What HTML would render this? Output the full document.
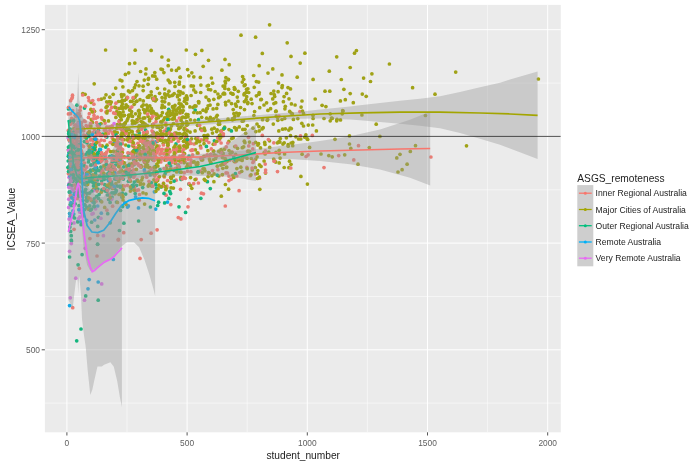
<!DOCTYPE html><html><head><meta charset="utf-8"><title>ICSEA_Value vs student_number</title>
<style>html,body{margin:0;padding:0;background:#fff}svg{display:block}text{font-family:"Liberation Sans",Arial,sans-serif}svg{will-change:transform}</style></head><body>
<svg width="700" height="466" viewBox="0 0 700 466">
<rect width="700" height="466" fill="#fff"/>
<rect x="44.9" y="4.9" width="515.9" height="427.4" fill="#EBEBEB"/>
<clipPath id="pc"><rect x="44.9" y="4.9" width="515.9" height="427.4"/></clipPath>
<g stroke="#fff" fill="none">
<line x1="127.0" x2="127.0" y1="4.9" y2="432.3" stroke-width="0.5"/>
<line x1="247.2" x2="247.2" y1="4.9" y2="432.3" stroke-width="0.5"/>
<line x1="367.4" x2="367.4" y1="4.9" y2="432.3" stroke-width="0.5"/>
<line x1="487.6" x2="487.6" y1="4.9" y2="432.3" stroke-width="0.5"/>
<line x1="44.9" x2="560.8" y1="403.1" y2="403.1" stroke-width="0.5"/>
<line x1="44.9" x2="560.8" y1="296.5" y2="296.5" stroke-width="0.5"/>
<line x1="44.9" x2="560.8" y1="189.8" y2="189.8" stroke-width="0.5"/>
<line x1="44.9" x2="560.8" y1="83.1" y2="83.1" stroke-width="0.5"/>
<line x1="66.9" x2="66.9" y1="4.9" y2="432.3" stroke-width="1"/>
<line x1="187.1" x2="187.1" y1="4.9" y2="432.3" stroke-width="1"/>
<line x1="307.3" x2="307.3" y1="4.9" y2="432.3" stroke-width="1"/>
<line x1="427.5" x2="427.5" y1="4.9" y2="432.3" stroke-width="1"/>
<line x1="547.7" x2="547.7" y1="4.9" y2="432.3" stroke-width="1"/>
<line x1="44.9" x2="560.8" y1="349.8" y2="349.8" stroke-width="1"/>
<line x1="44.9" x2="560.8" y1="243.1" y2="243.1" stroke-width="1"/>
<line x1="44.9" x2="560.8" y1="136.4" y2="136.4" stroke-width="1"/>
<line x1="44.9" x2="560.8" y1="29.7" y2="29.7" stroke-width="1"/>
</g>
<g clip-path="url(#pc)">
<g>
<circle cx="269.5" cy="140.8" r="1.85" fill="#A0A216"/>
<circle cx="249.5" cy="142.1" r="1.85" fill="#A0A216"/>
<circle cx="79.1" cy="155.2" r="1.85" fill="#EA7C74"/>
<circle cx="265.1" cy="153.9" r="1.85" fill="#A0A216"/>
<circle cx="95.4" cy="146.9" r="1.85" fill="#A0A216"/>
<circle cx="120.5" cy="116.8" r="1.85" fill="#A0A216"/>
<circle cx="278.8" cy="130.9" r="1.85" fill="#A0A216"/>
<circle cx="265.5" cy="173.1" r="1.85" fill="#A0A216"/>
<circle cx="196.9" cy="165.3" r="1.85" fill="#EA7C74"/>
<circle cx="155.4" cy="156.6" r="1.85" fill="#EA7C74"/>
<circle cx="277.7" cy="117.5" r="1.85" fill="#A0A216"/>
<circle cx="89.3" cy="181.8" r="1.85" fill="#13B57D"/>
<circle cx="90.7" cy="165.5" r="1.85" fill="#EA7C74"/>
<circle cx="138.8" cy="127.2" r="1.85" fill="#A0A216"/>
<circle cx="100.6" cy="200.8" r="1.85" fill="#13B57D"/>
<circle cx="79.8" cy="130.5" r="1.85" fill="#EA7C74"/>
<circle cx="74.3" cy="146.6" r="1.85" fill="#13B57D"/>
<circle cx="201.4" cy="193.2" r="1.85" fill="#EA7C74"/>
<circle cx="72.7" cy="307.7" r="1.85" fill="#EA7C74"/>
<circle cx="213.9" cy="181.7" r="1.85" fill="#A0A216"/>
<circle cx="197.5" cy="125.3" r="1.85" fill="#A0A216"/>
<circle cx="79.7" cy="128.1" r="1.85" fill="#13B57D"/>
<circle cx="216.7" cy="108.4" r="1.85" fill="#A0A216"/>
<circle cx="134.9" cy="123.2" r="1.85" fill="#A0A216"/>
<circle cx="116.7" cy="145.7" r="1.85" fill="#EA7C74"/>
<circle cx="249.7" cy="151.3" r="1.85" fill="#A0A216"/>
<circle cx="299.9" cy="111.6" r="1.85" fill="#EA7C74"/>
<circle cx="73.0" cy="181.3" r="1.85" fill="#13B57D"/>
<circle cx="156.7" cy="79.2" r="1.85" fill="#A0A216"/>
<circle cx="81.1" cy="164.0" r="1.85" fill="#13B57D"/>
<circle cx="88.4" cy="145.2" r="1.85" fill="#EA7C74"/>
<circle cx="291.2" cy="113.1" r="1.85" fill="#A0A216"/>
<circle cx="145.8" cy="174.1" r="1.85" fill="#EA7C74"/>
<circle cx="90.6" cy="170.2" r="1.85" fill="#13B57D"/>
<circle cx="218.8" cy="122.1" r="1.85" fill="#A0A216"/>
<circle cx="223.1" cy="153.8" r="1.85" fill="#A0A216"/>
<circle cx="88.9" cy="134.2" r="1.85" fill="#13B57D"/>
<circle cx="69.0" cy="130.8" r="1.85" fill="#13B57D"/>
<circle cx="72.4" cy="198.0" r="1.85" fill="#13B57D"/>
<circle cx="185.7" cy="145.4" r="1.85" fill="#EA7C74"/>
<circle cx="110.1" cy="142.5" r="1.85" fill="#EA7C74"/>
<circle cx="144.3" cy="155.1" r="1.85" fill="#EA7C74"/>
<circle cx="101.2" cy="140.1" r="1.85" fill="#EA7C74"/>
<circle cx="124.5" cy="115.3" r="1.85" fill="#A0A216"/>
<circle cx="224.5" cy="149.2" r="1.85" fill="#A0A216"/>
<circle cx="91.5" cy="175.1" r="1.85" fill="#EA7C74"/>
<circle cx="282.6" cy="129.2" r="1.85" fill="#A0A216"/>
<circle cx="93.3" cy="189.6" r="1.85" fill="#A0A216"/>
<circle cx="102.1" cy="168.0" r="1.85" fill="#EA7C74"/>
<circle cx="147.0" cy="132.9" r="1.85" fill="#A0A216"/>
<circle cx="238.3" cy="91.3" r="1.85" fill="#A0A216"/>
<circle cx="176.7" cy="120.9" r="1.85" fill="#EA7C74"/>
<circle cx="101.0" cy="161.6" r="1.85" fill="#EA7C74"/>
<circle cx="170.6" cy="193.6" r="1.85" fill="#13B57D"/>
<circle cx="88.2" cy="208.7" r="1.85" fill="#13B57D"/>
<circle cx="163.5" cy="183.1" r="1.85" fill="#EA7C74"/>
<circle cx="101.2" cy="192.2" r="1.85" fill="#A0A216"/>
<circle cx="172.6" cy="106.5" r="1.85" fill="#A0A216"/>
<circle cx="71.6" cy="205.2" r="1.85" fill="#DC73E7"/>
<circle cx="302.1" cy="154.2" r="1.85" fill="#A0A216"/>
<circle cx="91.0" cy="139.0" r="1.85" fill="#EA7C74"/>
<circle cx="153.1" cy="132.4" r="1.85" fill="#EA7C74"/>
<circle cx="201.5" cy="160.0" r="1.85" fill="#A0A216"/>
<circle cx="71.8" cy="98.6" r="1.85" fill="#EA7C74"/>
<circle cx="182.9" cy="134.3" r="1.85" fill="#A0A216"/>
<circle cx="210.7" cy="89.8" r="1.85" fill="#A0A216"/>
<circle cx="68.3" cy="130.4" r="1.85" fill="#EA7C74"/>
<circle cx="140.0" cy="258.4" r="1.85" fill="#EA7C74"/>
<circle cx="161.5" cy="150.4" r="1.85" fill="#EA7C74"/>
<circle cx="79.3" cy="145.0" r="1.85" fill="#13B57D"/>
<circle cx="219.4" cy="135.7" r="1.85" fill="#A0A216"/>
<circle cx="116.9" cy="111.4" r="1.85" fill="#A0A216"/>
<circle cx="86.3" cy="183.8" r="1.85" fill="#13B57D"/>
<circle cx="336.7" cy="56.8" r="1.85" fill="#A0A216"/>
<circle cx="255.6" cy="174.0" r="1.85" fill="#EA7C74"/>
<circle cx="177.7" cy="151.1" r="1.85" fill="#A0A216"/>
<circle cx="168.9" cy="91.2" r="1.85" fill="#A0A216"/>
<circle cx="89.7" cy="125.7" r="1.85" fill="#EA7C74"/>
<circle cx="171.6" cy="162.1" r="1.85" fill="#EA7C74"/>
<circle cx="303.5" cy="113.4" r="1.85" fill="#A0A216"/>
<circle cx="90.0" cy="151.3" r="1.85" fill="#EA7C74"/>
<circle cx="158.5" cy="177.6" r="1.85" fill="#EA7C74"/>
<circle cx="92.1" cy="155.4" r="1.85" fill="#14A9E5"/>
<circle cx="117.2" cy="150.8" r="1.85" fill="#13B57D"/>
<circle cx="69.4" cy="169.2" r="1.85" fill="#EA7C74"/>
<circle cx="94.1" cy="203.1" r="1.85" fill="#13B57D"/>
<circle cx="277.8" cy="120.3" r="1.85" fill="#A0A216"/>
<circle cx="99.8" cy="149.3" r="1.85" fill="#13B57D"/>
<circle cx="140.4" cy="184.5" r="1.85" fill="#A0A216"/>
<circle cx="155.3" cy="167.7" r="1.85" fill="#A0A216"/>
<circle cx="182.1" cy="112.5" r="1.85" fill="#A0A216"/>
<circle cx="78.6" cy="123.3" r="1.85" fill="#EA7C74"/>
<circle cx="72.4" cy="147.9" r="1.85" fill="#13B57D"/>
<circle cx="96.0" cy="189.2" r="1.85" fill="#13B57D"/>
<circle cx="124.8" cy="202.5" r="1.85" fill="#14A9E5"/>
<circle cx="80.2" cy="190.9" r="1.85" fill="#EA7C74"/>
<circle cx="143.2" cy="90.6" r="1.85" fill="#A0A216"/>
<circle cx="105.9" cy="168.8" r="1.85" fill="#13B57D"/>
<circle cx="82.7" cy="174.8" r="1.85" fill="#EA7C74"/>
<circle cx="173.3" cy="175.9" r="1.85" fill="#A0A216"/>
<circle cx="141.3" cy="167.1" r="1.85" fill="#A0A216"/>
<circle cx="107.4" cy="185.9" r="1.85" fill="#13B57D"/>
<circle cx="91.3" cy="119.5" r="1.85" fill="#A0A216"/>
<circle cx="175.3" cy="159.8" r="1.85" fill="#EA7C74"/>
<circle cx="69.7" cy="213.6" r="1.85" fill="#13B57D"/>
<circle cx="114.8" cy="151.7" r="1.85" fill="#A0A216"/>
<circle cx="105.8" cy="134.3" r="1.85" fill="#14A9E5"/>
<circle cx="105.5" cy="189.9" r="1.85" fill="#13B57D"/>
<circle cx="126.4" cy="165.9" r="1.85" fill="#EA7C74"/>
<circle cx="91.6" cy="222.2" r="1.85" fill="#13B57D"/>
<circle cx="217.7" cy="137.8" r="1.85" fill="#EA7C74"/>
<circle cx="118.6" cy="181.4" r="1.85" fill="#A0A216"/>
<circle cx="70.6" cy="100.7" r="1.85" fill="#EA7C74"/>
<circle cx="169.5" cy="130.6" r="1.85" fill="#A0A216"/>
<circle cx="251.2" cy="99.2" r="1.85" fill="#A0A216"/>
<circle cx="123.9" cy="139.7" r="1.85" fill="#A0A216"/>
<circle cx="154.8" cy="113.6" r="1.85" fill="#A0A216"/>
<circle cx="187.1" cy="97.7" r="1.85" fill="#A0A216"/>
<circle cx="143.0" cy="143.1" r="1.85" fill="#A0A216"/>
<circle cx="106.2" cy="131.6" r="1.85" fill="#EA7C74"/>
<circle cx="113.0" cy="187.0" r="1.85" fill="#13B57D"/>
<circle cx="72.1" cy="157.6" r="1.85" fill="#13B57D"/>
<circle cx="78.1" cy="264.8" r="1.85" fill="#13B57D"/>
<circle cx="167.0" cy="142.5" r="1.85" fill="#A0A216"/>
<circle cx="207.4" cy="181.7" r="1.85" fill="#13B57D"/>
<circle cx="76.0" cy="131.0" r="1.85" fill="#EA7C74"/>
<circle cx="118.1" cy="163.6" r="1.85" fill="#A0A216"/>
<circle cx="156.3" cy="171.7" r="1.85" fill="#A0A216"/>
<circle cx="132.1" cy="185.7" r="1.85" fill="#13B57D"/>
<circle cx="101.2" cy="170.6" r="1.85" fill="#13B57D"/>
<circle cx="147.4" cy="108.2" r="1.85" fill="#A0A216"/>
<circle cx="155.4" cy="182.7" r="1.85" fill="#A0A216"/>
<circle cx="258.9" cy="126.6" r="1.85" fill="#A0A216"/>
<circle cx="93.2" cy="140.6" r="1.85" fill="#EA7C74"/>
<circle cx="112.2" cy="137.8" r="1.85" fill="#EA7C74"/>
<circle cx="366.2" cy="96.3" r="1.85" fill="#A0A216"/>
<circle cx="147.3" cy="157.0" r="1.85" fill="#EA7C74"/>
<circle cx="80.7" cy="167.8" r="1.85" fill="#14A9E5"/>
<circle cx="91.2" cy="102.5" r="1.85" fill="#A0A216"/>
<circle cx="354.5" cy="53.2" r="1.85" fill="#A0A216"/>
<circle cx="173.2" cy="156.3" r="1.85" fill="#A0A216"/>
<circle cx="171.6" cy="141.1" r="1.85" fill="#EA7C74"/>
<circle cx="84.3" cy="141.6" r="1.85" fill="#13B57D"/>
<circle cx="169.0" cy="119.2" r="1.85" fill="#A0A216"/>
<circle cx="68.7" cy="207.4" r="1.85" fill="#DC73E7"/>
<circle cx="259.2" cy="65.7" r="1.85" fill="#A0A216"/>
<circle cx="204.0" cy="143.7" r="1.85" fill="#A0A216"/>
<circle cx="110.1" cy="170.2" r="1.85" fill="#EA7C74"/>
<circle cx="108.4" cy="179.4" r="1.85" fill="#13B57D"/>
<circle cx="257.3" cy="173.5" r="1.85" fill="#A0A216"/>
<circle cx="82.6" cy="154.6" r="1.85" fill="#EA7C74"/>
<circle cx="229.2" cy="64.7" r="1.85" fill="#A0A216"/>
<circle cx="81.5" cy="168.9" r="1.85" fill="#EA7C74"/>
<circle cx="119.4" cy="164.0" r="1.85" fill="#EA7C74"/>
<circle cx="115.1" cy="143.1" r="1.85" fill="#EA7C74"/>
<circle cx="124.5" cy="171.5" r="1.85" fill="#13B57D"/>
<circle cx="94.9" cy="138.8" r="1.85" fill="#EA7C74"/>
<circle cx="233.2" cy="137.8" r="1.85" fill="#A0A216"/>
<circle cx="165.6" cy="95.3" r="1.85" fill="#A0A216"/>
<circle cx="76.1" cy="136.0" r="1.85" fill="#EA7C74"/>
<circle cx="111.5" cy="181.9" r="1.85" fill="#13B57D"/>
<circle cx="68.5" cy="149.6" r="1.85" fill="#13B57D"/>
<circle cx="69.0" cy="166.7" r="1.85" fill="#13B57D"/>
<circle cx="74.8" cy="146.7" r="1.85" fill="#13B57D"/>
<circle cx="342.2" cy="113.8" r="1.85" fill="#A0A216"/>
<circle cx="278.1" cy="91.7" r="1.85" fill="#A0A216"/>
<circle cx="153.9" cy="179.8" r="1.85" fill="#A0A216"/>
<circle cx="260.8" cy="99.7" r="1.85" fill="#A0A216"/>
<circle cx="99.9" cy="133.7" r="1.85" fill="#EA7C74"/>
<circle cx="262.0" cy="128.9" r="1.85" fill="#A0A216"/>
<circle cx="111.4" cy="163.5" r="1.85" fill="#13B57D"/>
<circle cx="213.7" cy="151.1" r="1.85" fill="#EA7C74"/>
<circle cx="79.0" cy="205.7" r="1.85" fill="#13B57D"/>
<circle cx="115.6" cy="161.5" r="1.85" fill="#13B57D"/>
<circle cx="109.2" cy="187.8" r="1.85" fill="#13B57D"/>
<circle cx="132.3" cy="137.4" r="1.85" fill="#13B57D"/>
<circle cx="93.5" cy="169.6" r="1.85" fill="#13B57D"/>
<circle cx="324.0" cy="167.6" r="1.85" fill="#EA7C74"/>
<circle cx="238.2" cy="115.4" r="1.85" fill="#A0A216"/>
<circle cx="186.3" cy="50.0" r="1.85" fill="#A0A216"/>
<circle cx="120.2" cy="194.1" r="1.85" fill="#A0A216"/>
<circle cx="179.8" cy="94.8" r="1.85" fill="#A0A216"/>
<circle cx="184.6" cy="128.1" r="1.85" fill="#A0A216"/>
<circle cx="307.1" cy="138.7" r="1.85" fill="#A0A216"/>
<circle cx="133.9" cy="163.5" r="1.85" fill="#A0A216"/>
<circle cx="209.2" cy="173.1" r="1.85" fill="#A0A216"/>
<circle cx="297.8" cy="118.6" r="1.85" fill="#A0A216"/>
<circle cx="159.3" cy="139.3" r="1.85" fill="#A0A216"/>
<circle cx="89.0" cy="136.2" r="1.85" fill="#13B57D"/>
<circle cx="137.9" cy="143.3" r="1.85" fill="#EA7C74"/>
<circle cx="76.7" cy="340.8" r="1.85" fill="#13B57D"/>
<circle cx="157.1" cy="229.8" r="1.85" fill="#EA7C74"/>
<circle cx="142.9" cy="123.8" r="1.85" fill="#A0A216"/>
<circle cx="257.1" cy="156.8" r="1.85" fill="#A0A216"/>
<circle cx="143.8" cy="148.8" r="1.85" fill="#A0A216"/>
<circle cx="225.4" cy="184.5" r="1.85" fill="#A0A216"/>
<circle cx="186.6" cy="121.5" r="1.85" fill="#A0A216"/>
<circle cx="146.5" cy="110.2" r="1.85" fill="#A0A216"/>
<circle cx="94.4" cy="138.6" r="1.85" fill="#13B57D"/>
<circle cx="168.8" cy="170.9" r="1.85" fill="#A0A216"/>
<circle cx="94.2" cy="144.2" r="1.85" fill="#EA7C74"/>
<circle cx="71.2" cy="164.0" r="1.85" fill="#EA7C74"/>
<circle cx="128.9" cy="141.4" r="1.85" fill="#EA7C74"/>
<circle cx="273.8" cy="142.8" r="1.85" fill="#EA7C74"/>
<circle cx="191.5" cy="138.8" r="1.85" fill="#A0A216"/>
<circle cx="342.7" cy="110.7" r="1.85" fill="#A0A216"/>
<circle cx="217.9" cy="169.7" r="1.85" fill="#EA7C74"/>
<circle cx="132.1" cy="101.3" r="1.85" fill="#A0A216"/>
<circle cx="121.3" cy="169.8" r="1.85" fill="#A0A216"/>
<circle cx="79.4" cy="180.4" r="1.85" fill="#13B57D"/>
<circle cx="196.2" cy="179.1" r="1.85" fill="#EA7C74"/>
<circle cx="145.0" cy="150.3" r="1.85" fill="#A0A216"/>
<circle cx="140.0" cy="99.7" r="1.85" fill="#A0A216"/>
<circle cx="203.8" cy="139.9" r="1.85" fill="#A0A216"/>
<circle cx="74.0" cy="160.2" r="1.85" fill="#EA7C74"/>
<circle cx="136.4" cy="190.4" r="1.85" fill="#EA7C74"/>
<circle cx="214.4" cy="140.8" r="1.85" fill="#13B57D"/>
<circle cx="186.0" cy="129.3" r="1.85" fill="#EA7C74"/>
<circle cx="410.3" cy="151.4" r="1.85" fill="#A0A216"/>
<circle cx="168.2" cy="145.0" r="1.85" fill="#EA7C74"/>
<circle cx="166.6" cy="187.7" r="1.85" fill="#A0A216"/>
<circle cx="214.2" cy="128.2" r="1.85" fill="#A0A216"/>
<circle cx="290.5" cy="88.9" r="1.85" fill="#A0A216"/>
<circle cx="260.5" cy="147.9" r="1.85" fill="#A0A216"/>
<circle cx="71.0" cy="192.0" r="1.85" fill="#14A9E5"/>
<circle cx="213.8" cy="99.3" r="1.85" fill="#A0A216"/>
<circle cx="76.8" cy="163.0" r="1.85" fill="#13B57D"/>
<circle cx="95.9" cy="175.1" r="1.85" fill="#A0A216"/>
<circle cx="118.1" cy="114.2" r="1.85" fill="#A0A216"/>
<circle cx="116.1" cy="179.2" r="1.85" fill="#13B57D"/>
<circle cx="69.6" cy="257.0" r="1.85" fill="#13B57D"/>
<circle cx="83.7" cy="180.5" r="1.85" fill="#DC73E7"/>
<circle cx="264.7" cy="142.4" r="1.85" fill="#A0A216"/>
<circle cx="79.3" cy="186.9" r="1.85" fill="#DC73E7"/>
<circle cx="92.7" cy="110.2" r="1.85" fill="#EA7C74"/>
<circle cx="174.9" cy="133.1" r="1.85" fill="#A0A216"/>
<circle cx="110.8" cy="127.1" r="1.85" fill="#EA7C74"/>
<circle cx="200.9" cy="85.1" r="1.85" fill="#A0A216"/>
<circle cx="89.0" cy="193.5" r="1.85" fill="#A0A216"/>
<circle cx="168.2" cy="155.0" r="1.85" fill="#EA7C74"/>
<circle cx="190.5" cy="119.8" r="1.85" fill="#A0A216"/>
<circle cx="213.3" cy="144.2" r="1.85" fill="#A0A216"/>
<circle cx="138.4" cy="111.0" r="1.85" fill="#A0A216"/>
<circle cx="73.8" cy="128.6" r="1.85" fill="#A0A216"/>
<circle cx="70.2" cy="136.2" r="1.85" fill="#EA7C74"/>
<circle cx="152.4" cy="135.7" r="1.85" fill="#A0A216"/>
<circle cx="93.6" cy="163.4" r="1.85" fill="#13B57D"/>
<circle cx="117.6" cy="152.0" r="1.85" fill="#A0A216"/>
<circle cx="128.4" cy="90.9" r="1.85" fill="#A0A216"/>
<circle cx="110.1" cy="110.3" r="1.85" fill="#EA7C74"/>
<circle cx="292.8" cy="142.4" r="1.85" fill="#A0A216"/>
<circle cx="163.3" cy="143.2" r="1.85" fill="#A0A216"/>
<circle cx="119.9" cy="126.1" r="1.85" fill="#EA7C74"/>
<circle cx="91.3" cy="156.7" r="1.85" fill="#13B57D"/>
<circle cx="101.7" cy="181.1" r="1.85" fill="#13B57D"/>
<circle cx="121.7" cy="176.7" r="1.85" fill="#EA7C74"/>
<circle cx="258.6" cy="143.7" r="1.85" fill="#A0A216"/>
<circle cx="103.0" cy="158.7" r="1.85" fill="#13B57D"/>
<circle cx="178.3" cy="217.6" r="1.85" fill="#EA7C74"/>
<circle cx="141.9" cy="106.4" r="1.85" fill="#A0A216"/>
<circle cx="79.6" cy="130.2" r="1.85" fill="#13B57D"/>
<circle cx="185.1" cy="161.7" r="1.85" fill="#EA7C74"/>
<circle cx="72.0" cy="185.5" r="1.85" fill="#13B57D"/>
<circle cx="68.8" cy="137.1" r="1.85" fill="#EA7C74"/>
<circle cx="83.4" cy="194.7" r="1.85" fill="#EA7C74"/>
<circle cx="96.8" cy="160.6" r="1.85" fill="#13B57D"/>
<circle cx="126.2" cy="99.2" r="1.85" fill="#A0A216"/>
<circle cx="246.9" cy="167.4" r="1.85" fill="#EA7C74"/>
<circle cx="166.8" cy="165.9" r="1.85" fill="#A0A216"/>
<circle cx="167.7" cy="158.9" r="1.85" fill="#EA7C74"/>
<circle cx="140.8" cy="158.0" r="1.85" fill="#EA7C74"/>
<circle cx="85.1" cy="94.3" r="1.85" fill="#A0A216"/>
<circle cx="144.7" cy="171.4" r="1.85" fill="#EA7C74"/>
<circle cx="96.7" cy="181.5" r="1.85" fill="#EA7C74"/>
<circle cx="78.7" cy="122.3" r="1.85" fill="#EA7C74"/>
<circle cx="119.9" cy="145.5" r="1.85" fill="#EA7C74"/>
<circle cx="264.2" cy="152.5" r="1.85" fill="#A0A216"/>
<circle cx="148.1" cy="116.5" r="1.85" fill="#A0A216"/>
<circle cx="280.1" cy="158.1" r="1.85" fill="#A0A216"/>
<circle cx="274.9" cy="161.0" r="1.85" fill="#EA7C74"/>
<circle cx="253.3" cy="143.7" r="1.85" fill="#EA7C74"/>
<circle cx="71.3" cy="235.7" r="1.85" fill="#13B57D"/>
<circle cx="159.0" cy="146.0" r="1.85" fill="#EA7C74"/>
<circle cx="69.1" cy="139.5" r="1.85" fill="#13B57D"/>
<circle cx="158.2" cy="116.2" r="1.85" fill="#A0A216"/>
<circle cx="95.4" cy="150.1" r="1.85" fill="#EA7C74"/>
<circle cx="396.8" cy="157.9" r="1.85" fill="#A0A216"/>
<circle cx="86.2" cy="125.6" r="1.85" fill="#EA7C74"/>
<circle cx="70.3" cy="297.8" r="1.85" fill="#DC73E7"/>
<circle cx="110.5" cy="157.3" r="1.85" fill="#EA7C74"/>
<circle cx="83.2" cy="158.0" r="1.85" fill="#EA7C74"/>
<circle cx="175.0" cy="113.9" r="1.85" fill="#A0A216"/>
<circle cx="356.4" cy="50.6" r="1.85" fill="#A0A216"/>
<circle cx="143.0" cy="192.8" r="1.85" fill="#A0A216"/>
<circle cx="234.8" cy="116.4" r="1.85" fill="#A0A216"/>
<circle cx="119.5" cy="120.7" r="1.85" fill="#A0A216"/>
<circle cx="121.2" cy="151.5" r="1.85" fill="#EA7C74"/>
<circle cx="78.8" cy="173.3" r="1.85" fill="#EA7C74"/>
<circle cx="70.0" cy="134.3" r="1.85" fill="#14A9E5"/>
<circle cx="70.2" cy="129.2" r="1.85" fill="#13B57D"/>
<circle cx="170.6" cy="165.9" r="1.85" fill="#13B57D"/>
<circle cx="236.8" cy="175.9" r="1.85" fill="#EA7C74"/>
<circle cx="157.2" cy="135.8" r="1.85" fill="#A0A216"/>
<circle cx="75.9" cy="159.6" r="1.85" fill="#EA7C74"/>
<circle cx="194.8" cy="120.3" r="1.85" fill="#A0A216"/>
<circle cx="225.7" cy="104.8" r="1.85" fill="#A0A216"/>
<circle cx="232.5" cy="119.8" r="1.85" fill="#A0A216"/>
<circle cx="70.6" cy="149.2" r="1.85" fill="#13B57D"/>
<circle cx="196.0" cy="106.1" r="1.85" fill="#A0A216"/>
<circle cx="78.1" cy="189.6" r="1.85" fill="#14A9E5"/>
<circle cx="112.3" cy="128.0" r="1.85" fill="#EA7C74"/>
<circle cx="79.0" cy="123.2" r="1.85" fill="#13B57D"/>
<circle cx="118.6" cy="154.7" r="1.85" fill="#EA7C74"/>
<circle cx="235.1" cy="89.1" r="1.85" fill="#A0A216"/>
<circle cx="106.8" cy="137.1" r="1.85" fill="#13B57D"/>
<circle cx="206.9" cy="138.5" r="1.85" fill="#A0A216"/>
<circle cx="259.8" cy="189.3" r="1.85" fill="#A0A216"/>
<circle cx="173.8" cy="108.1" r="1.85" fill="#A0A216"/>
<circle cx="250.2" cy="175.7" r="1.85" fill="#EA7C74"/>
<circle cx="111.1" cy="173.2" r="1.85" fill="#A0A216"/>
<circle cx="70.9" cy="196.4" r="1.85" fill="#EA7C74"/>
<circle cx="120.2" cy="124.4" r="1.85" fill="#A0A216"/>
<circle cx="284.7" cy="118.5" r="1.85" fill="#A0A216"/>
<circle cx="223.4" cy="129.2" r="1.85" fill="#A0A216"/>
<circle cx="151.7" cy="158.1" r="1.85" fill="#13B57D"/>
<circle cx="169.5" cy="115.5" r="1.85" fill="#A0A216"/>
<circle cx="109.2" cy="167.0" r="1.85" fill="#13B57D"/>
<circle cx="116.5" cy="202.1" r="1.85" fill="#13B57D"/>
<circle cx="236.3" cy="129.9" r="1.85" fill="#A0A216"/>
<circle cx="182.4" cy="159.9" r="1.85" fill="#A0A216"/>
<circle cx="187.6" cy="69.6" r="1.85" fill="#A0A216"/>
<circle cx="70.9" cy="179.2" r="1.85" fill="#14A9E5"/>
<circle cx="79.1" cy="129.8" r="1.85" fill="#13B57D"/>
<circle cx="135.6" cy="196.8" r="1.85" fill="#14A9E5"/>
<circle cx="133.5" cy="144.7" r="1.85" fill="#EA7C74"/>
<circle cx="133.6" cy="159.8" r="1.85" fill="#13B57D"/>
<circle cx="276.0" cy="152.3" r="1.85" fill="#A0A216"/>
<circle cx="219.5" cy="140.0" r="1.85" fill="#EA7C74"/>
<circle cx="144.4" cy="162.2" r="1.85" fill="#EA7C74"/>
<circle cx="96.4" cy="157.5" r="1.85" fill="#13B57D"/>
<circle cx="114.2" cy="151.7" r="1.85" fill="#EA7C74"/>
<circle cx="217.2" cy="129.8" r="1.85" fill="#A0A216"/>
<circle cx="129.0" cy="116.4" r="1.85" fill="#A0A216"/>
<circle cx="164.4" cy="176.9" r="1.85" fill="#EA7C74"/>
<circle cx="104.7" cy="184.7" r="1.85" fill="#13B57D"/>
<circle cx="119.7" cy="158.0" r="1.85" fill="#13B57D"/>
<circle cx="200.3" cy="77.4" r="1.85" fill="#A0A216"/>
<circle cx="133.3" cy="138.7" r="1.85" fill="#EA7C74"/>
<circle cx="157.0" cy="145.9" r="1.85" fill="#A0A216"/>
<circle cx="122.5" cy="143.7" r="1.85" fill="#EA7C74"/>
<circle cx="203.5" cy="193.8" r="1.85" fill="#EA7C74"/>
<circle cx="267.7" cy="119.5" r="1.85" fill="#A0A216"/>
<circle cx="144.7" cy="145.5" r="1.85" fill="#A0A216"/>
<circle cx="79.1" cy="113.3" r="1.85" fill="#EA7C74"/>
<circle cx="174.3" cy="169.8" r="1.85" fill="#A0A216"/>
<circle cx="76.9" cy="105.2" r="1.85" fill="#13B57D"/>
<circle cx="184.9" cy="98.4" r="1.85" fill="#A0A216"/>
<circle cx="295.9" cy="136.8" r="1.85" fill="#A0A216"/>
<circle cx="139.0" cy="110.3" r="1.85" fill="#A0A216"/>
<circle cx="188.0" cy="159.2" r="1.85" fill="#EA7C74"/>
<circle cx="332.2" cy="118.4" r="1.85" fill="#A0A216"/>
<circle cx="168.7" cy="109.3" r="1.85" fill="#13B57D"/>
<circle cx="176.7" cy="138.0" r="1.85" fill="#EA7C74"/>
<circle cx="129.9" cy="172.2" r="1.85" fill="#A0A216"/>
<circle cx="134.4" cy="87.7" r="1.85" fill="#A0A216"/>
<circle cx="88.0" cy="288.8" r="1.85" fill="#14A9E5"/>
<circle cx="78.5" cy="186.4" r="1.85" fill="#13B57D"/>
<circle cx="322.1" cy="105.3" r="1.85" fill="#A0A216"/>
<circle cx="68.6" cy="154.8" r="1.85" fill="#14A9E5"/>
<circle cx="176.3" cy="133.0" r="1.85" fill="#A0A216"/>
<circle cx="187.1" cy="142.0" r="1.85" fill="#A0A216"/>
<circle cx="89.5" cy="154.0" r="1.85" fill="#EA7C74"/>
<circle cx="193.8" cy="89.9" r="1.85" fill="#A0A216"/>
<circle cx="81.9" cy="145.0" r="1.85" fill="#EA7C74"/>
<circle cx="259.2" cy="92.5" r="1.85" fill="#A0A216"/>
<circle cx="83.7" cy="130.7" r="1.85" fill="#EA7C74"/>
<circle cx="538.4" cy="79.0" r="1.85" fill="#A0A216"/>
<circle cx="125.7" cy="194.1" r="1.85" fill="#13B57D"/>
<circle cx="127.1" cy="97.3" r="1.85" fill="#A0A216"/>
<circle cx="98.4" cy="217.3" r="1.85" fill="#13B57D"/>
<circle cx="94.7" cy="220.0" r="1.85" fill="#14A9E5"/>
<circle cx="118.0" cy="155.8" r="1.85" fill="#EA7C74"/>
<circle cx="98.6" cy="162.6" r="1.85" fill="#EA7C74"/>
<circle cx="230.8" cy="93.1" r="1.85" fill="#A0A216"/>
<circle cx="165.8" cy="123.0" r="1.85" fill="#EA7C74"/>
<circle cx="114.6" cy="188.4" r="1.85" fill="#13B57D"/>
<circle cx="88.8" cy="171.9" r="1.85" fill="#13B57D"/>
<circle cx="143.6" cy="140.3" r="1.85" fill="#A0A216"/>
<circle cx="321.0" cy="154.0" r="1.85" fill="#A0A216"/>
<circle cx="71.9" cy="161.9" r="1.85" fill="#13B57D"/>
<circle cx="109.1" cy="169.6" r="1.85" fill="#A0A216"/>
<circle cx="221.1" cy="143.0" r="1.85" fill="#EA7C74"/>
<circle cx="290.2" cy="128.0" r="1.85" fill="#A0A216"/>
<circle cx="124.5" cy="100.5" r="1.85" fill="#A0A216"/>
<circle cx="113.2" cy="139.8" r="1.85" fill="#A0A216"/>
<circle cx="220.8" cy="131.1" r="1.85" fill="#A0A216"/>
<circle cx="72.2" cy="165.2" r="1.85" fill="#13B57D"/>
<circle cx="105.6" cy="50.0" r="1.85" fill="#A0A216"/>
<circle cx="86.9" cy="196.9" r="1.85" fill="#13B57D"/>
<circle cx="118.2" cy="240.0" r="1.85" fill="#EA7C74"/>
<circle cx="142.2" cy="125.2" r="1.85" fill="#A0A216"/>
<circle cx="120.1" cy="167.9" r="1.85" fill="#EA7C74"/>
<circle cx="114.8" cy="107.1" r="1.85" fill="#A0A216"/>
<circle cx="94.5" cy="111.3" r="1.85" fill="#A0A216"/>
<circle cx="76.5" cy="138.5" r="1.85" fill="#EA7C74"/>
<circle cx="109.0" cy="194.2" r="1.85" fill="#EA7C74"/>
<circle cx="108.2" cy="179.5" r="1.85" fill="#13B57D"/>
<circle cx="121.4" cy="94.6" r="1.85" fill="#A0A216"/>
<circle cx="140.0" cy="159.6" r="1.85" fill="#A0A216"/>
<circle cx="76.3" cy="146.8" r="1.85" fill="#13B57D"/>
<circle cx="114.7" cy="143.0" r="1.85" fill="#A0A216"/>
<circle cx="129.4" cy="177.8" r="1.85" fill="#A0A216"/>
<circle cx="115.7" cy="88.1" r="1.85" fill="#A0A216"/>
<circle cx="75.8" cy="157.9" r="1.85" fill="#13B57D"/>
<circle cx="225.2" cy="81.2" r="1.85" fill="#A0A216"/>
<circle cx="164.7" cy="93.9" r="1.85" fill="#A0A216"/>
<circle cx="157.4" cy="88.3" r="1.85" fill="#A0A216"/>
<circle cx="83.5" cy="146.6" r="1.85" fill="#EA7C74"/>
<circle cx="76.9" cy="140.4" r="1.85" fill="#EA7C74"/>
<circle cx="171.6" cy="70.1" r="1.85" fill="#A0A216"/>
<circle cx="139.2" cy="200.3" r="1.85" fill="#EA7C74"/>
<circle cx="218.6" cy="121.0" r="1.85" fill="#A0A216"/>
<circle cx="74.3" cy="157.2" r="1.85" fill="#13B57D"/>
<circle cx="235.4" cy="173.5" r="1.85" fill="#13B57D"/>
<circle cx="176.0" cy="143.9" r="1.85" fill="#13B57D"/>
<circle cx="169.0" cy="141.8" r="1.85" fill="#EA7C74"/>
<circle cx="122.2" cy="162.4" r="1.85" fill="#13B57D"/>
<circle cx="154.8" cy="72.6" r="1.85" fill="#A0A216"/>
<circle cx="466.5" cy="145.8" r="1.85" fill="#A0A216"/>
<circle cx="101.4" cy="117.6" r="1.85" fill="#EA7C74"/>
<circle cx="97.9" cy="189.1" r="1.85" fill="#13B57D"/>
<circle cx="138.2" cy="138.2" r="1.85" fill="#A0A216"/>
<circle cx="123.6" cy="127.6" r="1.85" fill="#A0A216"/>
<circle cx="138.7" cy="199.3" r="1.85" fill="#A0A216"/>
<circle cx="129.5" cy="164.0" r="1.85" fill="#A0A216"/>
<circle cx="113.2" cy="94.3" r="1.85" fill="#A0A216"/>
<circle cx="182.5" cy="158.0" r="1.85" fill="#EA7C74"/>
<circle cx="189.9" cy="106.9" r="1.85" fill="#A0A216"/>
<circle cx="138.6" cy="221.0" r="1.85" fill="#13B57D"/>
<circle cx="69.0" cy="152.6" r="1.85" fill="#13B57D"/>
<circle cx="157.6" cy="180.4" r="1.85" fill="#A0A216"/>
<circle cx="82.1" cy="254.6" r="1.85" fill="#13B57D"/>
<circle cx="169.0" cy="151.8" r="1.85" fill="#A0A216"/>
<circle cx="101.5" cy="173.4" r="1.85" fill="#EA7C74"/>
<circle cx="111.3" cy="102.1" r="1.85" fill="#A0A216"/>
<circle cx="210.5" cy="155.0" r="1.85" fill="#EA7C74"/>
<circle cx="79.6" cy="187.4" r="1.85" fill="#13B57D"/>
<circle cx="213.1" cy="108.9" r="1.85" fill="#A0A216"/>
<circle cx="247.8" cy="102.4" r="1.85" fill="#A0A216"/>
<circle cx="76.2" cy="174.0" r="1.85" fill="#14A9E5"/>
<circle cx="109.0" cy="102.4" r="1.85" fill="#A0A216"/>
<circle cx="83.0" cy="160.1" r="1.85" fill="#EA7C74"/>
<circle cx="105.9" cy="112.0" r="1.85" fill="#EA7C74"/>
<circle cx="74.8" cy="137.5" r="1.85" fill="#EA7C74"/>
<circle cx="200.2" cy="171.2" r="1.85" fill="#EA7C74"/>
<circle cx="225.5" cy="159.0" r="1.85" fill="#A0A216"/>
<circle cx="186.8" cy="136.2" r="1.85" fill="#A0A216"/>
<circle cx="168.4" cy="60.2" r="1.85" fill="#A0A216"/>
<circle cx="210.5" cy="154.5" r="1.85" fill="#A0A216"/>
<circle cx="86.7" cy="220.4" r="1.85" fill="#14A9E5"/>
<circle cx="171.0" cy="177.4" r="1.85" fill="#A0A216"/>
<circle cx="148.4" cy="158.3" r="1.85" fill="#A0A216"/>
<circle cx="312.3" cy="135.4" r="1.85" fill="#EA7C74"/>
<circle cx="98.4" cy="130.3" r="1.85" fill="#13B57D"/>
<circle cx="174.3" cy="116.4" r="1.85" fill="#A0A216"/>
<circle cx="78.2" cy="194.4" r="1.85" fill="#13B57D"/>
<circle cx="235.2" cy="162.0" r="1.85" fill="#EA7C74"/>
<circle cx="147.9" cy="161.5" r="1.85" fill="#EA7C74"/>
<circle cx="180.8" cy="177.4" r="1.85" fill="#A0A216"/>
<circle cx="72.1" cy="156.1" r="1.85" fill="#EA7C74"/>
<circle cx="180.5" cy="161.1" r="1.85" fill="#EA7C74"/>
<circle cx="93.3" cy="190.8" r="1.85" fill="#DC73E7"/>
<circle cx="94.0" cy="148.7" r="1.85" fill="#A0A216"/>
<circle cx="309.6" cy="147.4" r="1.85" fill="#A0A216"/>
<circle cx="75.1" cy="154.6" r="1.85" fill="#EA7C74"/>
<circle cx="131.9" cy="106.8" r="1.85" fill="#EA7C74"/>
<circle cx="93.7" cy="112.1" r="1.85" fill="#EA7C74"/>
<circle cx="73.2" cy="175.4" r="1.85" fill="#14A9E5"/>
<circle cx="185.4" cy="178.3" r="1.85" fill="#EA7C74"/>
<circle cx="193.6" cy="183.6" r="1.85" fill="#EA7C74"/>
<circle cx="255.3" cy="167.5" r="1.85" fill="#A0A216"/>
<circle cx="134.4" cy="147.6" r="1.85" fill="#EA7C74"/>
<circle cx="75.7" cy="169.8" r="1.85" fill="#EA7C74"/>
<circle cx="88.5" cy="117.4" r="1.85" fill="#EA7C74"/>
<circle cx="113.3" cy="259.4" r="1.85" fill="#14A9E5"/>
<circle cx="114.9" cy="160.1" r="1.85" fill="#EA7C74"/>
<circle cx="163.5" cy="183.7" r="1.85" fill="#A0A216"/>
<circle cx="89.2" cy="152.0" r="1.85" fill="#A0A216"/>
<circle cx="185.3" cy="139.0" r="1.85" fill="#A0A216"/>
<circle cx="153.3" cy="160.0" r="1.85" fill="#13B57D"/>
<circle cx="164.3" cy="153.1" r="1.85" fill="#A0A216"/>
<circle cx="77.9" cy="221.0" r="1.85" fill="#14A9E5"/>
<circle cx="76.8" cy="185.5" r="1.85" fill="#13B57D"/>
<circle cx="248.5" cy="137.3" r="1.85" fill="#EA7C74"/>
<circle cx="291.4" cy="103.9" r="1.85" fill="#A0A216"/>
<circle cx="307.4" cy="184.1" r="1.85" fill="#A0A216"/>
<circle cx="101.2" cy="110.3" r="1.85" fill="#EA7C74"/>
<circle cx="221.3" cy="131.5" r="1.85" fill="#EA7C74"/>
<circle cx="92.4" cy="122.4" r="1.85" fill="#A0A216"/>
<circle cx="129.6" cy="173.5" r="1.85" fill="#A0A216"/>
<circle cx="97.7" cy="157.7" r="1.85" fill="#13B57D"/>
<circle cx="76.3" cy="143.0" r="1.85" fill="#EA7C74"/>
<circle cx="145.1" cy="166.3" r="1.85" fill="#EA7C74"/>
<circle cx="371.9" cy="73.8" r="1.85" fill="#A0A216"/>
<circle cx="161.6" cy="133.0" r="1.85" fill="#EA7C74"/>
<circle cx="81.4" cy="122.7" r="1.85" fill="#EA7C74"/>
<circle cx="69.9" cy="155.3" r="1.85" fill="#EA7C74"/>
<circle cx="90.2" cy="176.3" r="1.85" fill="#EA7C74"/>
<circle cx="187.0" cy="99.7" r="1.85" fill="#A0A216"/>
<circle cx="145.9" cy="134.7" r="1.85" fill="#A0A216"/>
<circle cx="71.3" cy="175.9" r="1.85" fill="#13B57D"/>
<circle cx="79.0" cy="160.8" r="1.85" fill="#13B57D"/>
<circle cx="259.6" cy="178.1" r="1.85" fill="#EA7C74"/>
<circle cx="84.4" cy="204.7" r="1.85" fill="#13B57D"/>
<circle cx="173.4" cy="188.1" r="1.85" fill="#A0A216"/>
<circle cx="106.7" cy="191.5" r="1.85" fill="#13B57D"/>
<circle cx="83.1" cy="215.9" r="1.85" fill="#13B57D"/>
<circle cx="112.6" cy="206.2" r="1.85" fill="#EA7C74"/>
<circle cx="136.9" cy="152.1" r="1.85" fill="#EA7C74"/>
<circle cx="68.4" cy="168.4" r="1.85" fill="#EA7C74"/>
<circle cx="156.5" cy="153.1" r="1.85" fill="#EA7C74"/>
<circle cx="291.1" cy="143.0" r="1.85" fill="#A0A216"/>
<circle cx="76.5" cy="115.5" r="1.85" fill="#EA7C74"/>
<circle cx="146.0" cy="163.4" r="1.85" fill="#A0A216"/>
<circle cx="398.0" cy="172.0" r="1.85" fill="#A0A216"/>
<circle cx="88.7" cy="198.7" r="1.85" fill="#13B57D"/>
<circle cx="74.9" cy="157.9" r="1.85" fill="#EA7C74"/>
<circle cx="122.3" cy="161.3" r="1.85" fill="#EA7C74"/>
<circle cx="165.4" cy="140.3" r="1.85" fill="#A0A216"/>
<circle cx="247.5" cy="151.4" r="1.85" fill="#EA7C74"/>
<circle cx="74.0" cy="134.3" r="1.85" fill="#13B57D"/>
<circle cx="88.1" cy="127.4" r="1.85" fill="#EA7C74"/>
<circle cx="233.2" cy="109.6" r="1.85" fill="#A0A216"/>
<circle cx="152.6" cy="98.3" r="1.85" fill="#A0A216"/>
<circle cx="128.8" cy="133.3" r="1.85" fill="#A0A216"/>
<circle cx="73.3" cy="144.1" r="1.85" fill="#13B57D"/>
<circle cx="240.0" cy="159.6" r="1.85" fill="#A0A216"/>
<circle cx="133.5" cy="98.3" r="1.85" fill="#A0A216"/>
<circle cx="165.6" cy="159.4" r="1.85" fill="#EA7C74"/>
<circle cx="75.6" cy="129.8" r="1.85" fill="#EA7C74"/>
<circle cx="109.7" cy="156.4" r="1.85" fill="#13B57D"/>
<circle cx="84.6" cy="163.1" r="1.85" fill="#EA7C74"/>
<circle cx="229.8" cy="160.2" r="1.85" fill="#EA7C74"/>
<circle cx="79.2" cy="191.0" r="1.85" fill="#14A9E5"/>
<circle cx="79.0" cy="195.0" r="1.85" fill="#13B57D"/>
<circle cx="85.4" cy="174.3" r="1.85" fill="#13B57D"/>
<circle cx="188.8" cy="184.1" r="1.85" fill="#13B57D"/>
<circle cx="137.5" cy="131.3" r="1.85" fill="#EA7C74"/>
<circle cx="89.3" cy="179.0" r="1.85" fill="#13B57D"/>
<circle cx="234.8" cy="146.6" r="1.85" fill="#A0A216"/>
<circle cx="139.0" cy="131.1" r="1.85" fill="#EA7C74"/>
<circle cx="244.4" cy="156.7" r="1.85" fill="#EA7C74"/>
<circle cx="89.5" cy="131.5" r="1.85" fill="#EA7C74"/>
<circle cx="208.1" cy="176.6" r="1.85" fill="#A0A216"/>
<circle cx="236.9" cy="168.6" r="1.85" fill="#A0A216"/>
<circle cx="188.8" cy="75.8" r="1.85" fill="#A0A216"/>
<circle cx="82.0" cy="210.8" r="1.85" fill="#14A9E5"/>
<circle cx="154.5" cy="151.4" r="1.85" fill="#A0A216"/>
<circle cx="209.4" cy="159.1" r="1.85" fill="#A0A216"/>
<circle cx="190.8" cy="143.2" r="1.85" fill="#A0A216"/>
<circle cx="123.7" cy="166.8" r="1.85" fill="#13B57D"/>
<circle cx="113.7" cy="143.5" r="1.85" fill="#14A9E5"/>
<circle cx="94.2" cy="198.8" r="1.85" fill="#13B57D"/>
<circle cx="77.8" cy="222.0" r="1.85" fill="#13B57D"/>
<circle cx="148.7" cy="159.5" r="1.85" fill="#A0A216"/>
<circle cx="71.9" cy="188.4" r="1.85" fill="#DC73E7"/>
<circle cx="162.3" cy="105.1" r="1.85" fill="#A0A216"/>
<circle cx="345.3" cy="99.7" r="1.85" fill="#A0A216"/>
<circle cx="168.3" cy="111.9" r="1.85" fill="#A0A216"/>
<circle cx="114.9" cy="193.8" r="1.85" fill="#A0A216"/>
<circle cx="115.4" cy="165.0" r="1.85" fill="#13B57D"/>
<circle cx="86.9" cy="173.1" r="1.85" fill="#13B57D"/>
<circle cx="69.0" cy="177.2" r="1.85" fill="#DC73E7"/>
<circle cx="80.9" cy="155.1" r="1.85" fill="#13B57D"/>
<circle cx="70.3" cy="204.6" r="1.85" fill="#13B57D"/>
<circle cx="141.2" cy="239.6" r="1.85" fill="#EA7C74"/>
<circle cx="158.5" cy="178.0" r="1.85" fill="#EA7C74"/>
<circle cx="161.0" cy="186.9" r="1.85" fill="#13B57D"/>
<circle cx="84.7" cy="209.6" r="1.85" fill="#13B57D"/>
<circle cx="223.0" cy="164.1" r="1.85" fill="#A0A216"/>
<circle cx="369.3" cy="147.6" r="1.85" fill="#A0A216"/>
<circle cx="125.0" cy="171.0" r="1.85" fill="#EA7C74"/>
<circle cx="125.8" cy="145.0" r="1.85" fill="#A0A216"/>
<circle cx="70.6" cy="131.1" r="1.85" fill="#EA7C74"/>
<circle cx="166.3" cy="134.4" r="1.85" fill="#A0A216"/>
<circle cx="179.3" cy="118.0" r="1.85" fill="#EA7C74"/>
<circle cx="170.5" cy="159.0" r="1.85" fill="#A0A216"/>
<circle cx="112.0" cy="155.7" r="1.85" fill="#13B57D"/>
<circle cx="83.8" cy="177.0" r="1.85" fill="#EA7C74"/>
<circle cx="200.6" cy="128.9" r="1.85" fill="#A0A216"/>
<circle cx="122.5" cy="108.4" r="1.85" fill="#A0A216"/>
<circle cx="122.2" cy="106.9" r="1.85" fill="#A0A216"/>
<circle cx="226.0" cy="172.9" r="1.85" fill="#EA7C74"/>
<circle cx="182.8" cy="106.0" r="1.85" fill="#A0A216"/>
<circle cx="108.4" cy="149.6" r="1.85" fill="#EA7C74"/>
<circle cx="201.8" cy="130.5" r="1.85" fill="#EA7C74"/>
<circle cx="192.6" cy="154.9" r="1.85" fill="#EA7C74"/>
<circle cx="228.9" cy="141.4" r="1.85" fill="#A0A216"/>
<circle cx="104.3" cy="140.5" r="1.85" fill="#EA7C74"/>
<circle cx="118.7" cy="144.0" r="1.85" fill="#A0A216"/>
<circle cx="232.6" cy="93.9" r="1.85" fill="#A0A216"/>
<circle cx="190.9" cy="171.7" r="1.85" fill="#EA7C74"/>
<circle cx="117.5" cy="108.4" r="1.85" fill="#EA7C74"/>
<circle cx="157.2" cy="141.5" r="1.85" fill="#A0A216"/>
<circle cx="165.8" cy="189.7" r="1.85" fill="#A0A216"/>
<circle cx="162.4" cy="112.7" r="1.85" fill="#A0A216"/>
<circle cx="218.9" cy="176.0" r="1.85" fill="#A0A216"/>
<circle cx="282.0" cy="119.5" r="1.85" fill="#A0A216"/>
<circle cx="106.0" cy="176.4" r="1.85" fill="#13B57D"/>
<circle cx="178.1" cy="165.0" r="1.85" fill="#13B57D"/>
<circle cx="86.7" cy="207.1" r="1.85" fill="#13B57D"/>
<circle cx="183.8" cy="86.8" r="1.85" fill="#A0A216"/>
<circle cx="217.2" cy="115.3" r="1.85" fill="#A0A216"/>
<circle cx="122.7" cy="185.9" r="1.85" fill="#A0A216"/>
<circle cx="126.1" cy="104.8" r="1.85" fill="#A0A216"/>
<circle cx="71.8" cy="137.2" r="1.85" fill="#EA7C74"/>
<circle cx="96.5" cy="196.4" r="1.85" fill="#13B57D"/>
<circle cx="68.4" cy="113.9" r="1.85" fill="#EA7C74"/>
<circle cx="145.6" cy="130.1" r="1.85" fill="#13B57D"/>
<circle cx="206.8" cy="135.9" r="1.85" fill="#A0A216"/>
<circle cx="130.5" cy="181.1" r="1.85" fill="#A0A216"/>
<circle cx="151.7" cy="153.6" r="1.85" fill="#EA7C74"/>
<circle cx="190.9" cy="159.8" r="1.85" fill="#EA7C74"/>
<circle cx="110.8" cy="142.5" r="1.85" fill="#EA7C74"/>
<circle cx="329.8" cy="91.2" r="1.85" fill="#A0A216"/>
<circle cx="70.1" cy="176.2" r="1.85" fill="#14A9E5"/>
<circle cx="155.0" cy="166.6" r="1.85" fill="#13B57D"/>
<circle cx="400.0" cy="154.3" r="1.85" fill="#A0A216"/>
<circle cx="183.7" cy="177.1" r="1.85" fill="#EA7C74"/>
<circle cx="231.7" cy="138.6" r="1.85" fill="#A0A216"/>
<circle cx="112.1" cy="162.9" r="1.85" fill="#EA7C74"/>
<circle cx="94.0" cy="183.2" r="1.85" fill="#13B57D"/>
<circle cx="69.6" cy="147.2" r="1.85" fill="#14A9E5"/>
<circle cx="74.1" cy="177.3" r="1.85" fill="#13B57D"/>
<circle cx="207.2" cy="154.8" r="1.85" fill="#EA7C74"/>
<circle cx="242.1" cy="160.4" r="1.85" fill="#A0A216"/>
<circle cx="239.7" cy="172.6" r="1.85" fill="#EA7C74"/>
<circle cx="166.2" cy="171.7" r="1.85" fill="#A0A216"/>
<circle cx="185.5" cy="136.6" r="1.85" fill="#EA7C74"/>
<circle cx="80.7" cy="125.5" r="1.85" fill="#EA7C74"/>
<circle cx="174.7" cy="153.4" r="1.85" fill="#A0A216"/>
<circle cx="162.1" cy="97.5" r="1.85" fill="#A0A216"/>
<circle cx="175.9" cy="148.6" r="1.85" fill="#A0A216"/>
<circle cx="123.4" cy="128.1" r="1.85" fill="#A0A216"/>
<circle cx="225.5" cy="102.3" r="1.85" fill="#A0A216"/>
<circle cx="210.9" cy="162.7" r="1.85" fill="#A0A216"/>
<circle cx="77.3" cy="127.4" r="1.85" fill="#13B57D"/>
<circle cx="73.5" cy="119.4" r="1.85" fill="#EA7C74"/>
<circle cx="155.3" cy="174.4" r="1.85" fill="#EA7C74"/>
<circle cx="91.0" cy="171.1" r="1.85" fill="#13B57D"/>
<circle cx="69.7" cy="146.2" r="1.85" fill="#13B57D"/>
<circle cx="120.9" cy="163.4" r="1.85" fill="#EA7C74"/>
<circle cx="76.6" cy="151.7" r="1.85" fill="#13B57D"/>
<circle cx="166.1" cy="195.2" r="1.85" fill="#EA7C74"/>
<circle cx="184.4" cy="140.6" r="1.85" fill="#A0A216"/>
<circle cx="146.1" cy="193.8" r="1.85" fill="#A0A216"/>
<circle cx="268.4" cy="139.5" r="1.85" fill="#EA7C74"/>
<circle cx="165.6" cy="157.2" r="1.85" fill="#EA7C74"/>
<circle cx="187.7" cy="164.1" r="1.85" fill="#A0A216"/>
<circle cx="425.4" cy="115.5" r="1.85" fill="#A0A216"/>
<circle cx="268.8" cy="152.0" r="1.85" fill="#A0A216"/>
<circle cx="284.2" cy="142.8" r="1.85" fill="#A0A216"/>
<circle cx="279.9" cy="142.1" r="1.85" fill="#A0A216"/>
<circle cx="191.4" cy="162.3" r="1.85" fill="#EA7C74"/>
<circle cx="94.5" cy="149.5" r="1.85" fill="#13B57D"/>
<circle cx="113.6" cy="112.9" r="1.85" fill="#EA7C74"/>
<circle cx="300.8" cy="139.0" r="1.85" fill="#A0A216"/>
<circle cx="112.5" cy="188.5" r="1.85" fill="#A0A216"/>
<circle cx="252.0" cy="103.6" r="1.85" fill="#A0A216"/>
<circle cx="193.0" cy="107.4" r="1.85" fill="#A0A216"/>
<circle cx="133.8" cy="156.3" r="1.85" fill="#EA7C74"/>
<circle cx="96.0" cy="132.8" r="1.85" fill="#13B57D"/>
<circle cx="164.2" cy="131.0" r="1.85" fill="#EA7C74"/>
<circle cx="71.0" cy="171.9" r="1.85" fill="#14A9E5"/>
<circle cx="228.5" cy="79.3" r="1.85" fill="#A0A216"/>
<circle cx="79.6" cy="187.9" r="1.85" fill="#EA7C74"/>
<circle cx="148.1" cy="84.3" r="1.85" fill="#A0A216"/>
<circle cx="107.0" cy="176.0" r="1.85" fill="#EA7C74"/>
<circle cx="220.2" cy="96.6" r="1.85" fill="#A0A216"/>
<circle cx="75.8" cy="165.1" r="1.85" fill="#13B57D"/>
<circle cx="115.3" cy="158.4" r="1.85" fill="#EA7C74"/>
<circle cx="168.2" cy="80.1" r="1.85" fill="#A0A216"/>
<circle cx="136.6" cy="185.3" r="1.85" fill="#13B57D"/>
<circle cx="115.7" cy="192.1" r="1.85" fill="#13B57D"/>
<circle cx="139.3" cy="148.5" r="1.85" fill="#13B57D"/>
<circle cx="162.0" cy="135.7" r="1.85" fill="#A0A216"/>
<circle cx="89.0" cy="100.7" r="1.85" fill="#EA7C74"/>
<circle cx="180.1" cy="138.4" r="1.85" fill="#A0A216"/>
<circle cx="159.6" cy="93.3" r="1.85" fill="#A0A216"/>
<circle cx="82.4" cy="154.6" r="1.85" fill="#A0A216"/>
<circle cx="77.2" cy="127.8" r="1.85" fill="#EA7C74"/>
<circle cx="122.7" cy="128.6" r="1.85" fill="#A0A216"/>
<circle cx="82.4" cy="196.8" r="1.85" fill="#EA7C74"/>
<circle cx="117.3" cy="132.5" r="1.85" fill="#A0A216"/>
<circle cx="105.8" cy="130.0" r="1.85" fill="#EA7C74"/>
<circle cx="289.0" cy="98.8" r="1.85" fill="#A0A216"/>
<circle cx="73.3" cy="197.4" r="1.85" fill="#EA7C74"/>
<circle cx="81.3" cy="152.2" r="1.85" fill="#EA7C74"/>
<circle cx="166.8" cy="113.8" r="1.85" fill="#A0A216"/>
<circle cx="120.3" cy="164.0" r="1.85" fill="#A0A216"/>
<circle cx="128.6" cy="115.5" r="1.85" fill="#A0A216"/>
<circle cx="173.4" cy="123.6" r="1.85" fill="#A0A216"/>
<circle cx="113.6" cy="192.9" r="1.85" fill="#13B57D"/>
<circle cx="268.0" cy="73.1" r="1.85" fill="#A0A216"/>
<circle cx="121.9" cy="135.4" r="1.85" fill="#EA7C74"/>
<circle cx="77.5" cy="178.7" r="1.85" fill="#13B57D"/>
<circle cx="75.9" cy="193.3" r="1.85" fill="#A0A216"/>
<circle cx="69.6" cy="192.1" r="1.85" fill="#13B57D"/>
<circle cx="263.2" cy="127.7" r="1.85" fill="#A0A216"/>
<circle cx="222.3" cy="174.8" r="1.85" fill="#EA7C74"/>
<circle cx="279.2" cy="150.3" r="1.85" fill="#A0A216"/>
<circle cx="109.6" cy="181.9" r="1.85" fill="#EA7C74"/>
<circle cx="302.0" cy="101.0" r="1.85" fill="#A0A216"/>
<circle cx="166.0" cy="125.1" r="1.85" fill="#A0A216"/>
<circle cx="198.8" cy="103.0" r="1.85" fill="#A0A216"/>
<circle cx="153.4" cy="100.1" r="1.85" fill="#A0A216"/>
<circle cx="74.9" cy="192.5" r="1.85" fill="#13B57D"/>
<circle cx="72.8" cy="141.9" r="1.85" fill="#EA7C74"/>
<circle cx="121.6" cy="137.5" r="1.85" fill="#A0A216"/>
<circle cx="135.5" cy="84.9" r="1.85" fill="#A0A216"/>
<circle cx="147.3" cy="125.5" r="1.85" fill="#A0A216"/>
<circle cx="180.5" cy="110.7" r="1.85" fill="#A0A216"/>
<circle cx="121.8" cy="197.1" r="1.85" fill="#13B57D"/>
<circle cx="217.3" cy="166.2" r="1.85" fill="#A0A216"/>
<circle cx="77.3" cy="187.0" r="1.85" fill="#EA7C74"/>
<circle cx="139.2" cy="118.2" r="1.85" fill="#A0A216"/>
<circle cx="212.5" cy="133.1" r="1.85" fill="#A0A216"/>
<circle cx="86.6" cy="167.5" r="1.85" fill="#DC73E7"/>
<circle cx="130.5" cy="101.4" r="1.85" fill="#A0A216"/>
<circle cx="276.3" cy="116.1" r="1.85" fill="#A0A216"/>
<circle cx="82.4" cy="208.7" r="1.85" fill="#13B57D"/>
<circle cx="273.3" cy="124.1" r="1.85" fill="#A0A216"/>
<circle cx="80.1" cy="141.4" r="1.85" fill="#EA7C74"/>
<circle cx="174.3" cy="118.7" r="1.85" fill="#A0A216"/>
<circle cx="125.3" cy="122.8" r="1.85" fill="#A0A216"/>
<circle cx="139.9" cy="153.3" r="1.85" fill="#EA7C74"/>
<circle cx="71.6" cy="168.4" r="1.85" fill="#13B57D"/>
<circle cx="70.8" cy="137.6" r="1.85" fill="#13B57D"/>
<circle cx="237.3" cy="97.1" r="1.85" fill="#A0A216"/>
<circle cx="117.2" cy="124.5" r="1.85" fill="#A0A216"/>
<circle cx="87.4" cy="153.9" r="1.85" fill="#14A9E5"/>
<circle cx="204.8" cy="130.4" r="1.85" fill="#A0A216"/>
<circle cx="180.5" cy="189.3" r="1.85" fill="#EA7C74"/>
<circle cx="143.2" cy="138.7" r="1.85" fill="#EA7C74"/>
<circle cx="96.0" cy="201.2" r="1.85" fill="#EA7C74"/>
<circle cx="70.9" cy="173.3" r="1.85" fill="#13B57D"/>
<circle cx="72.5" cy="204.1" r="1.85" fill="#13B57D"/>
<circle cx="102.9" cy="170.8" r="1.85" fill="#EA7C74"/>
<circle cx="123.4" cy="179.1" r="1.85" fill="#13B57D"/>
<circle cx="153.3" cy="152.3" r="1.85" fill="#EA7C74"/>
<circle cx="160.0" cy="160.7" r="1.85" fill="#A0A216"/>
<circle cx="228.6" cy="89.3" r="1.85" fill="#A0A216"/>
<circle cx="113.1" cy="134.2" r="1.85" fill="#EA7C74"/>
<circle cx="72.7" cy="110.7" r="1.85" fill="#EA7C74"/>
<circle cx="71.2" cy="215.3" r="1.85" fill="#DC73E7"/>
<circle cx="164.7" cy="101.8" r="1.85" fill="#A0A216"/>
<circle cx="157.0" cy="172.1" r="1.85" fill="#A0A216"/>
<circle cx="118.9" cy="161.2" r="1.85" fill="#DC73E7"/>
<circle cx="68.5" cy="150.4" r="1.85" fill="#EA7C74"/>
<circle cx="282.0" cy="74.9" r="1.85" fill="#A0A216"/>
<circle cx="244.0" cy="94.8" r="1.85" fill="#A0A216"/>
<circle cx="148.8" cy="167.5" r="1.85" fill="#A0A216"/>
<circle cx="134.0" cy="164.7" r="1.85" fill="#13B57D"/>
<circle cx="145.2" cy="162.4" r="1.85" fill="#A0A216"/>
<circle cx="120.4" cy="187.3" r="1.85" fill="#13B57D"/>
<circle cx="119.2" cy="143.2" r="1.85" fill="#EA7C74"/>
<circle cx="201.8" cy="50.4" r="1.85" fill="#A0A216"/>
<circle cx="71.1" cy="217.4" r="1.85" fill="#14A9E5"/>
<circle cx="149.2" cy="110.9" r="1.85" fill="#A0A216"/>
<circle cx="166.8" cy="117.4" r="1.85" fill="#A0A216"/>
<circle cx="216.3" cy="156.2" r="1.85" fill="#A0A216"/>
<circle cx="185.8" cy="148.0" r="1.85" fill="#A0A216"/>
<circle cx="69.6" cy="171.7" r="1.85" fill="#13B57D"/>
<circle cx="252.8" cy="148.9" r="1.85" fill="#EA7C74"/>
<circle cx="97.0" cy="191.1" r="1.85" fill="#EA7C74"/>
<circle cx="140.6" cy="183.2" r="1.85" fill="#A0A216"/>
<circle cx="88.4" cy="97.6" r="1.85" fill="#EA7C74"/>
<circle cx="166.6" cy="168.5" r="1.85" fill="#A0A216"/>
<circle cx="74.1" cy="156.7" r="1.85" fill="#EA7C74"/>
<circle cx="153.9" cy="167.3" r="1.85" fill="#EA7C74"/>
<circle cx="74.9" cy="138.0" r="1.85" fill="#EA7C74"/>
<circle cx="304.8" cy="137.2" r="1.85" fill="#A0A216"/>
<circle cx="204.4" cy="168.8" r="1.85" fill="#A0A216"/>
<circle cx="89.4" cy="174.6" r="1.85" fill="#13B57D"/>
<circle cx="93.2" cy="118.8" r="1.85" fill="#EA7C74"/>
<circle cx="97.5" cy="244.2" r="1.85" fill="#13B57D"/>
<circle cx="70.6" cy="152.4" r="1.85" fill="#13B57D"/>
<circle cx="258.9" cy="94.3" r="1.85" fill="#A0A216"/>
<circle cx="106.1" cy="107.4" r="1.85" fill="#A0A216"/>
<circle cx="76.6" cy="167.0" r="1.85" fill="#13B57D"/>
<circle cx="176.1" cy="180.2" r="1.85" fill="#EA7C74"/>
<circle cx="131.1" cy="188.5" r="1.85" fill="#13B57D"/>
<circle cx="138.2" cy="151.3" r="1.85" fill="#EA7C74"/>
<circle cx="267.2" cy="120.3" r="1.85" fill="#A0A216"/>
<circle cx="140.5" cy="140.7" r="1.85" fill="#A0A216"/>
<circle cx="69.7" cy="139.8" r="1.85" fill="#13B57D"/>
<circle cx="117.7" cy="141.5" r="1.85" fill="#EA7C74"/>
<circle cx="78.5" cy="172.9" r="1.85" fill="#EA7C74"/>
<circle cx="78.0" cy="164.8" r="1.85" fill="#EA7C74"/>
<circle cx="82.8" cy="93.6" r="1.85" fill="#A0A216"/>
<circle cx="127.7" cy="174.8" r="1.85" fill="#13B57D"/>
<circle cx="92.8" cy="201.9" r="1.85" fill="#14A9E5"/>
<circle cx="94.8" cy="178.0" r="1.85" fill="#13B57D"/>
<circle cx="239.3" cy="126.9" r="1.85" fill="#A0A216"/>
<circle cx="80.5" cy="149.6" r="1.85" fill="#13B57D"/>
<circle cx="180.3" cy="127.6" r="1.85" fill="#A0A216"/>
<circle cx="79.8" cy="212.2" r="1.85" fill="#DC73E7"/>
<circle cx="78.7" cy="127.5" r="1.85" fill="#EA7C74"/>
<circle cx="179.2" cy="84.2" r="1.85" fill="#A0A216"/>
<circle cx="182.6" cy="151.4" r="1.85" fill="#A0A216"/>
<circle cx="185.6" cy="212.4" r="1.85" fill="#13B57D"/>
<circle cx="77.2" cy="198.6" r="1.85" fill="#EA7C74"/>
<circle cx="282.3" cy="85.5" r="1.85" fill="#A0A216"/>
<circle cx="121.9" cy="156.3" r="1.85" fill="#EA7C74"/>
<circle cx="86.6" cy="176.4" r="1.85" fill="#13B57D"/>
<circle cx="227.8" cy="143.0" r="1.85" fill="#EA7C74"/>
<circle cx="91.2" cy="200.5" r="1.85" fill="#A0A216"/>
<circle cx="92.8" cy="160.5" r="1.85" fill="#EA7C74"/>
<circle cx="174.9" cy="157.7" r="1.85" fill="#A0A216"/>
<circle cx="81.2" cy="208.7" r="1.85" fill="#DC73E7"/>
<circle cx="98.0" cy="131.7" r="1.85" fill="#EA7C74"/>
<circle cx="91.8" cy="181.1" r="1.85" fill="#13B57D"/>
<circle cx="91.8" cy="178.9" r="1.85" fill="#13B57D"/>
<circle cx="204.5" cy="156.2" r="1.85" fill="#EA7C74"/>
<circle cx="99.2" cy="162.5" r="1.85" fill="#13B57D"/>
<circle cx="336.7" cy="120.8" r="1.85" fill="#A0A216"/>
<circle cx="117.7" cy="138.6" r="1.85" fill="#EA7C74"/>
<circle cx="264.0" cy="105.0" r="1.85" fill="#A0A216"/>
<circle cx="282.0" cy="87.6" r="1.85" fill="#A0A216"/>
<circle cx="90.5" cy="127.6" r="1.85" fill="#EA7C74"/>
<circle cx="173.2" cy="158.5" r="1.85" fill="#A0A216"/>
<circle cx="84.5" cy="108.1" r="1.85" fill="#13B57D"/>
<circle cx="232.2" cy="152.2" r="1.85" fill="#EA7C74"/>
<circle cx="87.2" cy="199.0" r="1.85" fill="#A0A216"/>
<circle cx="84.5" cy="300.2" r="1.85" fill="#DC73E7"/>
<circle cx="158.7" cy="134.9" r="1.85" fill="#A0A216"/>
<circle cx="150.4" cy="153.3" r="1.85" fill="#A0A216"/>
<circle cx="81.1" cy="224.7" r="1.85" fill="#13B57D"/>
<circle cx="151.2" cy="95.0" r="1.85" fill="#A0A216"/>
<circle cx="255.7" cy="159.2" r="1.85" fill="#A0A216"/>
<circle cx="215.0" cy="144.1" r="1.85" fill="#EA7C74"/>
<circle cx="135.2" cy="50.2" r="1.85" fill="#A0A216"/>
<circle cx="169.3" cy="137.9" r="1.85" fill="#A0A216"/>
<circle cx="121.7" cy="106.1" r="1.85" fill="#A0A216"/>
<circle cx="159.5" cy="176.5" r="1.85" fill="#A0A216"/>
<circle cx="275.7" cy="162.1" r="1.85" fill="#A0A216"/>
<circle cx="70.7" cy="123.6" r="1.85" fill="#DC73E7"/>
<circle cx="155.7" cy="141.8" r="1.85" fill="#14A9E5"/>
<circle cx="213.5" cy="118.8" r="1.85" fill="#A0A216"/>
<circle cx="85.4" cy="184.5" r="1.85" fill="#13B57D"/>
<circle cx="223.0" cy="94.0" r="1.85" fill="#A0A216"/>
<circle cx="125.7" cy="131.7" r="1.85" fill="#A0A216"/>
<circle cx="88.5" cy="162.0" r="1.85" fill="#13B57D"/>
<circle cx="145.5" cy="166.9" r="1.85" fill="#A0A216"/>
<circle cx="130.8" cy="165.2" r="1.85" fill="#A0A216"/>
<circle cx="225.0" cy="158.6" r="1.85" fill="#A0A216"/>
<circle cx="133.6" cy="151.6" r="1.85" fill="#13B57D"/>
<circle cx="97.5" cy="153.7" r="1.85" fill="#13B57D"/>
<circle cx="69.9" cy="216.8" r="1.85" fill="#14A9E5"/>
<circle cx="234.5" cy="89.3" r="1.85" fill="#A0A216"/>
<circle cx="164.2" cy="159.9" r="1.85" fill="#EA7C74"/>
<circle cx="120.1" cy="80.1" r="1.85" fill="#A0A216"/>
<circle cx="206.4" cy="146.4" r="1.85" fill="#13B57D"/>
<circle cx="106.2" cy="162.7" r="1.85" fill="#EA7C74"/>
<circle cx="154.9" cy="76.2" r="1.85" fill="#A0A216"/>
<circle cx="276.1" cy="111.2" r="1.85" fill="#A0A216"/>
<circle cx="113.0" cy="168.4" r="1.85" fill="#A0A216"/>
<circle cx="243.5" cy="120.8" r="1.85" fill="#A0A216"/>
<circle cx="93.6" cy="164.8" r="1.85" fill="#14A9E5"/>
<circle cx="117.9" cy="159.5" r="1.85" fill="#13B57D"/>
<circle cx="136.0" cy="160.8" r="1.85" fill="#A0A216"/>
<circle cx="130.5" cy="171.0" r="1.85" fill="#13B57D"/>
<circle cx="124.7" cy="134.2" r="1.85" fill="#A0A216"/>
<circle cx="241.0" cy="35.2" r="1.85" fill="#A0A216"/>
<circle cx="97.6" cy="157.9" r="1.85" fill="#13B57D"/>
<circle cx="137.9" cy="155.5" r="1.85" fill="#A0A216"/>
<circle cx="76.9" cy="182.3" r="1.85" fill="#13B57D"/>
<circle cx="203.7" cy="156.5" r="1.85" fill="#A0A216"/>
<circle cx="72.9" cy="154.7" r="1.85" fill="#13B57D"/>
<circle cx="118.5" cy="145.4" r="1.85" fill="#EA7C74"/>
<circle cx="110.6" cy="151.6" r="1.85" fill="#A0A216"/>
<circle cx="112.1" cy="197.1" r="1.85" fill="#13B57D"/>
<circle cx="112.9" cy="156.1" r="1.85" fill="#EA7C74"/>
<circle cx="430.9" cy="157.0" r="1.85" fill="#EA7C74"/>
<circle cx="144.3" cy="169.9" r="1.85" fill="#14A9E5"/>
<circle cx="228.0" cy="119.1" r="1.85" fill="#A0A216"/>
<circle cx="193.8" cy="76.8" r="1.85" fill="#A0A216"/>
<circle cx="258.7" cy="82.1" r="1.85" fill="#A0A216"/>
<circle cx="121.1" cy="134.8" r="1.85" fill="#A0A216"/>
<circle cx="195.4" cy="149.8" r="1.85" fill="#A0A216"/>
<circle cx="175.8" cy="169.2" r="1.85" fill="#A0A216"/>
<circle cx="84.2" cy="165.9" r="1.85" fill="#13B57D"/>
<circle cx="105.2" cy="153.9" r="1.85" fill="#A0A216"/>
<circle cx="164.0" cy="193.4" r="1.85" fill="#13B57D"/>
<circle cx="120.6" cy="144.0" r="1.85" fill="#13B57D"/>
<circle cx="134.7" cy="150.1" r="1.85" fill="#A0A216"/>
<circle cx="211.4" cy="78.0" r="1.85" fill="#A0A216"/>
<circle cx="101.2" cy="155.1" r="1.85" fill="#A0A216"/>
<circle cx="71.5" cy="157.2" r="1.85" fill="#13B57D"/>
<circle cx="74.0" cy="222.9" r="1.85" fill="#DC73E7"/>
<circle cx="353.8" cy="159.9" r="1.85" fill="#EA7C74"/>
<circle cx="288.9" cy="167.7" r="1.85" fill="#A0A216"/>
<circle cx="97.0" cy="184.5" r="1.85" fill="#EA7C74"/>
<circle cx="124.7" cy="128.7" r="1.85" fill="#A0A216"/>
<circle cx="379.9" cy="136.4" r="1.85" fill="#A0A216"/>
<circle cx="180.1" cy="77.1" r="1.85" fill="#A0A216"/>
<circle cx="128.7" cy="153.4" r="1.85" fill="#13B57D"/>
<circle cx="273.7" cy="159.1" r="1.85" fill="#A0A216"/>
<circle cx="107.1" cy="169.0" r="1.85" fill="#EA7C74"/>
<circle cx="151.3" cy="108.4" r="1.85" fill="#A0A216"/>
<circle cx="335.0" cy="139.3" r="1.85" fill="#A0A216"/>
<circle cx="77.0" cy="171.4" r="1.85" fill="#A0A216"/>
<circle cx="124.4" cy="124.2" r="1.85" fill="#EA7C74"/>
<circle cx="77.5" cy="189.7" r="1.85" fill="#13B57D"/>
<circle cx="184.1" cy="162.7" r="1.85" fill="#A0A216"/>
<circle cx="85.4" cy="106.2" r="1.85" fill="#EA7C74"/>
<circle cx="99.4" cy="156.1" r="1.85" fill="#EA7C74"/>
<circle cx="73.1" cy="190.6" r="1.85" fill="#DC73E7"/>
<circle cx="261.3" cy="99.3" r="1.85" fill="#A0A216"/>
<circle cx="283.4" cy="101.7" r="1.85" fill="#A0A216"/>
<circle cx="229.0" cy="129.6" r="1.85" fill="#A0A216"/>
<circle cx="70.5" cy="195.4" r="1.85" fill="#EA7C74"/>
<circle cx="134.7" cy="174.1" r="1.85" fill="#EA7C74"/>
<circle cx="136.7" cy="180.4" r="1.85" fill="#EA7C74"/>
<circle cx="143.6" cy="160.5" r="1.85" fill="#EA7C74"/>
<circle cx="123.7" cy="232.7" r="1.85" fill="#EA7C74"/>
<circle cx="89.9" cy="238.6" r="1.85" fill="#EA7C74"/>
<circle cx="111.5" cy="164.1" r="1.85" fill="#EA7C74"/>
<circle cx="156.0" cy="137.4" r="1.85" fill="#A0A216"/>
<circle cx="102.8" cy="134.0" r="1.85" fill="#13B57D"/>
<circle cx="229.0" cy="180.6" r="1.85" fill="#EA7C74"/>
<circle cx="156.9" cy="173.3" r="1.85" fill="#EA7C74"/>
<circle cx="132.4" cy="145.7" r="1.85" fill="#EA7C74"/>
<circle cx="212.5" cy="170.6" r="1.85" fill="#EA7C74"/>
<circle cx="104.8" cy="158.4" r="1.85" fill="#13B57D"/>
<circle cx="82.8" cy="183.3" r="1.85" fill="#13B57D"/>
<circle cx="77.2" cy="165.1" r="1.85" fill="#13B57D"/>
<circle cx="86.9" cy="142.7" r="1.85" fill="#13B57D"/>
<circle cx="151.3" cy="182.7" r="1.85" fill="#13B57D"/>
<circle cx="135.5" cy="113.8" r="1.85" fill="#A0A216"/>
<circle cx="175.3" cy="163.2" r="1.85" fill="#A0A216"/>
<circle cx="156.9" cy="134.0" r="1.85" fill="#A0A216"/>
<circle cx="139.5" cy="145.9" r="1.85" fill="#A0A216"/>
<circle cx="225.0" cy="59.4" r="1.85" fill="#A0A216"/>
<circle cx="285.4" cy="128.8" r="1.85" fill="#A0A216"/>
<circle cx="149.2" cy="95.6" r="1.85" fill="#A0A216"/>
<circle cx="159.3" cy="159.7" r="1.85" fill="#A0A216"/>
<circle cx="184.7" cy="132.8" r="1.85" fill="#A0A216"/>
<circle cx="100.7" cy="158.6" r="1.85" fill="#EA7C74"/>
<circle cx="167.6" cy="180.5" r="1.85" fill="#EA7C74"/>
<circle cx="290.5" cy="135.7" r="1.85" fill="#A0A216"/>
<circle cx="160.8" cy="121.9" r="1.85" fill="#A0A216"/>
<circle cx="127.8" cy="118.7" r="1.85" fill="#A0A216"/>
<circle cx="238.6" cy="159.1" r="1.85" fill="#A0A216"/>
<circle cx="70.8" cy="168.5" r="1.85" fill="#13B57D"/>
<circle cx="330.2" cy="120.8" r="1.85" fill="#A0A216"/>
<circle cx="103.8" cy="165.7" r="1.85" fill="#EA7C74"/>
<circle cx="128.4" cy="205.9" r="1.85" fill="#14A9E5"/>
<circle cx="115.9" cy="176.2" r="1.85" fill="#14A9E5"/>
<circle cx="136.1" cy="135.3" r="1.85" fill="#A0A216"/>
<circle cx="167.0" cy="130.4" r="1.85" fill="#13B57D"/>
<circle cx="208.4" cy="85.4" r="1.85" fill="#A0A216"/>
<circle cx="150.9" cy="136.0" r="1.85" fill="#A0A216"/>
<circle cx="120.3" cy="147.4" r="1.85" fill="#EA7C74"/>
<circle cx="242.3" cy="147.7" r="1.85" fill="#A0A216"/>
<circle cx="85.9" cy="178.1" r="1.85" fill="#A0A216"/>
<circle cx="80.6" cy="107.0" r="1.85" fill="#EA7C74"/>
<circle cx="331.5" cy="118.1" r="1.85" fill="#A0A216"/>
<circle cx="71.1" cy="180.5" r="1.85" fill="#DC73E7"/>
<circle cx="157.7" cy="205.5" r="1.85" fill="#13B57D"/>
<circle cx="154.3" cy="174.4" r="1.85" fill="#A0A216"/>
<circle cx="149.9" cy="167.6" r="1.85" fill="#A0A216"/>
<circle cx="98.4" cy="132.4" r="1.85" fill="#EA7C74"/>
<circle cx="152.4" cy="141.2" r="1.85" fill="#EA7C74"/>
<circle cx="125.4" cy="123.0" r="1.85" fill="#A0A216"/>
<circle cx="121.6" cy="129.6" r="1.85" fill="#EA7C74"/>
<circle cx="202.7" cy="159.8" r="1.85" fill="#A0A216"/>
<circle cx="259.4" cy="164.9" r="1.85" fill="#A0A216"/>
<circle cx="92.5" cy="110.5" r="1.85" fill="#A0A216"/>
<circle cx="116.0" cy="155.9" r="1.85" fill="#A0A216"/>
<circle cx="102.3" cy="160.1" r="1.85" fill="#EA7C74"/>
<circle cx="168.0" cy="165.1" r="1.85" fill="#EA7C74"/>
<circle cx="151.1" cy="233.2" r="1.85" fill="#EA7C74"/>
<circle cx="123.9" cy="223.2" r="1.85" fill="#13B57D"/>
<circle cx="147.4" cy="97.2" r="1.85" fill="#A0A216"/>
<circle cx="160.4" cy="134.1" r="1.85" fill="#A0A216"/>
<circle cx="101.8" cy="135.4" r="1.85" fill="#EA7C74"/>
<circle cx="154.6" cy="143.2" r="1.85" fill="#EA7C74"/>
<circle cx="77.5" cy="164.6" r="1.85" fill="#EA7C74"/>
<circle cx="166.9" cy="152.3" r="1.85" fill="#EA7C74"/>
<circle cx="120.0" cy="186.0" r="1.85" fill="#13B57D"/>
<circle cx="200.7" cy="92.5" r="1.85" fill="#A0A216"/>
<circle cx="235.8" cy="146.0" r="1.85" fill="#EA7C74"/>
<circle cx="153.3" cy="132.3" r="1.85" fill="#A0A216"/>
<circle cx="73.6" cy="172.0" r="1.85" fill="#EA7C74"/>
<circle cx="139.3" cy="150.2" r="1.85" fill="#EA7C74"/>
<circle cx="155.1" cy="157.1" r="1.85" fill="#EA7C74"/>
<circle cx="220.5" cy="134.8" r="1.85" fill="#A0A216"/>
<circle cx="132.2" cy="120.9" r="1.85" fill="#A0A216"/>
<circle cx="74.2" cy="148.6" r="1.85" fill="#13B57D"/>
<circle cx="109.4" cy="127.0" r="1.85" fill="#EA7C74"/>
<circle cx="123.7" cy="163.2" r="1.85" fill="#EA7C74"/>
<circle cx="78.8" cy="155.6" r="1.85" fill="#EA7C74"/>
<circle cx="86.4" cy="138.2" r="1.85" fill="#13B57D"/>
<circle cx="402.1" cy="169.7" r="1.85" fill="#A0A216"/>
<circle cx="291.0" cy="56.4" r="1.85" fill="#A0A216"/>
<circle cx="155.4" cy="100.8" r="1.85" fill="#A0A216"/>
<circle cx="105.7" cy="153.8" r="1.85" fill="#EA7C74"/>
<circle cx="81.5" cy="166.8" r="1.85" fill="#14A9E5"/>
<circle cx="149.0" cy="181.3" r="1.85" fill="#EA7C74"/>
<circle cx="73.9" cy="200.7" r="1.85" fill="#14A9E5"/>
<circle cx="97.7" cy="179.7" r="1.85" fill="#13B57D"/>
<circle cx="361.9" cy="115.0" r="1.85" fill="#A0A216"/>
<circle cx="147.4" cy="173.0" r="1.85" fill="#EA7C74"/>
<circle cx="124.4" cy="162.9" r="1.85" fill="#A0A216"/>
<circle cx="149.0" cy="184.5" r="1.85" fill="#A0A216"/>
<circle cx="68.6" cy="133.7" r="1.85" fill="#13B57D"/>
<circle cx="153.6" cy="153.5" r="1.85" fill="#EA7C74"/>
<circle cx="77.4" cy="152.3" r="1.85" fill="#13B57D"/>
<circle cx="99.9" cy="159.0" r="1.85" fill="#EA7C74"/>
<circle cx="106.5" cy="161.2" r="1.85" fill="#EA7C74"/>
<circle cx="145.7" cy="163.1" r="1.85" fill="#A0A216"/>
<circle cx="132.0" cy="163.5" r="1.85" fill="#A0A216"/>
<circle cx="137.4" cy="157.2" r="1.85" fill="#13B57D"/>
<circle cx="114.1" cy="168.4" r="1.85" fill="#EA7C74"/>
<circle cx="127.5" cy="207.1" r="1.85" fill="#14A9E5"/>
<circle cx="102.0" cy="176.8" r="1.85" fill="#A0A216"/>
<circle cx="298.6" cy="139.0" r="1.85" fill="#A0A216"/>
<circle cx="289.7" cy="111.4" r="1.85" fill="#A0A216"/>
<circle cx="167.3" cy="119.5" r="1.85" fill="#13B57D"/>
<circle cx="82.3" cy="129.1" r="1.85" fill="#13B57D"/>
<circle cx="195.2" cy="110.1" r="1.85" fill="#13B57D"/>
<circle cx="80.4" cy="131.6" r="1.85" fill="#13B57D"/>
<circle cx="176.0" cy="158.7" r="1.85" fill="#EA7C74"/>
<circle cx="143.5" cy="184.1" r="1.85" fill="#A0A216"/>
<circle cx="226.3" cy="167.5" r="1.85" fill="#A0A216"/>
<circle cx="171.7" cy="135.8" r="1.85" fill="#A0A216"/>
<circle cx="141.0" cy="165.7" r="1.85" fill="#A0A216"/>
<circle cx="71.7" cy="134.3" r="1.85" fill="#14A9E5"/>
<circle cx="169.4" cy="149.7" r="1.85" fill="#A0A216"/>
<circle cx="70.7" cy="175.5" r="1.85" fill="#14A9E5"/>
<circle cx="191.8" cy="72.8" r="1.85" fill="#A0A216"/>
<circle cx="188.6" cy="199.3" r="1.85" fill="#EA7C74"/>
<circle cx="187.7" cy="124.2" r="1.85" fill="#A0A216"/>
<circle cx="118.9" cy="152.3" r="1.85" fill="#13B57D"/>
<circle cx="154.5" cy="155.3" r="1.85" fill="#EA7C74"/>
<circle cx="128.4" cy="181.2" r="1.85" fill="#13B57D"/>
<circle cx="190.7" cy="143.5" r="1.85" fill="#EA7C74"/>
<circle cx="71.6" cy="164.4" r="1.85" fill="#14A9E5"/>
<circle cx="174.0" cy="170.3" r="1.85" fill="#13B57D"/>
<circle cx="70.9" cy="223.6" r="1.85" fill="#13B57D"/>
<circle cx="175.7" cy="152.4" r="1.85" fill="#EA7C74"/>
<circle cx="91.4" cy="209.2" r="1.85" fill="#13B57D"/>
<circle cx="69.5" cy="158.9" r="1.85" fill="#13B57D"/>
<circle cx="170.5" cy="128.9" r="1.85" fill="#A0A216"/>
<circle cx="133.4" cy="146.0" r="1.85" fill="#A0A216"/>
<circle cx="94.0" cy="202.0" r="1.85" fill="#13B57D"/>
<circle cx="136.9" cy="101.1" r="1.85" fill="#A0A216"/>
<circle cx="85.7" cy="189.3" r="1.85" fill="#13B57D"/>
<circle cx="83.0" cy="170.3" r="1.85" fill="#EA7C74"/>
<circle cx="175.5" cy="136.7" r="1.85" fill="#EA7C74"/>
<circle cx="73.1" cy="138.8" r="1.85" fill="#14A9E5"/>
<circle cx="78.5" cy="194.4" r="1.85" fill="#13B57D"/>
<circle cx="143.3" cy="104.9" r="1.85" fill="#A0A216"/>
<circle cx="297.2" cy="77.2" r="1.85" fill="#A0A216"/>
<circle cx="277.5" cy="171.6" r="1.85" fill="#EA7C74"/>
<circle cx="154.1" cy="171.0" r="1.85" fill="#A0A216"/>
<circle cx="206.5" cy="140.5" r="1.85" fill="#EA7C74"/>
<circle cx="92.9" cy="175.1" r="1.85" fill="#A0A216"/>
<circle cx="101.0" cy="123.5" r="1.85" fill="#A0A216"/>
<circle cx="234.3" cy="87.6" r="1.85" fill="#A0A216"/>
<circle cx="152.7" cy="159.5" r="1.85" fill="#A0A216"/>
<circle cx="77.2" cy="126.8" r="1.85" fill="#EA7C74"/>
<circle cx="73.2" cy="137.1" r="1.85" fill="#EA7C74"/>
<circle cx="184.5" cy="153.6" r="1.85" fill="#A0A216"/>
<circle cx="75.2" cy="203.8" r="1.85" fill="#13B57D"/>
<circle cx="146.0" cy="68.9" r="1.85" fill="#A0A216"/>
<circle cx="227.0" cy="161.3" r="1.85" fill="#A0A216"/>
<circle cx="193.4" cy="86.1" r="1.85" fill="#A0A216"/>
<circle cx="219.6" cy="124.2" r="1.85" fill="#A0A216"/>
<circle cx="301.8" cy="123.3" r="1.85" fill="#A0A216"/>
<circle cx="224.0" cy="164.2" r="1.85" fill="#A0A216"/>
<circle cx="111.7" cy="107.4" r="1.85" fill="#EA7C74"/>
<circle cx="129.8" cy="179.8" r="1.85" fill="#EA7C74"/>
<circle cx="157.7" cy="140.3" r="1.85" fill="#EA7C74"/>
<circle cx="220.8" cy="165.1" r="1.85" fill="#A0A216"/>
<circle cx="75.9" cy="155.1" r="1.85" fill="#13B57D"/>
<circle cx="75.8" cy="179.5" r="1.85" fill="#13B57D"/>
<circle cx="191.8" cy="150.4" r="1.85" fill="#EA7C74"/>
<circle cx="191.8" cy="188.3" r="1.85" fill="#A0A216"/>
<circle cx="124.4" cy="175.1" r="1.85" fill="#A0A216"/>
<circle cx="72.4" cy="153.0" r="1.85" fill="#DC73E7"/>
<circle cx="87.8" cy="127.3" r="1.85" fill="#EA7C74"/>
<circle cx="150.2" cy="174.9" r="1.85" fill="#13B57D"/>
<circle cx="248.1" cy="151.1" r="1.85" fill="#A0A216"/>
<circle cx="228.8" cy="101.0" r="1.85" fill="#A0A216"/>
<circle cx="147.9" cy="106.9" r="1.85" fill="#A0A216"/>
<circle cx="154.8" cy="176.1" r="1.85" fill="#EA7C74"/>
<circle cx="88.3" cy="173.7" r="1.85" fill="#13B57D"/>
<circle cx="137.0" cy="121.9" r="1.85" fill="#A0A216"/>
<circle cx="257.0" cy="124.0" r="1.85" fill="#A0A216"/>
<circle cx="169.4" cy="111.0" r="1.85" fill="#A0A216"/>
<circle cx="82.0" cy="168.6" r="1.85" fill="#EA7C74"/>
<circle cx="340.5" cy="119.9" r="1.85" fill="#A0A216"/>
<circle cx="93.1" cy="213.4" r="1.85" fill="#DC73E7"/>
<circle cx="78.8" cy="172.1" r="1.85" fill="#EA7C74"/>
<circle cx="198.1" cy="171.7" r="1.85" fill="#13B57D"/>
<circle cx="208.5" cy="89.5" r="1.85" fill="#A0A216"/>
<circle cx="131.1" cy="114.1" r="1.85" fill="#A0A216"/>
<circle cx="152.5" cy="145.2" r="1.85" fill="#A0A216"/>
<circle cx="120.1" cy="152.6" r="1.85" fill="#A0A216"/>
<circle cx="170.1" cy="151.7" r="1.85" fill="#EA7C74"/>
<circle cx="184.4" cy="146.7" r="1.85" fill="#A0A216"/>
<circle cx="82.7" cy="95.0" r="1.85" fill="#EA7C74"/>
<circle cx="123.9" cy="124.8" r="1.85" fill="#A0A216"/>
<circle cx="152.7" cy="124.5" r="1.85" fill="#A0A216"/>
<circle cx="86.0" cy="200.3" r="1.85" fill="#13B57D"/>
<circle cx="245.7" cy="133.3" r="1.85" fill="#A0A216"/>
<circle cx="93.5" cy="170.1" r="1.85" fill="#A0A216"/>
<circle cx="126.0" cy="204.3" r="1.85" fill="#A0A216"/>
<circle cx="175.0" cy="105.4" r="1.85" fill="#A0A216"/>
<circle cx="292.4" cy="113.9" r="1.85" fill="#A0A216"/>
<circle cx="145.3" cy="161.6" r="1.85" fill="#EA7C74"/>
<circle cx="209.9" cy="160.8" r="1.85" fill="#A0A216"/>
<circle cx="187.3" cy="146.9" r="1.85" fill="#A0A216"/>
<circle cx="119.1" cy="194.5" r="1.85" fill="#A0A216"/>
<circle cx="95.6" cy="208.8" r="1.85" fill="#DC73E7"/>
<circle cx="107.6" cy="173.8" r="1.85" fill="#13B57D"/>
<circle cx="204.3" cy="179.3" r="1.85" fill="#A0A216"/>
<circle cx="279.0" cy="116.0" r="1.85" fill="#EA7C74"/>
<circle cx="111.8" cy="156.5" r="1.85" fill="#14A9E5"/>
<circle cx="175.8" cy="161.8" r="1.85" fill="#EA7C74"/>
<circle cx="181.1" cy="179.4" r="1.85" fill="#13B57D"/>
<circle cx="193.8" cy="112.5" r="1.85" fill="#A0A216"/>
<circle cx="338.7" cy="155.6" r="1.85" fill="#EA7C74"/>
<circle cx="201.7" cy="117.3" r="1.85" fill="#A0A216"/>
<circle cx="94.8" cy="144.7" r="1.85" fill="#EA7C74"/>
<circle cx="72.8" cy="122.3" r="1.85" fill="#13B57D"/>
<circle cx="274.1" cy="161.2" r="1.85" fill="#EA7C74"/>
<circle cx="86.8" cy="193.3" r="1.85" fill="#13B57D"/>
<circle cx="77.2" cy="186.8" r="1.85" fill="#14A9E5"/>
<circle cx="138.7" cy="146.3" r="1.85" fill="#A0A216"/>
<circle cx="115.5" cy="107.6" r="1.85" fill="#A0A216"/>
<circle cx="107.3" cy="111.1" r="1.85" fill="#A0A216"/>
<circle cx="172.1" cy="136.6" r="1.85" fill="#A0A216"/>
<circle cx="217.7" cy="120.1" r="1.85" fill="#A0A216"/>
<circle cx="94.3" cy="206.4" r="1.85" fill="#13B57D"/>
<circle cx="134.4" cy="163.9" r="1.85" fill="#EA7C74"/>
<circle cx="121.3" cy="176.4" r="1.85" fill="#EA7C74"/>
<circle cx="284.2" cy="167.5" r="1.85" fill="#A0A216"/>
<circle cx="96.4" cy="168.9" r="1.85" fill="#EA7C74"/>
<circle cx="72.5" cy="95.2" r="1.85" fill="#EA7C74"/>
<circle cx="107.1" cy="106.2" r="1.85" fill="#A0A216"/>
<circle cx="183.7" cy="149.2" r="1.85" fill="#EA7C74"/>
<circle cx="73.4" cy="132.2" r="1.85" fill="#13B57D"/>
<circle cx="223.2" cy="135.7" r="1.85" fill="#EA7C74"/>
<circle cx="262.3" cy="135.4" r="1.85" fill="#EA7C74"/>
<circle cx="68.3" cy="156.3" r="1.85" fill="#13B57D"/>
<circle cx="144.7" cy="117.9" r="1.85" fill="#A0A216"/>
<circle cx="190.1" cy="166.3" r="1.85" fill="#A0A216"/>
<circle cx="89.8" cy="205.9" r="1.85" fill="#13B57D"/>
<circle cx="215.6" cy="158.5" r="1.85" fill="#A0A216"/>
<circle cx="166.8" cy="133.4" r="1.85" fill="#A0A216"/>
<circle cx="183.1" cy="107.0" r="1.85" fill="#A0A216"/>
<circle cx="213.5" cy="151.2" r="1.85" fill="#A0A216"/>
<circle cx="239.3" cy="113.6" r="1.85" fill="#A0A216"/>
<circle cx="139.3" cy="133.1" r="1.85" fill="#13B57D"/>
<circle cx="104.3" cy="179.3" r="1.85" fill="#13B57D"/>
<circle cx="72.4" cy="97.1" r="1.85" fill="#EA7C74"/>
<circle cx="78.4" cy="145.7" r="1.85" fill="#EA7C74"/>
<circle cx="69.6" cy="305.6" r="1.85" fill="#14A9E5"/>
<circle cx="156.3" cy="181.6" r="1.85" fill="#A0A216"/>
<circle cx="71.1" cy="148.6" r="1.85" fill="#EA7C74"/>
<circle cx="103.4" cy="235.7" r="1.85" fill="#DC73E7"/>
<circle cx="328.8" cy="155.6" r="1.85" fill="#A0A216"/>
<circle cx="130.1" cy="172.6" r="1.85" fill="#13B57D"/>
<circle cx="91.9" cy="155.5" r="1.85" fill="#EA7C74"/>
<circle cx="142.5" cy="177.4" r="1.85" fill="#A0A216"/>
<circle cx="125.8" cy="107.8" r="1.85" fill="#A0A216"/>
<circle cx="308.3" cy="125.1" r="1.85" fill="#A0A216"/>
<circle cx="152.6" cy="137.0" r="1.85" fill="#A0A216"/>
<circle cx="179.0" cy="206.8" r="1.85" fill="#13B57D"/>
<circle cx="144.6" cy="159.7" r="1.85" fill="#A0A216"/>
<circle cx="201.1" cy="139.8" r="1.85" fill="#EA7C74"/>
<circle cx="97.5" cy="155.2" r="1.85" fill="#EA7C74"/>
<circle cx="122.9" cy="189.4" r="1.85" fill="#A0A216"/>
<circle cx="204.1" cy="128.2" r="1.85" fill="#A0A216"/>
<circle cx="129.5" cy="175.5" r="1.85" fill="#A0A216"/>
<circle cx="93.5" cy="155.4" r="1.85" fill="#A0A216"/>
<circle cx="152.0" cy="130.8" r="1.85" fill="#EA7C74"/>
<circle cx="112.2" cy="125.9" r="1.85" fill="#EA7C74"/>
<circle cx="100.8" cy="167.1" r="1.85" fill="#13B57D"/>
<circle cx="156.3" cy="147.9" r="1.85" fill="#A0A216"/>
<circle cx="110.3" cy="104.0" r="1.85" fill="#A0A216"/>
<circle cx="300.5" cy="135.8" r="1.85" fill="#EA7C74"/>
<circle cx="148.6" cy="97.2" r="1.85" fill="#A0A216"/>
<circle cx="141.9" cy="152.7" r="1.85" fill="#A0A216"/>
<circle cx="252.9" cy="162.5" r="1.85" fill="#EA7C74"/>
<circle cx="74.4" cy="185.0" r="1.85" fill="#EA7C74"/>
<circle cx="161.1" cy="115.6" r="1.85" fill="#A0A216"/>
<circle cx="220.6" cy="152.7" r="1.85" fill="#A0A216"/>
<circle cx="148.2" cy="186.1" r="1.85" fill="#A0A216"/>
<circle cx="169.7" cy="129.9" r="1.85" fill="#A0A216"/>
<circle cx="156.2" cy="115.6" r="1.85" fill="#EA7C74"/>
<circle cx="343.9" cy="89.3" r="1.85" fill="#A0A216"/>
<circle cx="273.9" cy="103.6" r="1.85" fill="#A0A216"/>
<circle cx="228.9" cy="176.1" r="1.85" fill="#EA7C74"/>
<circle cx="131.1" cy="176.3" r="1.85" fill="#13B57D"/>
<circle cx="74.9" cy="125.2" r="1.85" fill="#EA7C74"/>
<circle cx="68.8" cy="199.2" r="1.85" fill="#DC73E7"/>
<circle cx="166.4" cy="128.8" r="1.85" fill="#EA7C74"/>
<circle cx="134.8" cy="63.1" r="1.85" fill="#A0A216"/>
<circle cx="80.4" cy="181.6" r="1.85" fill="#A0A216"/>
<circle cx="173.7" cy="139.2" r="1.85" fill="#A0A216"/>
<circle cx="131.6" cy="111.6" r="1.85" fill="#A0A216"/>
<circle cx="182.4" cy="155.7" r="1.85" fill="#EA7C74"/>
<circle cx="145.1" cy="143.1" r="1.85" fill="#EA7C74"/>
<circle cx="131.0" cy="153.2" r="1.85" fill="#EA7C74"/>
<circle cx="90.9" cy="109.4" r="1.85" fill="#A0A216"/>
<circle cx="192.6" cy="149.9" r="1.85" fill="#EA7C74"/>
<circle cx="68.2" cy="161.0" r="1.85" fill="#13B57D"/>
<circle cx="162.0" cy="122.1" r="1.85" fill="#A0A216"/>
<circle cx="90.9" cy="126.0" r="1.85" fill="#A0A216"/>
<circle cx="141.1" cy="121.3" r="1.85" fill="#A0A216"/>
<circle cx="100.1" cy="135.4" r="1.85" fill="#EA7C74"/>
<circle cx="120.5" cy="210.4" r="1.85" fill="#13B57D"/>
<circle cx="117.4" cy="153.9" r="1.85" fill="#EA7C74"/>
<circle cx="126.2" cy="128.6" r="1.85" fill="#EA7C74"/>
<circle cx="127.0" cy="120.7" r="1.85" fill="#A0A216"/>
<circle cx="195.8" cy="138.5" r="1.85" fill="#A0A216"/>
<circle cx="186.8" cy="125.2" r="1.85" fill="#A0A216"/>
<circle cx="93.4" cy="109.7" r="1.85" fill="#EA7C74"/>
<circle cx="101.3" cy="213.2" r="1.85" fill="#14A9E5"/>
<circle cx="118.2" cy="148.9" r="1.85" fill="#EA7C74"/>
<circle cx="171.1" cy="136.9" r="1.85" fill="#EA7C74"/>
<circle cx="228.2" cy="79.7" r="1.85" fill="#A0A216"/>
<circle cx="71.5" cy="241.0" r="1.85" fill="#13B57D"/>
<circle cx="198.5" cy="101.8" r="1.85" fill="#A0A216"/>
<circle cx="124.2" cy="124.2" r="1.85" fill="#A0A216"/>
<circle cx="164.1" cy="168.5" r="1.85" fill="#EA7C74"/>
<circle cx="143.0" cy="122.3" r="1.85" fill="#A0A216"/>
<circle cx="208.7" cy="173.5" r="1.85" fill="#EA7C74"/>
<circle cx="127.3" cy="137.5" r="1.85" fill="#EA7C74"/>
<circle cx="209.1" cy="119.6" r="1.85" fill="#A0A216"/>
<circle cx="211.3" cy="148.9" r="1.85" fill="#EA7C74"/>
<circle cx="81.1" cy="156.4" r="1.85" fill="#13B57D"/>
<circle cx="313.1" cy="79.4" r="1.85" fill="#A0A216"/>
<circle cx="108.4" cy="133.5" r="1.85" fill="#EA7C74"/>
<circle cx="259.7" cy="107.7" r="1.85" fill="#A0A216"/>
<circle cx="68.8" cy="185.2" r="1.85" fill="#14A9E5"/>
<circle cx="115.7" cy="144.2" r="1.85" fill="#EA7C74"/>
<circle cx="156.0" cy="121.7" r="1.85" fill="#EA7C74"/>
<circle cx="203.0" cy="168.9" r="1.85" fill="#A0A216"/>
<circle cx="70.1" cy="173.5" r="1.85" fill="#13B57D"/>
<circle cx="172.8" cy="95.1" r="1.85" fill="#A0A216"/>
<circle cx="180.3" cy="77.3" r="1.85" fill="#A0A216"/>
<circle cx="119.6" cy="159.8" r="1.85" fill="#A0A216"/>
<circle cx="224.7" cy="86.0" r="1.85" fill="#A0A216"/>
<circle cx="253.6" cy="160.9" r="1.85" fill="#EA7C74"/>
<circle cx="118.6" cy="166.5" r="1.85" fill="#A0A216"/>
<circle cx="165.6" cy="159.9" r="1.85" fill="#A0A216"/>
<circle cx="79.8" cy="216.8" r="1.85" fill="#DC73E7"/>
<circle cx="180.5" cy="91.9" r="1.85" fill="#A0A216"/>
<circle cx="141.2" cy="151.5" r="1.85" fill="#A0A216"/>
<circle cx="104.2" cy="166.0" r="1.85" fill="#A0A216"/>
<circle cx="70.0" cy="167.6" r="1.85" fill="#EA7C74"/>
<circle cx="138.7" cy="116.4" r="1.85" fill="#A0A216"/>
<circle cx="145.2" cy="124.0" r="1.85" fill="#A0A216"/>
<circle cx="71.8" cy="197.5" r="1.85" fill="#14A9E5"/>
<circle cx="142.6" cy="158.2" r="1.85" fill="#EA7C74"/>
<circle cx="96.7" cy="170.4" r="1.85" fill="#13B57D"/>
<circle cx="305.9" cy="134.8" r="1.85" fill="#A0A216"/>
<circle cx="246.7" cy="96.7" r="1.85" fill="#A0A216"/>
<circle cx="78.0" cy="191.3" r="1.85" fill="#A0A216"/>
<circle cx="110.7" cy="184.8" r="1.85" fill="#EA7C74"/>
<circle cx="271.1" cy="93.5" r="1.85" fill="#A0A216"/>
<circle cx="204.5" cy="135.9" r="1.85" fill="#A0A216"/>
<circle cx="286.4" cy="137.8" r="1.85" fill="#A0A216"/>
<circle cx="151.4" cy="118.1" r="1.85" fill="#EA7C74"/>
<circle cx="170.3" cy="113.4" r="1.85" fill="#A0A216"/>
<circle cx="101.8" cy="183.6" r="1.85" fill="#EA7C74"/>
<circle cx="162.1" cy="140.2" r="1.85" fill="#A0A216"/>
<circle cx="102.0" cy="190.6" r="1.85" fill="#A0A216"/>
<circle cx="148.4" cy="158.4" r="1.85" fill="#A0A216"/>
<circle cx="138.5" cy="189.9" r="1.85" fill="#EA7C74"/>
<circle cx="93.9" cy="104.2" r="1.85" fill="#EA7C74"/>
<circle cx="284.9" cy="108.8" r="1.85" fill="#A0A216"/>
<circle cx="160.4" cy="130.5" r="1.85" fill="#A0A216"/>
<circle cx="154.3" cy="167.7" r="1.85" fill="#A0A216"/>
<circle cx="154.8" cy="98.9" r="1.85" fill="#A0A216"/>
<circle cx="96.7" cy="167.6" r="1.85" fill="#13B57D"/>
<circle cx="245.2" cy="84.8" r="1.85" fill="#A0A216"/>
<circle cx="117.7" cy="160.4" r="1.85" fill="#A0A216"/>
<circle cx="145.1" cy="111.2" r="1.85" fill="#A0A216"/>
<circle cx="272.8" cy="68.9" r="1.85" fill="#A0A216"/>
<circle cx="242.2" cy="121.2" r="1.85" fill="#A0A216"/>
<circle cx="177.5" cy="96.7" r="1.85" fill="#A0A216"/>
<circle cx="111.7" cy="199.2" r="1.85" fill="#DC73E7"/>
<circle cx="142.0" cy="126.7" r="1.85" fill="#A0A216"/>
<circle cx="174.8" cy="159.8" r="1.85" fill="#A0A216"/>
<circle cx="90.7" cy="123.2" r="1.85" fill="#EA7C74"/>
<circle cx="148.7" cy="147.4" r="1.85" fill="#A0A216"/>
<circle cx="123.1" cy="111.9" r="1.85" fill="#A0A216"/>
<circle cx="135.0" cy="97.2" r="1.85" fill="#A0A216"/>
<circle cx="158.7" cy="148.5" r="1.85" fill="#EA7C74"/>
<circle cx="210.7" cy="163.0" r="1.85" fill="#A0A216"/>
<circle cx="94.5" cy="179.7" r="1.85" fill="#A0A216"/>
<circle cx="300.9" cy="176.4" r="1.85" fill="#A0A216"/>
<circle cx="137.2" cy="179.6" r="1.85" fill="#EA7C74"/>
<circle cx="97.6" cy="158.1" r="1.85" fill="#EA7C74"/>
<circle cx="288.0" cy="87.6" r="1.85" fill="#A0A216"/>
<circle cx="142.4" cy="141.3" r="1.85" fill="#A0A216"/>
<circle cx="175.7" cy="110.2" r="1.85" fill="#A0A216"/>
<circle cx="86.9" cy="173.4" r="1.85" fill="#13B57D"/>
<circle cx="114.1" cy="123.6" r="1.85" fill="#DC73E7"/>
<circle cx="217.5" cy="141.0" r="1.85" fill="#EA7C74"/>
<circle cx="114.4" cy="171.4" r="1.85" fill="#A0A216"/>
<circle cx="81.5" cy="153.0" r="1.85" fill="#EA7C74"/>
<circle cx="176.8" cy="114.1" r="1.85" fill="#A0A216"/>
<circle cx="255.6" cy="37.2" r="1.85" fill="#A0A216"/>
<circle cx="232.9" cy="175.3" r="1.85" fill="#A0A216"/>
<circle cx="125.4" cy="74.4" r="1.85" fill="#A0A216"/>
<circle cx="184.0" cy="129.4" r="1.85" fill="#A0A216"/>
<circle cx="214.3" cy="154.8" r="1.85" fill="#A0A216"/>
<circle cx="68.5" cy="108.9" r="1.85" fill="#13B57D"/>
<circle cx="214.1" cy="173.9" r="1.85" fill="#A0A216"/>
<circle cx="217.9" cy="104.4" r="1.85" fill="#A0A216"/>
<circle cx="123.9" cy="94.9" r="1.85" fill="#A0A216"/>
<circle cx="262.3" cy="53.4" r="1.85" fill="#A0A216"/>
<circle cx="223.4" cy="133.9" r="1.85" fill="#EA7C74"/>
<circle cx="71.6" cy="205.4" r="1.85" fill="#14A9E5"/>
<circle cx="97.0" cy="256.0" r="1.85" fill="#EA7C74"/>
<circle cx="92.0" cy="149.4" r="1.85" fill="#A0A216"/>
<circle cx="170.1" cy="134.2" r="1.85" fill="#A0A216"/>
<circle cx="88.9" cy="159.4" r="1.85" fill="#13B57D"/>
<circle cx="99.5" cy="124.6" r="1.85" fill="#13B57D"/>
<circle cx="207.4" cy="108.6" r="1.85" fill="#A0A216"/>
<circle cx="407.1" cy="164.2" r="1.85" fill="#A0A216"/>
<circle cx="186.5" cy="95.8" r="1.85" fill="#A0A216"/>
<circle cx="340.4" cy="100.9" r="1.85" fill="#A0A216"/>
<circle cx="97.5" cy="117.2" r="1.85" fill="#EA7C74"/>
<circle cx="341.3" cy="79.5" r="1.85" fill="#A0A216"/>
<circle cx="132.8" cy="152.6" r="1.85" fill="#EA7C74"/>
<circle cx="151.0" cy="169.4" r="1.85" fill="#EA7C74"/>
<circle cx="86.7" cy="200.9" r="1.85" fill="#A0A216"/>
<circle cx="197.8" cy="138.1" r="1.85" fill="#EA7C74"/>
<circle cx="106.9" cy="210.2" r="1.85" fill="#EA7C74"/>
<circle cx="92.9" cy="182.6" r="1.85" fill="#13B57D"/>
<circle cx="225.3" cy="206.0" r="1.85" fill="#EA7C74"/>
<circle cx="220.8" cy="137.1" r="1.85" fill="#A0A216"/>
<circle cx="197.3" cy="140.2" r="1.85" fill="#A0A216"/>
<circle cx="175.6" cy="168.3" r="1.85" fill="#EA7C74"/>
<circle cx="158.9" cy="185.2" r="1.85" fill="#A0A216"/>
<circle cx="73.9" cy="138.0" r="1.85" fill="#13B57D"/>
<circle cx="160.8" cy="162.0" r="1.85" fill="#EA7C74"/>
<circle cx="171.8" cy="95.6" r="1.85" fill="#A0A216"/>
<circle cx="161.8" cy="107.7" r="1.85" fill="#A0A216"/>
<circle cx="99.4" cy="161.7" r="1.85" fill="#EA7C74"/>
<circle cx="350.2" cy="93.6" r="1.85" fill="#A0A216"/>
<circle cx="234.2" cy="161.3" r="1.85" fill="#A0A216"/>
<circle cx="126.8" cy="169.3" r="1.85" fill="#EA7C74"/>
<circle cx="231.1" cy="179.2" r="1.85" fill="#EA7C74"/>
<circle cx="89.3" cy="148.6" r="1.85" fill="#EA7C74"/>
<circle cx="137.7" cy="119.8" r="1.85" fill="#EA7C74"/>
<circle cx="97.3" cy="154.4" r="1.85" fill="#13B57D"/>
<circle cx="252.3" cy="170.0" r="1.85" fill="#A0A216"/>
<circle cx="155.6" cy="184.7" r="1.85" fill="#13B57D"/>
<circle cx="174.0" cy="106.5" r="1.85" fill="#A0A216"/>
<circle cx="170.1" cy="82.7" r="1.85" fill="#A0A216"/>
<circle cx="376.2" cy="124.2" r="1.85" fill="#A0A216"/>
<circle cx="89.2" cy="131.8" r="1.85" fill="#A0A216"/>
<circle cx="181.3" cy="151.3" r="1.85" fill="#EA7C74"/>
<circle cx="161.0" cy="69.1" r="1.85" fill="#A0A216"/>
<circle cx="119.5" cy="178.9" r="1.85" fill="#A0A216"/>
<circle cx="97.3" cy="125.4" r="1.85" fill="#EA7C74"/>
<circle cx="77.6" cy="178.7" r="1.85" fill="#13B57D"/>
<circle cx="156.6" cy="158.2" r="1.85" fill="#EA7C74"/>
<circle cx="75.8" cy="278.2" r="1.85" fill="#DC73E7"/>
<circle cx="76.2" cy="166.2" r="1.85" fill="#EA7C74"/>
<circle cx="96.7" cy="139.3" r="1.85" fill="#EA7C74"/>
<circle cx="167.9" cy="143.5" r="1.85" fill="#A0A216"/>
<circle cx="92.9" cy="147.1" r="1.85" fill="#14A9E5"/>
<circle cx="254.2" cy="87.3" r="1.85" fill="#A0A216"/>
<circle cx="91.0" cy="144.9" r="1.85" fill="#13B57D"/>
<circle cx="115.1" cy="173.0" r="1.85" fill="#14A9E5"/>
<circle cx="92.2" cy="175.5" r="1.85" fill="#13B57D"/>
<circle cx="151.2" cy="143.2" r="1.85" fill="#A0A216"/>
<circle cx="109.2" cy="195.6" r="1.85" fill="#EA7C74"/>
<circle cx="86.5" cy="166.8" r="1.85" fill="#EA7C74"/>
<circle cx="269.7" cy="147.4" r="1.85" fill="#A0A216"/>
<circle cx="152.5" cy="116.5" r="1.85" fill="#EA7C74"/>
<circle cx="124.6" cy="172.1" r="1.85" fill="#A0A216"/>
<circle cx="199.6" cy="125.3" r="1.85" fill="#EA7C74"/>
<circle cx="167.5" cy="202.1" r="1.85" fill="#14A9E5"/>
<circle cx="200.4" cy="146.0" r="1.85" fill="#A0A216"/>
<circle cx="80.0" cy="195.0" r="1.85" fill="#14A9E5"/>
<circle cx="76.5" cy="168.7" r="1.85" fill="#13B57D"/>
<circle cx="155.1" cy="96.7" r="1.85" fill="#A0A216"/>
<circle cx="137.5" cy="151.2" r="1.85" fill="#A0A216"/>
<circle cx="242.7" cy="157.9" r="1.85" fill="#A0A216"/>
<circle cx="117.4" cy="127.4" r="1.85" fill="#EA7C74"/>
<circle cx="128.5" cy="136.2" r="1.85" fill="#A0A216"/>
<circle cx="128.7" cy="146.1" r="1.85" fill="#13B57D"/>
<circle cx="325.9" cy="106.6" r="1.85" fill="#A0A216"/>
<circle cx="106.7" cy="152.1" r="1.85" fill="#EA7C74"/>
<circle cx="68.0" cy="167.3" r="1.85" fill="#13B57D"/>
<circle cx="68.8" cy="131.8" r="1.85" fill="#13B57D"/>
<circle cx="173.9" cy="147.7" r="1.85" fill="#A0A216"/>
<circle cx="78.3" cy="162.1" r="1.85" fill="#EA7C74"/>
<circle cx="72.2" cy="154.1" r="1.85" fill="#13B57D"/>
<circle cx="389.4" cy="64.0" r="1.85" fill="#A0A216"/>
<circle cx="144.8" cy="125.8" r="1.85" fill="#A0A216"/>
<circle cx="135.9" cy="137.4" r="1.85" fill="#A0A216"/>
<circle cx="303.5" cy="126.0" r="1.85" fill="#A0A216"/>
<circle cx="145.7" cy="74.0" r="1.85" fill="#A0A216"/>
<circle cx="76.5" cy="155.1" r="1.85" fill="#EA7C74"/>
<circle cx="105.2" cy="191.0" r="1.85" fill="#13B57D"/>
<circle cx="166.7" cy="154.5" r="1.85" fill="#A0A216"/>
<circle cx="174.2" cy="155.8" r="1.85" fill="#A0A216"/>
<circle cx="122.3" cy="193.1" r="1.85" fill="#13B57D"/>
<circle cx="246.2" cy="92.4" r="1.85" fill="#A0A216"/>
<circle cx="172.7" cy="169.0" r="1.85" fill="#EA7C74"/>
<circle cx="152.2" cy="111.0" r="1.85" fill="#A0A216"/>
<circle cx="108.6" cy="103.0" r="1.85" fill="#EA7C74"/>
<circle cx="70.3" cy="123.6" r="1.85" fill="#DC73E7"/>
<circle cx="149.6" cy="119.4" r="1.85" fill="#A0A216"/>
<circle cx="101.2" cy="99.2" r="1.85" fill="#A0A216"/>
<circle cx="74.4" cy="158.0" r="1.85" fill="#EA7C74"/>
<circle cx="109.8" cy="97.2" r="1.85" fill="#A0A216"/>
<circle cx="132.3" cy="157.7" r="1.85" fill="#EA7C74"/>
<circle cx="76.0" cy="135.7" r="1.85" fill="#EA7C74"/>
<circle cx="145.7" cy="140.0" r="1.85" fill="#EA7C74"/>
<circle cx="272.7" cy="98.9" r="1.85" fill="#A0A216"/>
<circle cx="97.9" cy="158.1" r="1.85" fill="#EA7C74"/>
<circle cx="127.9" cy="106.7" r="1.85" fill="#A0A216"/>
<circle cx="267.9" cy="110.4" r="1.85" fill="#A0A216"/>
<circle cx="183.0" cy="93.2" r="1.85" fill="#A0A216"/>
<circle cx="253.7" cy="75.5" r="1.85" fill="#A0A216"/>
<circle cx="122.6" cy="149.6" r="1.85" fill="#EA7C74"/>
<circle cx="111.9" cy="186.9" r="1.85" fill="#EA7C74"/>
<circle cx="71.8" cy="178.0" r="1.85" fill="#DC73E7"/>
<circle cx="169.3" cy="96.3" r="1.85" fill="#A0A216"/>
<circle cx="330.2" cy="113.8" r="1.85" fill="#A0A216"/>
<circle cx="143.3" cy="142.0" r="1.85" fill="#EA7C74"/>
<circle cx="171.6" cy="114.7" r="1.85" fill="#A0A216"/>
<circle cx="349.5" cy="135.9" r="1.85" fill="#A0A216"/>
<circle cx="171.1" cy="187.8" r="1.85" fill="#A0A216"/>
<circle cx="269.6" cy="24.8" r="1.85" fill="#A0A216"/>
<circle cx="188.1" cy="164.5" r="1.85" fill="#A0A216"/>
<circle cx="133.7" cy="144.5" r="1.85" fill="#EA7C74"/>
<circle cx="73.8" cy="134.1" r="1.85" fill="#EA7C74"/>
<circle cx="94.3" cy="169.0" r="1.85" fill="#13B57D"/>
<circle cx="125.1" cy="107.7" r="1.85" fill="#A0A216"/>
<circle cx="151.9" cy="186.2" r="1.85" fill="#A0A216"/>
<circle cx="178.7" cy="91.3" r="1.85" fill="#A0A216"/>
<circle cx="83.3" cy="128.2" r="1.85" fill="#A0A216"/>
<circle cx="189.1" cy="183.7" r="1.85" fill="#EA7C74"/>
<circle cx="89.2" cy="279.6" r="1.85" fill="#14A9E5"/>
<circle cx="157.1" cy="133.6" r="1.85" fill="#A0A216"/>
<circle cx="102.1" cy="189.6" r="1.85" fill="#13B57D"/>
<circle cx="78.8" cy="209.7" r="1.85" fill="#14A9E5"/>
<circle cx="247.0" cy="158.2" r="1.85" fill="#A0A216"/>
<circle cx="179.4" cy="82.1" r="1.85" fill="#A0A216"/>
<circle cx="274.7" cy="96.5" r="1.85" fill="#A0A216"/>
<circle cx="173.4" cy="118.6" r="1.85" fill="#A0A216"/>
<circle cx="292.7" cy="145.7" r="1.85" fill="#A0A216"/>
<circle cx="102.1" cy="119.1" r="1.85" fill="#EA7C74"/>
<circle cx="187.6" cy="130.9" r="1.85" fill="#A0A216"/>
<circle cx="222.4" cy="174.5" r="1.85" fill="#A0A216"/>
<circle cx="244.2" cy="85.7" r="1.85" fill="#A0A216"/>
<circle cx="93.6" cy="155.9" r="1.85" fill="#A0A216"/>
<circle cx="87.7" cy="133.0" r="1.85" fill="#EA7C74"/>
<circle cx="255.7" cy="142.3" r="1.85" fill="#A0A216"/>
<circle cx="111.3" cy="169.4" r="1.85" fill="#EA7C74"/>
<circle cx="108.6" cy="180.7" r="1.85" fill="#14A9E5"/>
<circle cx="210.1" cy="105.1" r="1.85" fill="#A0A216"/>
<circle cx="122.2" cy="132.2" r="1.85" fill="#A0A216"/>
<circle cx="218.6" cy="97.7" r="1.85" fill="#A0A216"/>
<circle cx="244.4" cy="101.6" r="1.85" fill="#A0A216"/>
<circle cx="101.7" cy="201.8" r="1.85" fill="#A0A216"/>
<circle cx="81.4" cy="157.9" r="1.85" fill="#13B57D"/>
<circle cx="143.6" cy="141.9" r="1.85" fill="#EA7C74"/>
<circle cx="159.9" cy="154.1" r="1.85" fill="#EA7C74"/>
<circle cx="256.4" cy="81.6" r="1.85" fill="#A0A216"/>
<circle cx="70.5" cy="156.7" r="1.85" fill="#13B57D"/>
<circle cx="79.5" cy="137.4" r="1.85" fill="#EA7C74"/>
<circle cx="163.4" cy="145.0" r="1.85" fill="#EA7C74"/>
<circle cx="106.7" cy="101.8" r="1.85" fill="#A0A216"/>
<circle cx="202.3" cy="172.7" r="1.85" fill="#A0A216"/>
<circle cx="87.9" cy="172.5" r="1.85" fill="#A0A216"/>
<circle cx="216.2" cy="117.0" r="1.85" fill="#A0A216"/>
<circle cx="169.3" cy="133.0" r="1.85" fill="#EA7C74"/>
<circle cx="71.7" cy="118.3" r="1.85" fill="#EA7C74"/>
<circle cx="132.5" cy="123.7" r="1.85" fill="#A0A216"/>
<circle cx="178.3" cy="141.2" r="1.85" fill="#EA7C74"/>
<circle cx="206.6" cy="118.2" r="1.85" fill="#A0A216"/>
<circle cx="70.0" cy="124.3" r="1.85" fill="#EA7C74"/>
<circle cx="144.9" cy="112.7" r="1.85" fill="#A0A216"/>
<circle cx="194.1" cy="144.0" r="1.85" fill="#EA7C74"/>
<circle cx="222.8" cy="168.3" r="1.85" fill="#A0A216"/>
<circle cx="115.9" cy="183.7" r="1.85" fill="#A0A216"/>
<circle cx="101.7" cy="283.9" r="1.85" fill="#DC73E7"/>
<circle cx="291.0" cy="164.3" r="1.85" fill="#A0A216"/>
<circle cx="127.9" cy="156.8" r="1.85" fill="#13B57D"/>
<circle cx="223.0" cy="153.1" r="1.85" fill="#A0A216"/>
<circle cx="197.7" cy="162.5" r="1.85" fill="#A0A216"/>
<circle cx="117.4" cy="186.1" r="1.85" fill="#13B57D"/>
<circle cx="178.1" cy="108.4" r="1.85" fill="#A0A216"/>
<circle cx="313.0" cy="115.4" r="1.85" fill="#A0A216"/>
<circle cx="84.2" cy="120.9" r="1.85" fill="#EA7C74"/>
<circle cx="88.7" cy="209.2" r="1.85" fill="#A0A216"/>
<circle cx="261.0" cy="166.4" r="1.85" fill="#A0A216"/>
<circle cx="158.7" cy="137.0" r="1.85" fill="#EA7C74"/>
<circle cx="350.8" cy="148.4" r="1.85" fill="#A0A216"/>
<circle cx="117.8" cy="138.5" r="1.85" fill="#EA7C74"/>
<circle cx="208.5" cy="60.3" r="1.85" fill="#A0A216"/>
<circle cx="179.9" cy="133.8" r="1.85" fill="#A0A216"/>
<circle cx="221.3" cy="196.2" r="1.85" fill="#A0A216"/>
<circle cx="148.4" cy="151.7" r="1.85" fill="#A0A216"/>
<circle cx="104.3" cy="130.1" r="1.85" fill="#EA7C74"/>
<circle cx="114.7" cy="178.9" r="1.85" fill="#13B57D"/>
<circle cx="134.4" cy="122.7" r="1.85" fill="#A0A216"/>
<circle cx="123.1" cy="197.1" r="1.85" fill="#A0A216"/>
<circle cx="266.6" cy="102.8" r="1.85" fill="#A0A216"/>
<circle cx="74.2" cy="154.5" r="1.85" fill="#13B57D"/>
<circle cx="227.5" cy="173.0" r="1.85" fill="#EA7C74"/>
<circle cx="168.2" cy="65.7" r="1.85" fill="#A0A216"/>
<circle cx="100.6" cy="171.3" r="1.85" fill="#EA7C74"/>
<circle cx="134.4" cy="187.4" r="1.85" fill="#EA7C74"/>
<circle cx="112.9" cy="144.3" r="1.85" fill="#A0A216"/>
<circle cx="115.1" cy="113.5" r="1.85" fill="#EA7C74"/>
<circle cx="118.3" cy="172.4" r="1.85" fill="#EA7C74"/>
<circle cx="176.4" cy="70.4" r="1.85" fill="#A0A216"/>
<circle cx="86.6" cy="184.9" r="1.85" fill="#13B57D"/>
<circle cx="74.3" cy="195.1" r="1.85" fill="#DC73E7"/>
<circle cx="114.6" cy="140.0" r="1.85" fill="#A0A216"/>
<circle cx="176.7" cy="171.9" r="1.85" fill="#A0A216"/>
<circle cx="156.6" cy="188.2" r="1.85" fill="#13B57D"/>
<circle cx="74.5" cy="136.9" r="1.85" fill="#14A9E5"/>
<circle cx="209.1" cy="100.6" r="1.85" fill="#A0A216"/>
<circle cx="96.3" cy="135.1" r="1.85" fill="#EA7C74"/>
<circle cx="134.1" cy="137.9" r="1.85" fill="#A0A216"/>
<circle cx="165.8" cy="149.4" r="1.85" fill="#EA7C74"/>
<circle cx="78.2" cy="156.5" r="1.85" fill="#13B57D"/>
<circle cx="96.1" cy="187.0" r="1.85" fill="#A0A216"/>
<circle cx="70.7" cy="181.4" r="1.85" fill="#DC73E7"/>
<circle cx="128.7" cy="72.8" r="1.85" fill="#A0A216"/>
<circle cx="138.5" cy="207.9" r="1.85" fill="#14A9E5"/>
<circle cx="195.1" cy="179.6" r="1.85" fill="#A0A216"/>
<circle cx="194.8" cy="105.9" r="1.85" fill="#A0A216"/>
<circle cx="143.9" cy="123.9" r="1.85" fill="#A0A216"/>
<circle cx="131.9" cy="141.7" r="1.85" fill="#A0A216"/>
<circle cx="87.4" cy="172.5" r="1.85" fill="#A0A216"/>
<circle cx="75.6" cy="134.4" r="1.85" fill="#13B57D"/>
<circle cx="199.6" cy="141.7" r="1.85" fill="#A0A216"/>
<circle cx="129.5" cy="138.9" r="1.85" fill="#A0A216"/>
<circle cx="92.2" cy="144.4" r="1.85" fill="#EA7C74"/>
<circle cx="290.8" cy="168.0" r="1.85" fill="#EA7C74"/>
<circle cx="78.3" cy="145.7" r="1.85" fill="#EA7C74"/>
<circle cx="112.5" cy="161.4" r="1.85" fill="#13B57D"/>
<circle cx="123.8" cy="130.6" r="1.85" fill="#A0A216"/>
<circle cx="71.3" cy="133.2" r="1.85" fill="#EA7C74"/>
<circle cx="179.1" cy="146.4" r="1.85" fill="#A0A216"/>
<circle cx="180.3" cy="161.1" r="1.85" fill="#A0A216"/>
<circle cx="123.6" cy="174.3" r="1.85" fill="#EA7C74"/>
<circle cx="161.9" cy="57.0" r="1.85" fill="#A0A216"/>
<circle cx="79.0" cy="176.2" r="1.85" fill="#EA7C74"/>
<circle cx="77.1" cy="127.5" r="1.85" fill="#EA7C74"/>
<circle cx="156.9" cy="127.1" r="1.85" fill="#A0A216"/>
<circle cx="153.2" cy="144.4" r="1.85" fill="#A0A216"/>
<circle cx="79.3" cy="193.8" r="1.85" fill="#14A9E5"/>
<circle cx="133.7" cy="135.4" r="1.85" fill="#A0A216"/>
<circle cx="145.2" cy="137.6" r="1.85" fill="#13B57D"/>
<circle cx="78.9" cy="195.7" r="1.85" fill="#A0A216"/>
<circle cx="225.5" cy="83.1" r="1.85" fill="#A0A216"/>
<circle cx="177.6" cy="125.3" r="1.85" fill="#A0A216"/>
<circle cx="80.9" cy="196.0" r="1.85" fill="#13B57D"/>
<circle cx="110.1" cy="202.4" r="1.85" fill="#13B57D"/>
<circle cx="189.0" cy="156.2" r="1.85" fill="#13B57D"/>
<circle cx="70.6" cy="113.7" r="1.85" fill="#EA7C74"/>
<circle cx="68.9" cy="183.9" r="1.85" fill="#DC73E7"/>
<circle cx="120.7" cy="152.4" r="1.85" fill="#EA7C74"/>
<circle cx="181.1" cy="104.1" r="1.85" fill="#A0A216"/>
<circle cx="77.8" cy="113.9" r="1.85" fill="#EA7C74"/>
<circle cx="156.4" cy="118.5" r="1.85" fill="#A0A216"/>
<circle cx="141.3" cy="138.4" r="1.85" fill="#A0A216"/>
<circle cx="193.5" cy="162.0" r="1.85" fill="#A0A216"/>
<circle cx="126.3" cy="129.4" r="1.85" fill="#A0A216"/>
<circle cx="90.5" cy="139.9" r="1.85" fill="#EA7C74"/>
<circle cx="158.1" cy="188.9" r="1.85" fill="#A0A216"/>
<circle cx="98.7" cy="127.6" r="1.85" fill="#EA7C74"/>
<circle cx="248.8" cy="145.9" r="1.85" fill="#EA7C74"/>
<circle cx="151.2" cy="91.8" r="1.85" fill="#A0A216"/>
<circle cx="97.7" cy="244.3" r="1.85" fill="#13B57D"/>
<circle cx="158.2" cy="160.2" r="1.85" fill="#A0A216"/>
<circle cx="99.4" cy="177.7" r="1.85" fill="#13B57D"/>
<circle cx="151.6" cy="145.9" r="1.85" fill="#EA7C74"/>
<circle cx="138.0" cy="163.9" r="1.85" fill="#EA7C74"/>
<circle cx="123.3" cy="131.2" r="1.85" fill="#EA7C74"/>
<circle cx="231.8" cy="152.4" r="1.85" fill="#A0A216"/>
<circle cx="83.9" cy="135.0" r="1.85" fill="#EA7C74"/>
<circle cx="133.6" cy="135.4" r="1.85" fill="#13B57D"/>
<circle cx="157.4" cy="149.6" r="1.85" fill="#EA7C74"/>
<circle cx="185.5" cy="117.6" r="1.85" fill="#A0A216"/>
<circle cx="156.8" cy="164.1" r="1.85" fill="#A0A216"/>
<circle cx="147.6" cy="141.3" r="1.85" fill="#A0A216"/>
<circle cx="79.3" cy="268.3" r="1.85" fill="#EA7C74"/>
<circle cx="221.9" cy="70.2" r="1.85" fill="#A0A216"/>
<circle cx="160.0" cy="169.6" r="1.85" fill="#13B57D"/>
<circle cx="170.6" cy="169.7" r="1.85" fill="#EA7C74"/>
<circle cx="87.9" cy="134.3" r="1.85" fill="#13B57D"/>
<circle cx="206.0" cy="111.6" r="1.85" fill="#A0A216"/>
<circle cx="198.1" cy="153.2" r="1.85" fill="#EA7C74"/>
<circle cx="107.0" cy="145.2" r="1.85" fill="#A0A216"/>
<circle cx="337.0" cy="119.3" r="1.85" fill="#A0A216"/>
<circle cx="156.8" cy="114.2" r="1.85" fill="#A0A216"/>
<circle cx="146.8" cy="155.1" r="1.85" fill="#EA7C74"/>
<circle cx="120.5" cy="163.5" r="1.85" fill="#EA7C74"/>
<circle cx="97.5" cy="157.3" r="1.85" fill="#13B57D"/>
<circle cx="146.7" cy="177.2" r="1.85" fill="#EA7C74"/>
<circle cx="98.2" cy="282.0" r="1.85" fill="#14A9E5"/>
<circle cx="69.9" cy="227.1" r="1.85" fill="#13B57D"/>
<circle cx="93.6" cy="164.8" r="1.85" fill="#DC73E7"/>
<circle cx="116.7" cy="155.1" r="1.85" fill="#EA7C74"/>
<circle cx="71.3" cy="243.6" r="1.85" fill="#DC73E7"/>
<circle cx="168.8" cy="198.4" r="1.85" fill="#13B57D"/>
<circle cx="119.1" cy="121.4" r="1.85" fill="#EA7C74"/>
<circle cx="118.4" cy="239.3" r="1.85" fill="#EA7C74"/>
<circle cx="181.1" cy="120.4" r="1.85" fill="#A0A216"/>
<circle cx="282.9" cy="144.1" r="1.85" fill="#A0A216"/>
<circle cx="143.3" cy="135.6" r="1.85" fill="#A0A216"/>
<circle cx="205.3" cy="180.5" r="1.85" fill="#A0A216"/>
<circle cx="77.6" cy="161.9" r="1.85" fill="#EA7C74"/>
<circle cx="128.9" cy="115.1" r="1.85" fill="#A0A216"/>
<circle cx="75.8" cy="174.5" r="1.85" fill="#EA7C74"/>
<circle cx="286.6" cy="93.4" r="1.85" fill="#A0A216"/>
<circle cx="92.7" cy="144.3" r="1.85" fill="#EA7C74"/>
<circle cx="175.0" cy="86.4" r="1.85" fill="#A0A216"/>
<circle cx="173.6" cy="150.0" r="1.85" fill="#EA7C74"/>
<circle cx="179.1" cy="103.5" r="1.85" fill="#A0A216"/>
<circle cx="170.0" cy="159.5" r="1.85" fill="#EA7C74"/>
<circle cx="195.1" cy="130.9" r="1.85" fill="#A0A216"/>
<circle cx="70.0" cy="163.1" r="1.85" fill="#DC73E7"/>
<circle cx="149.6" cy="149.1" r="1.85" fill="#EA7C74"/>
<circle cx="106.6" cy="185.9" r="1.85" fill="#13B57D"/>
<circle cx="70.5" cy="156.1" r="1.85" fill="#EA7C74"/>
<circle cx="68.8" cy="150.6" r="1.85" fill="#DC73E7"/>
<circle cx="187.9" cy="114.5" r="1.85" fill="#A0A216"/>
<circle cx="278.9" cy="141.6" r="1.85" fill="#A0A216"/>
<circle cx="87.6" cy="184.5" r="1.85" fill="#A0A216"/>
<circle cx="221.1" cy="149.6" r="1.85" fill="#A0A216"/>
<circle cx="358.0" cy="164.2" r="1.85" fill="#A0A216"/>
<circle cx="163.3" cy="134.0" r="1.85" fill="#A0A216"/>
<circle cx="215.8" cy="155.9" r="1.85" fill="#A0A216"/>
<circle cx="121.8" cy="96.8" r="1.85" fill="#A0A216"/>
<circle cx="91.6" cy="151.9" r="1.85" fill="#14A9E5"/>
<circle cx="247.7" cy="103.6" r="1.85" fill="#A0A216"/>
<circle cx="236.5" cy="128.5" r="1.85" fill="#A0A216"/>
<circle cx="187.9" cy="165.3" r="1.85" fill="#A0A216"/>
<circle cx="143.5" cy="152.9" r="1.85" fill="#A0A216"/>
<circle cx="72.7" cy="150.4" r="1.85" fill="#EA7C74"/>
<circle cx="120.6" cy="138.5" r="1.85" fill="#A0A216"/>
<circle cx="137.4" cy="180.8" r="1.85" fill="#13B57D"/>
<circle cx="115.9" cy="117.4" r="1.85" fill="#A0A216"/>
<circle cx="175.0" cy="145.9" r="1.85" fill="#A0A216"/>
<circle cx="105.7" cy="147.1" r="1.85" fill="#13B57D"/>
<circle cx="169.5" cy="81.7" r="1.85" fill="#A0A216"/>
<circle cx="77.3" cy="126.0" r="1.85" fill="#EA7C74"/>
<circle cx="180.7" cy="104.7" r="1.85" fill="#A0A216"/>
<circle cx="137.1" cy="163.5" r="1.85" fill="#EA7C74"/>
<circle cx="186.3" cy="134.7" r="1.85" fill="#A0A216"/>
<circle cx="166.1" cy="134.7" r="1.85" fill="#A0A216"/>
<circle cx="130.4" cy="191.1" r="1.85" fill="#A0A216"/>
<circle cx="117.2" cy="159.8" r="1.85" fill="#EA7C74"/>
<circle cx="114.4" cy="131.9" r="1.85" fill="#A0A216"/>
<circle cx="99.0" cy="151.9" r="1.85" fill="#13B57D"/>
<circle cx="170.7" cy="182.3" r="1.85" fill="#A0A216"/>
<circle cx="94.9" cy="159.9" r="1.85" fill="#13B57D"/>
<circle cx="231.4" cy="130.9" r="1.85" fill="#13B57D"/>
<circle cx="164.5" cy="107.2" r="1.85" fill="#A0A216"/>
<circle cx="132.1" cy="141.7" r="1.85" fill="#A0A216"/>
<circle cx="179.2" cy="133.5" r="1.85" fill="#A0A216"/>
<circle cx="265.0" cy="144.5" r="1.85" fill="#A0A216"/>
<circle cx="112.3" cy="160.2" r="1.85" fill="#EA7C74"/>
<circle cx="165.1" cy="173.7" r="1.85" fill="#13B57D"/>
<circle cx="141.8" cy="179.9" r="1.85" fill="#A0A216"/>
<circle cx="244.3" cy="141.2" r="1.85" fill="#A0A216"/>
<circle cx="149.8" cy="105.8" r="1.85" fill="#A0A216"/>
<circle cx="150.3" cy="150.5" r="1.85" fill="#A0A216"/>
<circle cx="172.7" cy="113.3" r="1.85" fill="#A0A216"/>
<circle cx="72.9" cy="210.9" r="1.85" fill="#14A9E5"/>
<circle cx="178.8" cy="128.7" r="1.85" fill="#A0A216"/>
<circle cx="71.8" cy="169.4" r="1.85" fill="#13B57D"/>
<circle cx="315.2" cy="99.0" r="1.85" fill="#A0A216"/>
<circle cx="187.5" cy="171.2" r="1.85" fill="#EA7C74"/>
<circle cx="171.6" cy="162.6" r="1.85" fill="#EA7C74"/>
<circle cx="171.7" cy="157.7" r="1.85" fill="#EA7C74"/>
<circle cx="70.3" cy="170.9" r="1.85" fill="#13B57D"/>
<circle cx="190.2" cy="164.0" r="1.85" fill="#EA7C74"/>
<circle cx="79.2" cy="144.7" r="1.85" fill="#13B57D"/>
<circle cx="157.6" cy="151.2" r="1.85" fill="#EA7C74"/>
<circle cx="122.4" cy="178.5" r="1.85" fill="#EA7C74"/>
<circle cx="122.4" cy="103.7" r="1.85" fill="#A0A216"/>
<circle cx="191.2" cy="85.9" r="1.85" fill="#A0A216"/>
<circle cx="98.1" cy="152.5" r="1.85" fill="#13B57D"/>
<circle cx="152.7" cy="186.1" r="1.85" fill="#EA7C74"/>
<circle cx="130.4" cy="108.3" r="1.85" fill="#EA7C74"/>
<circle cx="148.2" cy="137.0" r="1.85" fill="#EA7C74"/>
<circle cx="140.7" cy="155.8" r="1.85" fill="#A0A216"/>
<circle cx="102.7" cy="154.5" r="1.85" fill="#EA7C74"/>
<circle cx="100.0" cy="178.2" r="1.85" fill="#EA7C74"/>
<circle cx="74.1" cy="194.5" r="1.85" fill="#14A9E5"/>
<circle cx="88.9" cy="132.5" r="1.85" fill="#A0A216"/>
<circle cx="154.4" cy="191.8" r="1.85" fill="#14A9E5"/>
<circle cx="215.1" cy="91.5" r="1.85" fill="#A0A216"/>
<circle cx="102.3" cy="145.9" r="1.85" fill="#A0A216"/>
<circle cx="82.2" cy="213.3" r="1.85" fill="#14A9E5"/>
<circle cx="234.6" cy="127.6" r="1.85" fill="#A0A216"/>
<circle cx="251.3" cy="158.5" r="1.85" fill="#A0A216"/>
<circle cx="129.1" cy="129.5" r="1.85" fill="#A0A216"/>
<circle cx="176.8" cy="149.2" r="1.85" fill="#EA7C74"/>
<circle cx="135.2" cy="193.5" r="1.85" fill="#13B57D"/>
<circle cx="107.3" cy="185.1" r="1.85" fill="#A0A216"/>
<circle cx="133.1" cy="186.4" r="1.85" fill="#13B57D"/>
<circle cx="76.8" cy="192.6" r="1.85" fill="#14A9E5"/>
<circle cx="109.9" cy="130.7" r="1.85" fill="#EA7C74"/>
<circle cx="86.5" cy="197.6" r="1.85" fill="#13B57D"/>
<circle cx="223.1" cy="86.1" r="1.85" fill="#A0A216"/>
<circle cx="139.6" cy="194.5" r="1.85" fill="#EA7C74"/>
<circle cx="180.9" cy="218.9" r="1.85" fill="#EA7C74"/>
<circle cx="130.3" cy="186.9" r="1.85" fill="#A0A216"/>
<circle cx="325.0" cy="91.2" r="1.85" fill="#A0A216"/>
<circle cx="246.6" cy="89.3" r="1.85" fill="#A0A216"/>
<circle cx="168.4" cy="140.0" r="1.85" fill="#A0A216"/>
<circle cx="79.2" cy="151.9" r="1.85" fill="#EA7C74"/>
<circle cx="162.4" cy="69.6" r="1.85" fill="#A0A216"/>
<circle cx="197.3" cy="112.8" r="1.85" fill="#A0A216"/>
<circle cx="120.0" cy="159.2" r="1.85" fill="#14A9E5"/>
<circle cx="142.8" cy="147.7" r="1.85" fill="#A0A216"/>
<circle cx="119.4" cy="230.5" r="1.85" fill="#13B57D"/>
<circle cx="111.7" cy="168.8" r="1.85" fill="#EA7C74"/>
<circle cx="73.0" cy="140.4" r="1.85" fill="#EA7C74"/>
<circle cx="111.6" cy="186.7" r="1.85" fill="#14A9E5"/>
<circle cx="69.2" cy="184.6" r="1.85" fill="#13B57D"/>
<circle cx="122.6" cy="206.6" r="1.85" fill="#13B57D"/>
<circle cx="191.1" cy="95.5" r="1.85" fill="#A0A216"/>
<circle cx="156.3" cy="133.3" r="1.85" fill="#A0A216"/>
<circle cx="208.9" cy="142.5" r="1.85" fill="#EA7C74"/>
<circle cx="77.1" cy="141.2" r="1.85" fill="#EA7C74"/>
<circle cx="149.1" cy="150.9" r="1.85" fill="#EA7C74"/>
<circle cx="220.0" cy="138.1" r="1.85" fill="#A0A216"/>
<circle cx="132.4" cy="166.0" r="1.85" fill="#A0A216"/>
<circle cx="95.8" cy="167.4" r="1.85" fill="#14A9E5"/>
<circle cx="68.1" cy="137.7" r="1.85" fill="#DC73E7"/>
<circle cx="81.0" cy="329.0" r="1.85" fill="#13B57D"/>
<circle cx="87.0" cy="200.9" r="1.85" fill="#13B57D"/>
<circle cx="244.4" cy="93.6" r="1.85" fill="#A0A216"/>
<circle cx="218.5" cy="124.3" r="1.85" fill="#A0A216"/>
<circle cx="122.3" cy="115.4" r="1.85" fill="#A0A216"/>
<circle cx="155.0" cy="135.7" r="1.85" fill="#A0A216"/>
<circle cx="177.2" cy="158.6" r="1.85" fill="#EA7C74"/>
<circle cx="129.5" cy="63.7" r="1.85" fill="#A0A216"/>
<circle cx="75.7" cy="188.2" r="1.85" fill="#EA7C74"/>
<circle cx="122.5" cy="100.3" r="1.85" fill="#A0A216"/>
<circle cx="148.9" cy="136.5" r="1.85" fill="#A0A216"/>
<circle cx="254.6" cy="111.6" r="1.85" fill="#A0A216"/>
<circle cx="73.7" cy="146.9" r="1.85" fill="#13B57D"/>
<circle cx="174.1" cy="157.2" r="1.85" fill="#EA7C74"/>
<circle cx="153.5" cy="150.0" r="1.85" fill="#A0A216"/>
<circle cx="78.5" cy="151.4" r="1.85" fill="#13B57D"/>
<circle cx="300.2" cy="63.1" r="1.85" fill="#A0A216"/>
<circle cx="157.8" cy="137.7" r="1.85" fill="#A0A216"/>
<circle cx="75.8" cy="158.8" r="1.85" fill="#13B57D"/>
<circle cx="107.7" cy="213.7" r="1.85" fill="#13B57D"/>
<circle cx="99.0" cy="142.0" r="1.85" fill="#EA7C74"/>
<circle cx="174.2" cy="93.7" r="1.85" fill="#A0A216"/>
<circle cx="173.0" cy="157.6" r="1.85" fill="#EA7C74"/>
<circle cx="197.7" cy="164.2" r="1.85" fill="#A0A216"/>
<circle cx="79.8" cy="144.9" r="1.85" fill="#13B57D"/>
<circle cx="415.5" cy="145.7" r="1.85" fill="#A0A216"/>
<circle cx="70.4" cy="121.0" r="1.85" fill="#13B57D"/>
<circle cx="207.2" cy="86.0" r="1.85" fill="#A0A216"/>
<circle cx="116.0" cy="145.7" r="1.85" fill="#EA7C74"/>
<circle cx="87.1" cy="141.4" r="1.85" fill="#EA7C74"/>
<circle cx="163.9" cy="175.9" r="1.85" fill="#A0A216"/>
<circle cx="72.3" cy="164.0" r="1.85" fill="#14A9E5"/>
<circle cx="80.7" cy="171.4" r="1.85" fill="#EA7C74"/>
<circle cx="95.3" cy="144.3" r="1.85" fill="#13B57D"/>
<circle cx="168.3" cy="128.8" r="1.85" fill="#13B57D"/>
<circle cx="162.2" cy="149.3" r="1.85" fill="#EA7C74"/>
<circle cx="363.6" cy="78.1" r="1.85" fill="#A0A216"/>
<circle cx="166.8" cy="186.0" r="1.85" fill="#EA7C74"/>
<circle cx="200.9" cy="147.9" r="1.85" fill="#EA7C74"/>
<circle cx="76.6" cy="172.5" r="1.85" fill="#DC73E7"/>
<circle cx="88.4" cy="178.7" r="1.85" fill="#EA7C74"/>
<circle cx="108.6" cy="199.5" r="1.85" fill="#13B57D"/>
<circle cx="91.8" cy="191.0" r="1.85" fill="#13B57D"/>
<circle cx="152.9" cy="142.8" r="1.85" fill="#13B57D"/>
<circle cx="229.0" cy="150.5" r="1.85" fill="#A0A216"/>
<circle cx="226.8" cy="167.1" r="1.85" fill="#A0A216"/>
<circle cx="150.0" cy="144.8" r="1.85" fill="#EA7C74"/>
<circle cx="148.6" cy="156.3" r="1.85" fill="#A0A216"/>
<circle cx="208.6" cy="99.5" r="1.85" fill="#A0A216"/>
<circle cx="79.2" cy="196.2" r="1.85" fill="#13B57D"/>
<circle cx="236.4" cy="113.0" r="1.85" fill="#A0A216"/>
<circle cx="110.1" cy="166.2" r="1.85" fill="#A0A216"/>
<circle cx="223.0" cy="162.9" r="1.85" fill="#A0A216"/>
<circle cx="138.0" cy="154.3" r="1.85" fill="#EA7C74"/>
<circle cx="77.9" cy="128.4" r="1.85" fill="#EA7C74"/>
<circle cx="92.5" cy="152.6" r="1.85" fill="#13B57D"/>
<circle cx="94.3" cy="148.1" r="1.85" fill="#13B57D"/>
<circle cx="95.5" cy="173.1" r="1.85" fill="#13B57D"/>
<circle cx="143.6" cy="109.5" r="1.85" fill="#A0A216"/>
<circle cx="212.6" cy="83.2" r="1.85" fill="#A0A216"/>
<circle cx="205.0" cy="137.3" r="1.85" fill="#A0A216"/>
<circle cx="203.2" cy="66.3" r="1.85" fill="#A0A216"/>
<circle cx="288.8" cy="130.1" r="1.85" fill="#A0A216"/>
<circle cx="343.0" cy="111.0" r="1.85" fill="#A0A216"/>
<circle cx="133.6" cy="150.9" r="1.85" fill="#13B57D"/>
<circle cx="76.1" cy="132.6" r="1.85" fill="#EA7C74"/>
<circle cx="171.3" cy="178.5" r="1.85" fill="#A0A216"/>
<circle cx="93.5" cy="186.1" r="1.85" fill="#13B57D"/>
<circle cx="85.7" cy="295.9" r="1.85" fill="#13B57D"/>
<circle cx="287.2" cy="42.8" r="1.85" fill="#A0A216"/>
<circle cx="257.5" cy="178.5" r="1.85" fill="#A0A216"/>
<circle cx="69.6" cy="251.3" r="1.85" fill="#DC73E7"/>
<circle cx="186.4" cy="167.1" r="1.85" fill="#A0A216"/>
<circle cx="162.3" cy="101.2" r="1.85" fill="#A0A216"/>
<circle cx="166.6" cy="160.0" r="1.85" fill="#EA7C74"/>
<circle cx="200.1" cy="112.7" r="1.85" fill="#A0A216"/>
<circle cx="105.1" cy="123.1" r="1.85" fill="#EA7C74"/>
<circle cx="176.8" cy="111.1" r="1.85" fill="#A0A216"/>
<circle cx="133.7" cy="154.0" r="1.85" fill="#A0A216"/>
<circle cx="176.8" cy="170.7" r="1.85" fill="#A0A216"/>
<circle cx="179.5" cy="151.0" r="1.85" fill="#A0A216"/>
<circle cx="71.8" cy="151.6" r="1.85" fill="#EA7C74"/>
<circle cx="127.5" cy="185.3" r="1.85" fill="#EA7C74"/>
<circle cx="122.1" cy="195.2" r="1.85" fill="#A0A216"/>
<circle cx="284.1" cy="96.6" r="1.85" fill="#A0A216"/>
<circle cx="110.2" cy="180.1" r="1.85" fill="#EA7C74"/>
<circle cx="126.0" cy="133.3" r="1.85" fill="#EA7C74"/>
<circle cx="76.2" cy="162.0" r="1.85" fill="#EA7C74"/>
<circle cx="112.1" cy="173.5" r="1.85" fill="#A0A216"/>
<circle cx="89.3" cy="113.7" r="1.85" fill="#EA7C74"/>
<circle cx="148.2" cy="149.5" r="1.85" fill="#EA7C74"/>
<circle cx="243.7" cy="146.8" r="1.85" fill="#A0A216"/>
<circle cx="277.4" cy="142.8" r="1.85" fill="#A0A216"/>
<circle cx="70.0" cy="157.6" r="1.85" fill="#14A9E5"/>
<circle cx="148.4" cy="152.6" r="1.85" fill="#A0A216"/>
<circle cx="110.2" cy="222.8" r="1.85" fill="#13B57D"/>
<circle cx="82.6" cy="192.0" r="1.85" fill="#13B57D"/>
<circle cx="113.1" cy="187.3" r="1.85" fill="#EA7C74"/>
<circle cx="164.6" cy="117.8" r="1.85" fill="#A0A216"/>
<circle cx="167.8" cy="148.6" r="1.85" fill="#A0A216"/>
<circle cx="275.7" cy="102.7" r="1.85" fill="#A0A216"/>
<circle cx="160.9" cy="149.9" r="1.85" fill="#EA7C74"/>
<circle cx="93.9" cy="206.7" r="1.85" fill="#13B57D"/>
<circle cx="308.1" cy="154.8" r="1.85" fill="#EA7C74"/>
<circle cx="242.8" cy="129.4" r="1.85" fill="#A0A216"/>
<circle cx="151.6" cy="158.1" r="1.85" fill="#A0A216"/>
<circle cx="208.1" cy="105.8" r="1.85" fill="#A0A216"/>
<circle cx="139.4" cy="114.9" r="1.85" fill="#A0A216"/>
<circle cx="200.8" cy="198.3" r="1.85" fill="#13B57D"/>
<circle cx="116.7" cy="128.2" r="1.85" fill="#A0A216"/>
<circle cx="109.8" cy="186.3" r="1.85" fill="#A0A216"/>
<circle cx="163.9" cy="72.6" r="1.85" fill="#A0A216"/>
<circle cx="135.7" cy="169.5" r="1.85" fill="#EA7C74"/>
<circle cx="183.0" cy="117.0" r="1.85" fill="#A0A216"/>
<circle cx="191.0" cy="150.3" r="1.85" fill="#EA7C74"/>
<circle cx="265.4" cy="150.9" r="1.85" fill="#EA7C74"/>
<circle cx="179.9" cy="172.0" r="1.85" fill="#13B57D"/>
<circle cx="74.1" cy="229.3" r="1.85" fill="#EA7C74"/>
<circle cx="122.3" cy="152.2" r="1.85" fill="#EA7C74"/>
<circle cx="106.0" cy="94.8" r="1.85" fill="#A0A216"/>
<circle cx="307.7" cy="139.5" r="1.85" fill="#A0A216"/>
<circle cx="77.9" cy="169.7" r="1.85" fill="#13B57D"/>
<circle cx="91.0" cy="164.9" r="1.85" fill="#13B57D"/>
<circle cx="118.5" cy="101.5" r="1.85" fill="#A0A216"/>
<circle cx="147.6" cy="165.1" r="1.85" fill="#A0A216"/>
<circle cx="106.9" cy="113.0" r="1.85" fill="#A0A216"/>
<circle cx="98.1" cy="162.4" r="1.85" fill="#14A9E5"/>
<circle cx="160.5" cy="140.4" r="1.85" fill="#A0A216"/>
<circle cx="79.9" cy="127.8" r="1.85" fill="#EA7C74"/>
<circle cx="155.8" cy="191.3" r="1.85" fill="#A0A216"/>
<circle cx="291.3" cy="128.6" r="1.85" fill="#A0A216"/>
<circle cx="128.8" cy="170.1" r="1.85" fill="#EA7C74"/>
<circle cx="137.3" cy="147.9" r="1.85" fill="#EA7C74"/>
<circle cx="143.1" cy="86.2" r="1.85" fill="#A0A216"/>
<circle cx="174.7" cy="82.3" r="1.85" fill="#A0A216"/>
<circle cx="119.6" cy="128.2" r="1.85" fill="#EA7C74"/>
<circle cx="152.6" cy="75.9" r="1.85" fill="#A0A216"/>
<circle cx="241.7" cy="171.3" r="1.85" fill="#A0A216"/>
<circle cx="134.2" cy="104.3" r="1.85" fill="#A0A216"/>
<circle cx="156.4" cy="99.5" r="1.85" fill="#A0A216"/>
<circle cx="181.0" cy="126.4" r="1.85" fill="#A0A216"/>
<circle cx="288.1" cy="144.7" r="1.85" fill="#A0A216"/>
<circle cx="179.9" cy="145.9" r="1.85" fill="#EA7C74"/>
<circle cx="174.1" cy="181.1" r="1.85" fill="#13B57D"/>
<circle cx="174.3" cy="152.9" r="1.85" fill="#A0A216"/>
<circle cx="259.3" cy="177.1" r="1.85" fill="#A0A216"/>
<circle cx="73.2" cy="121.1" r="1.85" fill="#EA7C74"/>
<circle cx="285.3" cy="106.3" r="1.85" fill="#A0A216"/>
<circle cx="184.4" cy="158.7" r="1.85" fill="#A0A216"/>
<circle cx="94.5" cy="136.8" r="1.85" fill="#EA7C74"/>
<circle cx="163.7" cy="153.8" r="1.85" fill="#EA7C74"/>
<circle cx="75.9" cy="116.3" r="1.85" fill="#EA7C74"/>
<circle cx="110.3" cy="197.8" r="1.85" fill="#A0A216"/>
<circle cx="84.0" cy="183.9" r="1.85" fill="#13B57D"/>
<circle cx="151.4" cy="113.5" r="1.85" fill="#EA7C74"/>
<circle cx="180.8" cy="162.5" r="1.85" fill="#EA7C74"/>
<circle cx="183.2" cy="110.6" r="1.85" fill="#A0A216"/>
<circle cx="81.3" cy="165.1" r="1.85" fill="#14A9E5"/>
<circle cx="134.0" cy="161.8" r="1.85" fill="#EA7C74"/>
<circle cx="132.3" cy="154.7" r="1.85" fill="#EA7C74"/>
<circle cx="154.1" cy="160.5" r="1.85" fill="#EA7C74"/>
<circle cx="284.6" cy="153.9" r="1.85" fill="#A0A216"/>
<circle cx="143.6" cy="132.6" r="1.85" fill="#EA7C74"/>
<circle cx="179.4" cy="159.1" r="1.85" fill="#A0A216"/>
<circle cx="108.0" cy="165.4" r="1.85" fill="#EA7C74"/>
<circle cx="85.0" cy="191.8" r="1.85" fill="#13B57D"/>
<circle cx="187.9" cy="144.6" r="1.85" fill="#A0A216"/>
<circle cx="77.7" cy="131.0" r="1.85" fill="#EA7C74"/>
<circle cx="109.2" cy="172.0" r="1.85" fill="#13B57D"/>
<circle cx="233.0" cy="94.2" r="1.85" fill="#A0A216"/>
<circle cx="89.8" cy="192.8" r="1.85" fill="#13B57D"/>
<circle cx="112.2" cy="184.6" r="1.85" fill="#EA7C74"/>
<circle cx="138.8" cy="165.4" r="1.85" fill="#EA7C74"/>
<circle cx="74.8" cy="145.7" r="1.85" fill="#DC73E7"/>
<circle cx="353.3" cy="102.7" r="1.85" fill="#A0A216"/>
<circle cx="148.9" cy="172.1" r="1.85" fill="#A0A216"/>
<circle cx="198.5" cy="119.7" r="1.85" fill="#13B57D"/>
<circle cx="350.2" cy="67.5" r="1.85" fill="#A0A216"/>
<circle cx="121.0" cy="171.8" r="1.85" fill="#A0A216"/>
<circle cx="148.6" cy="155.7" r="1.85" fill="#EA7C74"/>
<circle cx="133.4" cy="169.9" r="1.85" fill="#EA7C74"/>
<circle cx="105.4" cy="133.9" r="1.85" fill="#A0A216"/>
<circle cx="105.7" cy="136.4" r="1.85" fill="#EA7C74"/>
<circle cx="225.9" cy="77.5" r="1.85" fill="#A0A216"/>
<circle cx="157.9" cy="166.1" r="1.85" fill="#A0A216"/>
<circle cx="140.4" cy="166.8" r="1.85" fill="#EA7C74"/>
<circle cx="96.1" cy="157.9" r="1.85" fill="#13B57D"/>
<circle cx="133.9" cy="121.3" r="1.85" fill="#A0A216"/>
<circle cx="80.8" cy="123.3" r="1.85" fill="#EA7C74"/>
<circle cx="96.6" cy="142.6" r="1.85" fill="#A0A216"/>
<circle cx="79.0" cy="167.9" r="1.85" fill="#13B57D"/>
<circle cx="195.7" cy="92.2" r="1.85" fill="#A0A216"/>
<circle cx="75.8" cy="144.1" r="1.85" fill="#EA7C74"/>
<circle cx="210.3" cy="188.6" r="1.85" fill="#13B57D"/>
<circle cx="194.2" cy="161.9" r="1.85" fill="#A0A216"/>
<circle cx="95.4" cy="164.7" r="1.85" fill="#13B57D"/>
<circle cx="167.8" cy="94.4" r="1.85" fill="#A0A216"/>
<circle cx="203.1" cy="110.2" r="1.85" fill="#A0A216"/>
<circle cx="225.2" cy="163.2" r="1.85" fill="#EA7C74"/>
<circle cx="180.2" cy="113.1" r="1.85" fill="#EA7C74"/>
<circle cx="90.8" cy="157.6" r="1.85" fill="#EA7C74"/>
<circle cx="77.7" cy="153.0" r="1.85" fill="#13B57D"/>
<circle cx="83.7" cy="129.0" r="1.85" fill="#EA7C74"/>
<circle cx="88.8" cy="153.1" r="1.85" fill="#A0A216"/>
<circle cx="73.2" cy="143.2" r="1.85" fill="#EA7C74"/>
<circle cx="113.5" cy="174.1" r="1.85" fill="#A0A216"/>
<circle cx="182.0" cy="117.7" r="1.85" fill="#A0A216"/>
<circle cx="252.1" cy="168.1" r="1.85" fill="#EA7C74"/>
<circle cx="162.5" cy="158.6" r="1.85" fill="#EA7C74"/>
<circle cx="455.7" cy="72.1" r="1.85" fill="#A0A216"/>
<circle cx="76.4" cy="151.7" r="1.85" fill="#13B57D"/>
<circle cx="158.6" cy="202.2" r="1.85" fill="#13B57D"/>
<circle cx="207.8" cy="135.2" r="1.85" fill="#A0A216"/>
<circle cx="73.8" cy="214.0" r="1.85" fill="#14A9E5"/>
<circle cx="248.7" cy="92.5" r="1.85" fill="#A0A216"/>
<circle cx="273.8" cy="91.1" r="1.85" fill="#A0A216"/>
<circle cx="132.0" cy="166.1" r="1.85" fill="#EA7C74"/>
<circle cx="95.4" cy="183.6" r="1.85" fill="#13B57D"/>
<circle cx="105.1" cy="157.0" r="1.85" fill="#14A9E5"/>
<circle cx="80.8" cy="221.8" r="1.85" fill="#14A9E5"/>
<circle cx="130.2" cy="173.8" r="1.85" fill="#13B57D"/>
<circle cx="96.5" cy="122.5" r="1.85" fill="#EA7C74"/>
<circle cx="94.8" cy="156.7" r="1.85" fill="#13B57D"/>
<circle cx="178.8" cy="68.2" r="1.85" fill="#A0A216"/>
<circle cx="313.1" cy="118.5" r="1.85" fill="#A0A216"/>
<circle cx="301.1" cy="107.1" r="1.85" fill="#A0A216"/>
<circle cx="196.3" cy="142.9" r="1.85" fill="#A0A216"/>
<circle cx="217.9" cy="94.0" r="1.85" fill="#A0A216"/>
<circle cx="126.7" cy="166.1" r="1.85" fill="#A0A216"/>
<circle cx="188.0" cy="116.8" r="1.85" fill="#A0A216"/>
<circle cx="101.5" cy="152.5" r="1.85" fill="#EA7C74"/>
<circle cx="179.2" cy="99.9" r="1.85" fill="#A0A216"/>
<circle cx="72.0" cy="134.3" r="1.85" fill="#14A9E5"/>
<circle cx="69.2" cy="136.4" r="1.85" fill="#13B57D"/>
<circle cx="370.5" cy="81.5" r="1.85" fill="#A0A216"/>
<circle cx="94.1" cy="163.3" r="1.85" fill="#EA7C74"/>
<circle cx="237.5" cy="148.3" r="1.85" fill="#A0A216"/>
<circle cx="94.4" cy="129.4" r="1.85" fill="#EA7C74"/>
<circle cx="89.4" cy="146.6" r="1.85" fill="#A0A216"/>
<circle cx="170.7" cy="177.4" r="1.85" fill="#A0A216"/>
<circle cx="324.0" cy="118.5" r="1.85" fill="#A0A216"/>
<circle cx="106.3" cy="164.6" r="1.85" fill="#13B57D"/>
<circle cx="141.2" cy="141.2" r="1.85" fill="#EA7C74"/>
<circle cx="138.3" cy="151.7" r="1.85" fill="#EA7C74"/>
<circle cx="177.7" cy="165.8" r="1.85" fill="#EA7C74"/>
<circle cx="129.9" cy="92.1" r="1.85" fill="#A0A216"/>
<circle cx="177.8" cy="133.8" r="1.85" fill="#A0A216"/>
<circle cx="184.2" cy="172.7" r="1.85" fill="#EA7C74"/>
<circle cx="306.1" cy="156.5" r="1.85" fill="#EA7C74"/>
<circle cx="81.3" cy="126.0" r="1.85" fill="#EA7C74"/>
<circle cx="164.7" cy="89.0" r="1.85" fill="#A0A216"/>
<circle cx="116.3" cy="176.9" r="1.85" fill="#A0A216"/>
<circle cx="142.0" cy="125.2" r="1.85" fill="#A0A216"/>
<circle cx="87.3" cy="152.7" r="1.85" fill="#13B57D"/>
<circle cx="211.8" cy="129.2" r="1.85" fill="#A0A216"/>
<circle cx="136.0" cy="101.6" r="1.85" fill="#A0A216"/>
<circle cx="186.6" cy="103.5" r="1.85" fill="#A0A216"/>
<circle cx="97.7" cy="206.0" r="1.85" fill="#14A9E5"/>
<circle cx="71.8" cy="172.0" r="1.85" fill="#EA7C74"/>
<circle cx="165.2" cy="186.7" r="1.85" fill="#A0A216"/>
<circle cx="122.2" cy="139.8" r="1.85" fill="#EA7C74"/>
<circle cx="224.6" cy="127.2" r="1.85" fill="#A0A216"/>
<circle cx="186.2" cy="114.3" r="1.85" fill="#A0A216"/>
<circle cx="96.7" cy="184.7" r="1.85" fill="#A0A216"/>
<circle cx="114.3" cy="186.3" r="1.85" fill="#14A9E5"/>
<circle cx="198.1" cy="172.3" r="1.85" fill="#13B57D"/>
<circle cx="124.6" cy="186.0" r="1.85" fill="#EA7C74"/>
<circle cx="138.2" cy="181.2" r="1.85" fill="#A0A216"/>
<circle cx="152.3" cy="147.4" r="1.85" fill="#EA7C74"/>
<circle cx="110.3" cy="170.0" r="1.85" fill="#EA7C74"/>
<circle cx="155.7" cy="135.5" r="1.85" fill="#A0A216"/>
<circle cx="179.2" cy="159.6" r="1.85" fill="#EA7C74"/>
<circle cx="234.3" cy="119.1" r="1.85" fill="#A0A216"/>
<circle cx="240.8" cy="167.2" r="1.85" fill="#A0A216"/>
<circle cx="279.2" cy="162.9" r="1.85" fill="#A0A216"/>
<circle cx="179.4" cy="168.5" r="1.85" fill="#EA7C74"/>
<circle cx="109.5" cy="173.8" r="1.85" fill="#EA7C74"/>
<circle cx="245.0" cy="129.3" r="1.85" fill="#A0A216"/>
<circle cx="109.1" cy="166.1" r="1.85" fill="#EA7C74"/>
<circle cx="184.4" cy="101.3" r="1.85" fill="#A0A216"/>
<circle cx="274.2" cy="94.6" r="1.85" fill="#A0A216"/>
<circle cx="124.4" cy="156.8" r="1.85" fill="#A0A216"/>
<circle cx="98.7" cy="170.4" r="1.85" fill="#13B57D"/>
<circle cx="136.4" cy="169.4" r="1.85" fill="#A0A216"/>
<circle cx="233.8" cy="177.5" r="1.85" fill="#A0A216"/>
<circle cx="97.7" cy="226.4" r="1.85" fill="#13B57D"/>
<circle cx="171.9" cy="161.2" r="1.85" fill="#EA7C74"/>
<circle cx="113.7" cy="156.9" r="1.85" fill="#13B57D"/>
<circle cx="167.6" cy="147.7" r="1.85" fill="#EA7C74"/>
<circle cx="107.3" cy="190.3" r="1.85" fill="#EA7C74"/>
<circle cx="121.8" cy="162.5" r="1.85" fill="#EA7C74"/>
<circle cx="93.9" cy="159.7" r="1.85" fill="#EA7C74"/>
<circle cx="182.7" cy="123.2" r="1.85" fill="#A0A216"/>
<circle cx="163.4" cy="120.0" r="1.85" fill="#A0A216"/>
<circle cx="115.4" cy="169.5" r="1.85" fill="#EA7C74"/>
<circle cx="93.7" cy="158.5" r="1.85" fill="#13B57D"/>
<circle cx="150.4" cy="207.0" r="1.85" fill="#13B57D"/>
<circle cx="75.4" cy="129.4" r="1.85" fill="#EA7C74"/>
<circle cx="69.7" cy="141.1" r="1.85" fill="#13B57D"/>
<circle cx="121.8" cy="176.9" r="1.85" fill="#EA7C74"/>
<circle cx="68.4" cy="173.7" r="1.85" fill="#EA7C74"/>
<circle cx="179.9" cy="148.0" r="1.85" fill="#EA7C74"/>
<circle cx="85.1" cy="205.0" r="1.85" fill="#13B57D"/>
<circle cx="140.6" cy="71.5" r="1.85" fill="#A0A216"/>
<circle cx="213.7" cy="159.5" r="1.85" fill="#A0A216"/>
<circle cx="116.3" cy="190.7" r="1.85" fill="#13B57D"/>
<circle cx="158.5" cy="162.1" r="1.85" fill="#A0A216"/>
<circle cx="113.2" cy="151.3" r="1.85" fill="#A0A216"/>
<circle cx="93.0" cy="132.5" r="1.85" fill="#EA7C74"/>
<circle cx="344.7" cy="154.8" r="1.85" fill="#A0A216"/>
<circle cx="158.5" cy="117.6" r="1.85" fill="#A0A216"/>
<circle cx="142.7" cy="187.6" r="1.85" fill="#13B57D"/>
<circle cx="73.8" cy="120.7" r="1.85" fill="#13B57D"/>
<circle cx="71.0" cy="123.6" r="1.85" fill="#EA7C74"/>
<circle cx="120.3" cy="113.7" r="1.85" fill="#A0A216"/>
<circle cx="70.0" cy="160.5" r="1.85" fill="#13B57D"/>
<circle cx="257.8" cy="145.1" r="1.85" fill="#A0A216"/>
<circle cx="182.5" cy="178.6" r="1.85" fill="#EA7C74"/>
<circle cx="82.8" cy="171.5" r="1.85" fill="#DC73E7"/>
<circle cx="161.2" cy="134.2" r="1.85" fill="#A0A216"/>
<circle cx="221.5" cy="150.9" r="1.85" fill="#A0A216"/>
<circle cx="69.1" cy="219.1" r="1.85" fill="#DC73E7"/>
<circle cx="94.2" cy="83.8" r="1.85" fill="#A0A216"/>
<circle cx="169.7" cy="133.2" r="1.85" fill="#EA7C74"/>
<circle cx="216.4" cy="141.5" r="1.85" fill="#A0A216"/>
<circle cx="144.6" cy="126.9" r="1.85" fill="#A0A216"/>
<circle cx="131.8" cy="172.5" r="1.85" fill="#EA7C74"/>
<circle cx="234.4" cy="160.3" r="1.85" fill="#EA7C74"/>
<circle cx="242.3" cy="82.1" r="1.85" fill="#A0A216"/>
<circle cx="85.1" cy="121.5" r="1.85" fill="#EA7C74"/>
<circle cx="158.0" cy="137.2" r="1.85" fill="#EA7C74"/>
<circle cx="82.8" cy="159.5" r="1.85" fill="#13B57D"/>
<circle cx="236.3" cy="106.2" r="1.85" fill="#A0A216"/>
<circle cx="139.7" cy="113.3" r="1.85" fill="#A0A216"/>
<circle cx="151.2" cy="50.4" r="1.85" fill="#A0A216"/>
<circle cx="71.0" cy="142.4" r="1.85" fill="#DC73E7"/>
<circle cx="175.1" cy="158.5" r="1.85" fill="#A0A216"/>
<circle cx="179.2" cy="146.8" r="1.85" fill="#A0A216"/>
<circle cx="235.3" cy="159.9" r="1.85" fill="#13B57D"/>
<circle cx="134.0" cy="190.2" r="1.85" fill="#A0A216"/>
<circle cx="131.6" cy="131.4" r="1.85" fill="#A0A216"/>
<circle cx="217.2" cy="175.1" r="1.85" fill="#13B57D"/>
<circle cx="119.7" cy="112.5" r="1.85" fill="#A0A216"/>
<circle cx="186.4" cy="142.4" r="1.85" fill="#A0A216"/>
<circle cx="137.0" cy="119.5" r="1.85" fill="#A0A216"/>
<circle cx="236.8" cy="160.8" r="1.85" fill="#A0A216"/>
<circle cx="129.6" cy="110.1" r="1.85" fill="#A0A216"/>
<circle cx="145.2" cy="151.7" r="1.85" fill="#EA7C74"/>
<circle cx="105.6" cy="154.8" r="1.85" fill="#EA7C74"/>
<circle cx="265.2" cy="164.1" r="1.85" fill="#EA7C74"/>
<circle cx="255.8" cy="131.6" r="1.85" fill="#A0A216"/>
<circle cx="235.7" cy="154.4" r="1.85" fill="#A0A216"/>
<circle cx="189.6" cy="140.6" r="1.85" fill="#EA7C74"/>
<circle cx="128.6" cy="165.4" r="1.85" fill="#13B57D"/>
<circle cx="141.7" cy="129.2" r="1.85" fill="#EA7C74"/>
<circle cx="114.2" cy="158.1" r="1.85" fill="#13B57D"/>
<circle cx="147.1" cy="131.8" r="1.85" fill="#EA7C74"/>
<circle cx="92.4" cy="177.6" r="1.85" fill="#13B57D"/>
<circle cx="73.1" cy="152.5" r="1.85" fill="#13B57D"/>
<circle cx="79.1" cy="168.9" r="1.85" fill="#13B57D"/>
<circle cx="230.2" cy="153.5" r="1.85" fill="#A0A216"/>
<circle cx="412.6" cy="87.7" r="1.85" fill="#A0A216"/>
<circle cx="109.9" cy="183.8" r="1.85" fill="#A0A216"/>
<circle cx="78.3" cy="123.6" r="1.85" fill="#DC73E7"/>
<circle cx="200.9" cy="158.2" r="1.85" fill="#EA7C74"/>
<circle cx="133.1" cy="97.6" r="1.85" fill="#EA7C74"/>
<circle cx="147.2" cy="143.1" r="1.85" fill="#EA7C74"/>
<circle cx="257.8" cy="170.6" r="1.85" fill="#A0A216"/>
<circle cx="279.2" cy="153.6" r="1.85" fill="#A0A216"/>
<circle cx="100.9" cy="218.3" r="1.85" fill="#DC73E7"/>
<circle cx="243.7" cy="79.3" r="1.85" fill="#A0A216"/>
<circle cx="358.5" cy="145.7" r="1.85" fill="#EA7C74"/>
<circle cx="123.0" cy="200.0" r="1.85" fill="#A0A216"/>
<circle cx="109.5" cy="127.8" r="1.85" fill="#EA7C74"/>
<circle cx="103.7" cy="188.5" r="1.85" fill="#EA7C74"/>
<circle cx="99.0" cy="127.2" r="1.85" fill="#EA7C74"/>
<circle cx="115.9" cy="103.2" r="1.85" fill="#EA7C74"/>
<circle cx="162.0" cy="127.2" r="1.85" fill="#A0A216"/>
<circle cx="164.6" cy="202.9" r="1.85" fill="#13B57D"/>
<circle cx="162.3" cy="186.3" r="1.85" fill="#EA7C74"/>
<circle cx="205.0" cy="170.8" r="1.85" fill="#A0A216"/>
<circle cx="435.0" cy="94.2" r="1.85" fill="#A0A216"/>
<circle cx="231.5" cy="103.6" r="1.85" fill="#A0A216"/>
<circle cx="137.0" cy="81.6" r="1.85" fill="#A0A216"/>
<circle cx="72.6" cy="158.3" r="1.85" fill="#13B57D"/>
<circle cx="85.2" cy="248.3" r="1.85" fill="#DC73E7"/>
<circle cx="210.9" cy="154.2" r="1.85" fill="#EA7C74"/>
<circle cx="94.4" cy="153.9" r="1.85" fill="#A0A216"/>
<circle cx="114.5" cy="169.1" r="1.85" fill="#EA7C74"/>
<circle cx="197.3" cy="152.9" r="1.85" fill="#A0A216"/>
<circle cx="122.9" cy="86.8" r="1.85" fill="#A0A216"/>
<circle cx="89.1" cy="156.1" r="1.85" fill="#EA7C74"/>
<circle cx="153.7" cy="98.9" r="1.85" fill="#EA7C74"/>
<circle cx="153.1" cy="111.3" r="1.85" fill="#A0A216"/>
<circle cx="85.9" cy="154.7" r="1.85" fill="#13B57D"/>
<circle cx="151.5" cy="112.9" r="1.85" fill="#A0A216"/>
<circle cx="138.3" cy="130.8" r="1.85" fill="#A0A216"/>
<circle cx="94.3" cy="163.7" r="1.85" fill="#13B57D"/>
<circle cx="133.4" cy="142.8" r="1.85" fill="#A0A216"/>
<circle cx="219.7" cy="121.3" r="1.85" fill="#A0A216"/>
<circle cx="100.5" cy="149.5" r="1.85" fill="#14A9E5"/>
<circle cx="183.8" cy="145.8" r="1.85" fill="#A0A216"/>
<circle cx="121.3" cy="119.7" r="1.85" fill="#A0A216"/>
<circle cx="278.5" cy="82.9" r="1.85" fill="#A0A216"/>
<circle cx="69.9" cy="192.0" r="1.85" fill="#14A9E5"/>
<circle cx="158.9" cy="127.6" r="1.85" fill="#A0A216"/>
<circle cx="240.6" cy="107.5" r="1.85" fill="#A0A216"/>
<circle cx="91.9" cy="214.1" r="1.85" fill="#DC73E7"/>
<circle cx="150.3" cy="155.0" r="1.85" fill="#A0A216"/>
<circle cx="144.6" cy="204.1" r="1.85" fill="#A0A216"/>
<circle cx="135.9" cy="152.4" r="1.85" fill="#A0A216"/>
<circle cx="143.3" cy="100.9" r="1.85" fill="#A0A216"/>
<circle cx="73.9" cy="143.9" r="1.85" fill="#EA7C74"/>
<circle cx="80.2" cy="116.1" r="1.85" fill="#EA7C74"/>
<circle cx="88.8" cy="154.9" r="1.85" fill="#A0A216"/>
<circle cx="195.5" cy="54.3" r="1.85" fill="#A0A216"/>
<circle cx="71.9" cy="142.4" r="1.85" fill="#EA7C74"/>
<circle cx="182.8" cy="123.2" r="1.85" fill="#A0A216"/>
<circle cx="216.7" cy="131.6" r="1.85" fill="#A0A216"/>
<circle cx="181.2" cy="172.2" r="1.85" fill="#A0A216"/>
<circle cx="75.5" cy="125.2" r="1.85" fill="#EA7C74"/>
<circle cx="92.7" cy="100.5" r="1.85" fill="#EA7C74"/>
<circle cx="103.9" cy="173.3" r="1.85" fill="#A0A216"/>
<circle cx="100.0" cy="145.1" r="1.85" fill="#EA7C74"/>
<circle cx="121.9" cy="80.8" r="1.85" fill="#A0A216"/>
<circle cx="132.5" cy="90.6" r="1.85" fill="#A0A216"/>
<circle cx="105.2" cy="158.5" r="1.85" fill="#13B57D"/>
<circle cx="235.5" cy="104.2" r="1.85" fill="#A0A216"/>
<circle cx="77.4" cy="153.3" r="1.85" fill="#EA7C74"/>
<circle cx="92.2" cy="111.8" r="1.85" fill="#A0A216"/>
<circle cx="224.3" cy="128.2" r="1.85" fill="#13B57D"/>
<circle cx="78.4" cy="158.2" r="1.85" fill="#A0A216"/>
<circle cx="136.7" cy="95.1" r="1.85" fill="#A0A216"/>
<circle cx="143.1" cy="118.2" r="1.85" fill="#A0A216"/>
<circle cx="206.0" cy="97.1" r="1.85" fill="#A0A216"/>
<circle cx="77.7" cy="177.9" r="1.85" fill="#13B57D"/>
<circle cx="259.2" cy="130.9" r="1.85" fill="#A0A216"/>
<circle cx="99.1" cy="194.6" r="1.85" fill="#13B57D"/>
<circle cx="349.5" cy="144.0" r="1.85" fill="#A0A216"/>
<circle cx="69.9" cy="164.1" r="1.85" fill="#14A9E5"/>
<circle cx="94.0" cy="115.4" r="1.85" fill="#EA7C74"/>
<circle cx="70.3" cy="164.1" r="1.85" fill="#EA7C74"/>
<circle cx="130.0" cy="141.1" r="1.85" fill="#EA7C74"/>
<circle cx="187.4" cy="139.5" r="1.85" fill="#13B57D"/>
<circle cx="244.9" cy="142.7" r="1.85" fill="#A0A216"/>
<circle cx="169.8" cy="191.4" r="1.85" fill="#13B57D"/>
<circle cx="148.6" cy="78.4" r="1.85" fill="#A0A216"/>
<circle cx="167.8" cy="145.2" r="1.85" fill="#A0A216"/>
<circle cx="122.2" cy="152.5" r="1.85" fill="#A0A216"/>
<circle cx="72.2" cy="205.3" r="1.85" fill="#13B57D"/>
<circle cx="182.8" cy="157.7" r="1.85" fill="#A0A216"/>
<circle cx="145.2" cy="154.4" r="1.85" fill="#13B57D"/>
<circle cx="83.6" cy="174.0" r="1.85" fill="#DC73E7"/>
<circle cx="162.4" cy="137.5" r="1.85" fill="#EA7C74"/>
<circle cx="78.1" cy="167.6" r="1.85" fill="#EA7C74"/>
<circle cx="198.4" cy="183.0" r="1.85" fill="#EA7C74"/>
<circle cx="293.4" cy="119.4" r="1.85" fill="#A0A216"/>
<circle cx="302.5" cy="111.0" r="1.85" fill="#A0A216"/>
<circle cx="98.4" cy="198.3" r="1.85" fill="#13B57D"/>
<circle cx="68.5" cy="171.6" r="1.85" fill="#13B57D"/>
<circle cx="98.0" cy="170.4" r="1.85" fill="#13B57D"/>
<circle cx="73.3" cy="174.8" r="1.85" fill="#13B57D"/>
<circle cx="111.9" cy="192.8" r="1.85" fill="#13B57D"/>
<circle cx="117.4" cy="202.4" r="1.85" fill="#A0A216"/>
<circle cx="179.5" cy="107.6" r="1.85" fill="#A0A216"/>
<circle cx="103.9" cy="175.9" r="1.85" fill="#13B57D"/>
<circle cx="85.1" cy="169.8" r="1.85" fill="#EA7C74"/>
<circle cx="85.7" cy="135.7" r="1.85" fill="#EA7C74"/>
<circle cx="207.9" cy="150.7" r="1.85" fill="#A0A216"/>
<circle cx="89.4" cy="180.0" r="1.85" fill="#13B57D"/>
<circle cx="140.4" cy="140.2" r="1.85" fill="#EA7C74"/>
<circle cx="95.8" cy="118.2" r="1.85" fill="#EA7C74"/>
<circle cx="147.5" cy="114.1" r="1.85" fill="#EA7C74"/>
<circle cx="121.6" cy="154.4" r="1.85" fill="#EA7C74"/>
<circle cx="138.3" cy="135.9" r="1.85" fill="#A0A216"/>
<circle cx="108.5" cy="120.9" r="1.85" fill="#A0A216"/>
<circle cx="119.4" cy="108.4" r="1.85" fill="#A0A216"/>
<circle cx="92.3" cy="134.3" r="1.85" fill="#14A9E5"/>
<circle cx="182.3" cy="124.9" r="1.85" fill="#A0A216"/>
<circle cx="362.3" cy="94.1" r="1.85" fill="#A0A216"/>
<circle cx="133.7" cy="177.3" r="1.85" fill="#EA7C74"/>
<circle cx="138.5" cy="138.1" r="1.85" fill="#A0A216"/>
<circle cx="173.9" cy="133.9" r="1.85" fill="#EA7C74"/>
<circle cx="147.4" cy="161.3" r="1.85" fill="#A0A216"/>
<circle cx="82.9" cy="154.0" r="1.85" fill="#EA7C74"/>
<circle cx="82.1" cy="224.0" r="1.85" fill="#13B57D"/>
<circle cx="80.0" cy="110.2" r="1.85" fill="#EA7C74"/>
<circle cx="69.1" cy="140.1" r="1.85" fill="#EA7C74"/>
<circle cx="204.1" cy="135.6" r="1.85" fill="#A0A216"/>
<circle cx="177.8" cy="95.1" r="1.85" fill="#A0A216"/>
<circle cx="90.5" cy="198.9" r="1.85" fill="#EA7C74"/>
<circle cx="104.7" cy="207.4" r="1.85" fill="#A0A216"/>
<circle cx="111.7" cy="184.2" r="1.85" fill="#13B57D"/>
<circle cx="104.2" cy="98.0" r="1.85" fill="#A0A216"/>
<circle cx="132.6" cy="135.0" r="1.85" fill="#A0A216"/>
<circle cx="95.6" cy="165.0" r="1.85" fill="#EA7C74"/>
<circle cx="71.5" cy="169.2" r="1.85" fill="#13B57D"/>
<circle cx="134.3" cy="182.1" r="1.85" fill="#13B57D"/>
<circle cx="289.5" cy="161.2" r="1.85" fill="#A0A216"/>
<circle cx="177.6" cy="168.5" r="1.85" fill="#A0A216"/>
<circle cx="228.6" cy="189.2" r="1.85" fill="#A0A216"/>
<circle cx="109.7" cy="178.6" r="1.85" fill="#EA7C74"/>
<circle cx="98.6" cy="99.6" r="1.85" fill="#EA7C74"/>
<circle cx="68.5" cy="107.3" r="1.85" fill="#EA7C74"/>
<circle cx="170.1" cy="169.2" r="1.85" fill="#A0A216"/>
<circle cx="139.2" cy="155.6" r="1.85" fill="#EA7C74"/>
<circle cx="113.3" cy="166.8" r="1.85" fill="#13B57D"/>
<circle cx="172.3" cy="119.1" r="1.85" fill="#A0A216"/>
<circle cx="190.6" cy="185.5" r="1.85" fill="#A0A216"/>
<circle cx="155.0" cy="157.0" r="1.85" fill="#EA7C74"/>
<circle cx="210.3" cy="117.4" r="1.85" fill="#A0A216"/>
<circle cx="69.8" cy="213.6" r="1.85" fill="#14A9E5"/>
<circle cx="316.4" cy="130.9" r="1.85" fill="#A0A216"/>
<circle cx="81.1" cy="153.8" r="1.85" fill="#13B57D"/>
<circle cx="80.1" cy="153.1" r="1.85" fill="#EA7C74"/>
<circle cx="133.1" cy="136.8" r="1.85" fill="#EA7C74"/>
<circle cx="119.8" cy="115.4" r="1.85" fill="#A0A216"/>
<circle cx="166.6" cy="150.4" r="1.85" fill="#A0A216"/>
<circle cx="116.5" cy="158.7" r="1.85" fill="#EA7C74"/>
<circle cx="69.3" cy="192.0" r="1.85" fill="#13B57D"/>
<circle cx="78.6" cy="191.6" r="1.85" fill="#13B57D"/>
<circle cx="247.2" cy="168.7" r="1.85" fill="#A0A216"/>
<circle cx="139.0" cy="85.8" r="1.85" fill="#A0A216"/>
<circle cx="264.1" cy="161.0" r="1.85" fill="#A0A216"/>
<circle cx="86.4" cy="182.4" r="1.85" fill="#13B57D"/>
<circle cx="251.0" cy="174.8" r="1.85" fill="#A0A216"/>
<circle cx="178.8" cy="160.7" r="1.85" fill="#A0A216"/>
<circle cx="188.0" cy="206.8" r="1.85" fill="#EA7C74"/>
<circle cx="295.1" cy="105.0" r="1.85" fill="#A0A216"/>
<circle cx="113.8" cy="166.7" r="1.85" fill="#EA7C74"/>
<circle cx="169.3" cy="163.1" r="1.85" fill="#13B57D"/>
<circle cx="68.9" cy="187.3" r="1.85" fill="#DC73E7"/>
<circle cx="155.7" cy="209.1" r="1.85" fill="#14A9E5"/>
<circle cx="101.8" cy="157.8" r="1.85" fill="#A0A216"/>
<circle cx="133.0" cy="151.3" r="1.85" fill="#A0A216"/>
<circle cx="69.6" cy="121.6" r="1.85" fill="#13B57D"/>
<circle cx="121.3" cy="101.3" r="1.85" fill="#A0A216"/>
<circle cx="122.3" cy="133.3" r="1.85" fill="#A0A216"/>
<circle cx="112.3" cy="132.6" r="1.85" fill="#EA7C74"/>
<circle cx="78.6" cy="218.6" r="1.85" fill="#DC73E7"/>
<circle cx="79.5" cy="175.9" r="1.85" fill="#13B57D"/>
<circle cx="74.1" cy="205.5" r="1.85" fill="#DC73E7"/>
<circle cx="242.6" cy="76.6" r="1.85" fill="#A0A216"/>
<circle cx="146.3" cy="145.7" r="1.85" fill="#EA7C74"/>
<circle cx="153.5" cy="134.2" r="1.85" fill="#EA7C74"/>
<circle cx="256.4" cy="95.8" r="1.85" fill="#A0A216"/>
<circle cx="157.3" cy="133.2" r="1.85" fill="#A0A216"/>
<circle cx="132.2" cy="131.7" r="1.85" fill="#A0A216"/>
<circle cx="179.9" cy="156.1" r="1.85" fill="#EA7C74"/>
<circle cx="182.1" cy="179.0" r="1.85" fill="#EA7C74"/>
<circle cx="224.7" cy="93.9" r="1.85" fill="#A0A216"/>
<circle cx="148.3" cy="79.3" r="1.85" fill="#A0A216"/>
<circle cx="73.5" cy="177.9" r="1.85" fill="#13B57D"/>
<circle cx="244.5" cy="109.6" r="1.85" fill="#A0A216"/>
<circle cx="149.2" cy="149.1" r="1.85" fill="#A0A216"/>
<circle cx="196.3" cy="164.6" r="1.85" fill="#A0A216"/>
<circle cx="212.0" cy="119.9" r="1.85" fill="#A0A216"/>
<circle cx="221.1" cy="152.5" r="1.85" fill="#EA7C74"/>
<circle cx="179.4" cy="166.8" r="1.85" fill="#EA7C74"/>
<circle cx="144.9" cy="138.1" r="1.85" fill="#A0A216"/>
<circle cx="140.2" cy="154.1" r="1.85" fill="#A0A216"/>
<circle cx="161.0" cy="153.3" r="1.85" fill="#EA7C74"/>
<circle cx="127.9" cy="152.9" r="1.85" fill="#EA7C74"/>
<circle cx="152.7" cy="173.7" r="1.85" fill="#A0A216"/>
<circle cx="168.9" cy="103.9" r="1.85" fill="#A0A216"/>
<circle cx="171.4" cy="126.0" r="1.85" fill="#A0A216"/>
<circle cx="79.8" cy="131.8" r="1.85" fill="#EA7C74"/>
<circle cx="123.0" cy="125.1" r="1.85" fill="#A0A216"/>
<circle cx="171.7" cy="134.7" r="1.85" fill="#A0A216"/>
<circle cx="139.5" cy="125.5" r="1.85" fill="#A0A216"/>
<circle cx="80.1" cy="158.8" r="1.85" fill="#A0A216"/>
<circle cx="224.9" cy="88.5" r="1.85" fill="#A0A216"/>
<circle cx="247.3" cy="125.6" r="1.85" fill="#A0A216"/>
<circle cx="71.9" cy="145.2" r="1.85" fill="#13B57D"/>
<circle cx="136.6" cy="101.3" r="1.85" fill="#A0A216"/>
<circle cx="97.7" cy="235.4" r="1.85" fill="#EA7C74"/>
<circle cx="190.1" cy="132.1" r="1.85" fill="#A0A216"/>
<circle cx="73.7" cy="146.7" r="1.85" fill="#13B57D"/>
<circle cx="123.0" cy="116.0" r="1.85" fill="#A0A216"/>
<circle cx="208.6" cy="172.6" r="1.85" fill="#A0A216"/>
<circle cx="88.7" cy="197.8" r="1.85" fill="#A0A216"/>
<circle cx="181.6" cy="137.5" r="1.85" fill="#A0A216"/>
<circle cx="304.9" cy="53.2" r="1.85" fill="#A0A216"/>
<circle cx="288.2" cy="146.2" r="1.85" fill="#A0A216"/>
<circle cx="270.6" cy="108.7" r="1.85" fill="#A0A216"/>
<circle cx="106.8" cy="127.2" r="1.85" fill="#EA7C74"/>
<circle cx="138.7" cy="148.3" r="1.85" fill="#A0A216"/>
<circle cx="78.8" cy="146.0" r="1.85" fill="#EA7C74"/>
<circle cx="218.7" cy="151.3" r="1.85" fill="#A0A216"/>
<circle cx="146.6" cy="105.0" r="1.85" fill="#A0A216"/>
<circle cx="265.6" cy="170.0" r="1.85" fill="#EA7C74"/>
<circle cx="71.3" cy="240.0" r="1.85" fill="#13B57D"/>
<circle cx="73.9" cy="166.5" r="1.85" fill="#13B57D"/>
<circle cx="117.1" cy="178.4" r="1.85" fill="#EA7C74"/>
<circle cx="206.6" cy="108.9" r="1.85" fill="#A0A216"/>
<circle cx="226.2" cy="146.9" r="1.85" fill="#EA7C74"/>
<circle cx="116.1" cy="134.9" r="1.85" fill="#13B57D"/>
<circle cx="149.7" cy="142.4" r="1.85" fill="#EA7C74"/>
<circle cx="107.4" cy="195.0" r="1.85" fill="#13B57D"/>
<circle cx="165.2" cy="98.1" r="1.85" fill="#A0A216"/>
<circle cx="152.8" cy="127.0" r="1.85" fill="#A0A216"/>
<circle cx="239.1" cy="190.7" r="1.85" fill="#EA7C74"/>
<circle cx="133.2" cy="185.2" r="1.85" fill="#13B57D"/>
<circle cx="81.5" cy="151.2" r="1.85" fill="#EA7C74"/>
<circle cx="262.6" cy="119.7" r="1.85" fill="#A0A216"/>
<circle cx="126.6" cy="130.6" r="1.85" fill="#A0A216"/>
<circle cx="253.0" cy="128.2" r="1.85" fill="#A0A216"/>
<circle cx="107.7" cy="176.5" r="1.85" fill="#13B57D"/>
<circle cx="98.6" cy="184.3" r="1.85" fill="#13B57D"/>
<circle cx="88.7" cy="175.4" r="1.85" fill="#EA7C74"/>
<circle cx="170.8" cy="204.6" r="1.85" fill="#EA7C74"/>
<circle cx="70.9" cy="169.5" r="1.85" fill="#14A9E5"/>
<circle cx="151.5" cy="146.6" r="1.85" fill="#EA7C74"/>
<circle cx="179.8" cy="112.4" r="1.85" fill="#A0A216"/>
<circle cx="173.0" cy="110.8" r="1.85" fill="#A0A216"/>
<circle cx="275.7" cy="111.4" r="1.85" fill="#A0A216"/>
<circle cx="74.6" cy="218.0" r="1.85" fill="#13B57D"/>
<circle cx="211.9" cy="175.7" r="1.85" fill="#A0A216"/>
<circle cx="68.4" cy="147.0" r="1.85" fill="#13B57D"/>
<circle cx="183.4" cy="154.6" r="1.85" fill="#EA7C74"/>
<circle cx="78.0" cy="149.7" r="1.85" fill="#13B57D"/>
<circle cx="167.8" cy="115.9" r="1.85" fill="#A0A216"/>
<circle cx="72.9" cy="216.2" r="1.85" fill="#13B57D"/>
<circle cx="87.0" cy="174.5" r="1.85" fill="#14A9E5"/>
<circle cx="177.9" cy="158.4" r="1.85" fill="#EA7C74"/>
<circle cx="89.2" cy="150.4" r="1.85" fill="#13B57D"/>
<circle cx="74.9" cy="156.0" r="1.85" fill="#13B57D"/>
<circle cx="90.4" cy="210.2" r="1.85" fill="#13B57D"/>
<circle cx="126.2" cy="172.3" r="1.85" fill="#13B57D"/>
<circle cx="127.6" cy="97.7" r="1.85" fill="#EA7C74"/>
<circle cx="149.5" cy="121.0" r="1.85" fill="#A0A216"/>
<circle cx="99.5" cy="176.2" r="1.85" fill="#13B57D"/>
<circle cx="161.6" cy="157.8" r="1.85" fill="#EA7C74"/>
<circle cx="253.9" cy="115.6" r="1.85" fill="#A0A216"/>
<circle cx="142.2" cy="151.7" r="1.85" fill="#EA7C74"/>
<circle cx="329.3" cy="71.2" r="1.85" fill="#A0A216"/>
<circle cx="136.7" cy="150.6" r="1.85" fill="#13B57D"/>
<circle cx="95.6" cy="139.2" r="1.85" fill="#14A9E5"/>
<circle cx="70.9" cy="202.5" r="1.85" fill="#14A9E5"/>
<circle cx="183.5" cy="141.3" r="1.85" fill="#A0A216"/>
<circle cx="132.5" cy="116.4" r="1.85" fill="#A0A216"/>
<circle cx="75.2" cy="115.3" r="1.85" fill="#EA7C74"/>
<circle cx="127.1" cy="139.8" r="1.85" fill="#A0A216"/>
<circle cx="139.2" cy="135.5" r="1.85" fill="#A0A216"/>
<circle cx="81.4" cy="200.6" r="1.85" fill="#13B57D"/>
<circle cx="82.3" cy="173.1" r="1.85" fill="#13B57D"/>
<circle cx="129.6" cy="168.8" r="1.85" fill="#EA7C74"/>
<circle cx="70.1" cy="152.0" r="1.85" fill="#13B57D"/>
<circle cx="120.1" cy="171.8" r="1.85" fill="#A0A216"/>
<circle cx="114.9" cy="131.4" r="1.85" fill="#A0A216"/>
<circle cx="117.6" cy="136.6" r="1.85" fill="#EA7C74"/>
<circle cx="89.1" cy="153.1" r="1.85" fill="#13B57D"/>
<circle cx="179.9" cy="147.9" r="1.85" fill="#A0A216"/>
<circle cx="237.9" cy="101.4" r="1.85" fill="#A0A216"/>
<circle cx="70.6" cy="231.4" r="1.85" fill="#13B57D"/>
<circle cx="172.7" cy="107.2" r="1.85" fill="#A0A216"/>
<circle cx="232.7" cy="118.5" r="1.85" fill="#A0A216"/>
<circle cx="121.0" cy="148.3" r="1.85" fill="#EA7C74"/>
<circle cx="129.3" cy="158.5" r="1.85" fill="#A0A216"/>
<circle cx="85.2" cy="137.0" r="1.85" fill="#A0A216"/>
<circle cx="265.5" cy="172.4" r="1.85" fill="#EA7C74"/>
<circle cx="144.3" cy="80.1" r="1.85" fill="#A0A216"/>
<circle cx="103.5" cy="178.0" r="1.85" fill="#13B57D"/>
<circle cx="280.3" cy="138.6" r="1.85" fill="#A0A216"/>
<circle cx="93.6" cy="175.3" r="1.85" fill="#A0A216"/>
<circle cx="95.9" cy="177.7" r="1.85" fill="#EA7C74"/>
<circle cx="153.7" cy="123.8" r="1.85" fill="#EA7C74"/>
<circle cx="222.5" cy="157.6" r="1.85" fill="#A0A216"/>
<circle cx="233.9" cy="113.7" r="1.85" fill="#A0A216"/>
<circle cx="120.7" cy="158.3" r="1.85" fill="#A0A216"/>
<circle cx="223.9" cy="93.2" r="1.85" fill="#A0A216"/>
<circle cx="312.7" cy="125.0" r="1.85" fill="#A0A216"/>
<circle cx="134.7" cy="175.2" r="1.85" fill="#EA7C74"/>
<circle cx="332.2" cy="156.8" r="1.85" fill="#A0A216"/>
<circle cx="109.5" cy="101.5" r="1.85" fill="#A0A216"/>
<circle cx="80.6" cy="178.3" r="1.85" fill="#13B57D"/>
<circle cx="198.7" cy="101.6" r="1.85" fill="#A0A216"/>
<circle cx="247.9" cy="88.8" r="1.85" fill="#A0A216"/>
<circle cx="104.2" cy="120.6" r="1.85" fill="#A0A216"/>
<circle cx="147.1" cy="149.1" r="1.85" fill="#EA7C74"/>
<circle cx="190.6" cy="177.6" r="1.85" fill="#A0A216"/>
<circle cx="233.7" cy="157.0" r="1.85" fill="#13B57D"/>
<circle cx="123.1" cy="189.6" r="1.85" fill="#A0A216"/>
<circle cx="161.5" cy="186.6" r="1.85" fill="#A0A216"/>
<circle cx="98.2" cy="300.2" r="1.85" fill="#13B57D"/>
<circle cx="246.1" cy="99.5" r="1.85" fill="#A0A216"/>
<circle cx="156.5" cy="179.9" r="1.85" fill="#EA7C74"/>
</g>
<path d="M68.5 156.0 L75.0 155.3 L80.0 155.7 L90.0 155.1 L120.0 155.3 L160.0 155.0 L200.0 154.0 L240.0 150.8 L250.0 149.9 L280.0 146.1 L290.0 145.1 L320.0 141.0 L350.0 136.2 L360.0 134.0 L380.0 129.5 L400.0 123.0 L410.0 119.8 L430.2 111.5 L430.2 185.5 L410.0 177.8 L400.0 175.0 L380.0 169.5 L360.0 166.0 L350.0 164.2 L320.0 161.0 L290.0 159.1 L280.0 158.9 L250.0 158.9 L240.0 159.2 L200.0 159.6 L160.0 160.0 L120.0 159.7 L90.0 159.9 L80.0 160.7 L75.0 161.7 L68.5 164.0Z" fill="#999" fill-opacity="0.4"/>
<path d="M68.5 160.0 L75.0 158.5 L90.0 157.5 L120.0 157.5 L160.0 157.5 L200.0 156.8 L240.0 155.0 L280.0 152.5 L320.0 151.0 L360.0 150.0 L400.0 149.0 L430.2 148.5" fill="none" stroke="#F8766D" stroke-width="1.75" stroke-linejoin="round"/>
<path d="M76.0 107.0 L79.0 112.9 L82.0 116.8 L86.0 120.1 L90.0 122.0 L95.0 123.6 L110.0 124.8 L140.0 123.9 L170.0 121.9 L200.0 119.9 L240.0 116.6 L260.0 115.0 L280.0 113.2 L300.0 111.7 L320.0 109.5 L350.0 106.6 L360.0 105.3 L380.0 103.0 L400.0 100.7 L420.0 98.7 L440.0 96.2 L460.0 92.1 L480.0 87.2 L500.0 82.7 L510.0 79.6 L537.6 71.6 L537.6 159.0 L510.0 148.4 L500.0 144.7 L480.0 138.8 L460.0 133.1 L440.0 128.2 L420.0 125.7 L400.0 123.7 L380.0 122.0 L360.0 120.3 L350.0 119.6 L320.0 118.5 L300.0 118.8 L280.0 119.8 L260.0 121.0 L240.0 122.4 L200.0 125.1 L170.0 127.1 L140.0 129.1 L110.0 131.2 L95.0 133.2 L90.0 135.0 L86.0 137.1 L82.0 140.8 L79.0 144.9 L76.0 151.0Z" fill="#999" fill-opacity="0.4"/>
<path d="M76.0 129.0 L90.0 128.5 L110.0 128.0 L140.0 126.5 L170.0 124.5 L200.0 122.5 L240.0 119.5 L280.0 116.5 L320.0 114.0 L360.0 112.8 L400.0 112.2 L440.0 112.2 L480.0 113.0 L510.0 114.0 L537.6 115.3" fill="none" stroke="#A3A500" stroke-width="1.75" stroke-linejoin="round"/>
<path d="M68.3 113.0 L70.0 129.4 L72.0 148.0 L74.0 162.2 L77.0 172.6 L80.0 175.2 L81.0 176.0 L90.0 174.5 L105.0 173.5 L120.0 172.8 L125.0 172.3 L150.0 168.9 L160.0 167.3 L175.0 164.0 L190.0 160.4 L200.0 157.0 L215.0 150.7 L225.0 145.5 L235.0 139.2 L245.0 131.9 L248.0 129.7 L256.0 124.0 L256.0 181.0 L248.0 179.7 L245.0 179.1 L235.0 177.2 L225.0 176.5 L215.0 175.7 L200.0 176.0 L190.0 175.4 L175.0 176.0 L160.0 176.3 L150.0 177.1 L125.0 178.7 L120.0 178.8 L105.0 179.5 L90.0 180.5 L81.0 182.0 L80.0 181.2 L77.0 179.4 L74.0 169.8 L72.0 156.0 L70.0 140.6 L68.3 127.0Z" fill="#999" fill-opacity="0.4"/>
<path d="M68.3 120.0 L70.0 135.0 L72.0 152.0 L74.0 166.0 L77.0 176.0 L81.0 179.0 L90.0 177.5 L105.0 176.5 L125.0 175.5 L150.0 173.0 L175.0 170.0 L200.0 166.5 L225.0 161.0 L245.0 155.5 L256.0 152.5" fill="none" stroke="#00BF7D" stroke-width="1.75" stroke-linejoin="round"/>
<path d="M68.8 99.0 L72.0 103.0 L75.0 106.0 L77.0 108.0 L78.0 109.0 L79.8 110.8 L80.0 111.0 L80.6 116.4 L81.0 120.0 L81.5 131.5 L82.3 150.0 L83.6 172.0 L84.7 176.2 L87.1 185.5 L90.4 190.0 L91.9 191.4 L97.8 197.0 L103.7 196.7 L104.0 196.7 L109.6 184.9 L113.6 176.5 L115.5 174.1 L121.4 166.8 L127.0 160.6 L128.5 158.9 L134.0 153.9 L135.5 152.6 L139.1 147.6 L142.6 142.8 L144.3 140.8 L148.5 136.0 L149.4 135.2 L152.0 133.0 L153.7 131.3 L154.0 131.0 L155.1 130.0 L155.1 296.0 L154.0 291.3 L153.7 290.0 L152.0 284.0 L149.4 274.7 L148.5 272.0 L144.3 259.3 L142.6 255.4 L139.1 247.3 L135.5 243.8 L134.0 242.3 L128.5 242.3 L127.0 242.3 L121.4 246.5 L115.5 254.1 L113.6 256.5 L109.6 259.3 L104.0 263.3 L103.7 263.5 L97.8 268.0 L91.9 270.4 L90.4 271.0 L87.1 265.0 L84.7 253.3 L83.6 248.0 L82.3 232.0 L81.5 221.5 L81.0 215.0 L80.6 211.4 L80.0 206.0 L79.8 205.4 L78.0 200.0 L77.0 198.3 L75.0 195.0 L72.0 190.0 L68.8 185.0Z" fill="#999" fill-opacity="0.4"/>
<path d="M68.8 107.0 L72.0 111.0 L75.0 114.0 L78.0 117.0 L79.8 121.0 L80.6 130.0 L81.0 145.0 L81.5 165.0 L82.3 185.0 L83.6 210.0 L87.1 225.5 L91.9 232.0 L97.8 232.6 L103.7 230.2 L109.6 223.0 L115.5 213.7 L121.4 205.4 L128.5 200.7 L135.5 198.8 L142.6 197.9 L148.5 198.3 L155.1 200.7" fill="none" stroke="#00B0F6" stroke-width="1.75" stroke-linejoin="round"/>
<path d="M68.4 164.0 L71.1 135.0 L72.7 118.3 L73.4 118.1 L74.0 116.9 L75.5 112.0 L77.0 100.0 L77.7 87.8 L78.2 72.3 L78.7 88.0 L79.3 100.0 L81.0 111.3 L82.0 107.0 L84.1 132.0 L85.7 142.8 L87.6 145.6 L90.3 139.0 L92.3 153.8 L94.5 161.5 L97.0 167.9 L97.5 169.2 L101.8 161.8 L104.1 159.8 L106.0 158.8 L110.4 156.2 L113.8 146.8 L117.2 138.0 L119.8 138.0 L121.9 138.0 L121.9 406.9 L119.8 396.7 L117.2 381.0 L113.8 366.8 L110.4 362.2 L106.0 364.0 L104.1 364.8 L101.8 366.6 L97.5 366.4 L97.0 368.5 L94.5 379.5 L92.3 389.8 L90.3 395.0 L87.6 369.6 L85.7 346.8 L84.1 336.0 L82.0 319.0 L81.0 295.3 L79.3 276.0 L78.7 282.0 L78.2 294.3 L77.7 281.8 L77.0 276.0 L75.5 284.0 L74.0 296.9 L73.4 302.7 L72.7 308.3 L71.1 305.0 L68.4 300.0Z" fill="#999" fill-opacity="0.4"/>
<path d="M68.4 232.0 L71.1 220.0 L73.4 210.4 L75.5 198.0 L77.0 188.0 L77.7 184.8 L78.2 183.3 L78.7 185.0 L79.3 188.0 L81.0 203.3 L82.0 213.0 L84.1 234.0 L87.6 257.6 L90.3 267.0 L92.3 271.8 L94.5 270.5 L97.0 268.2 L101.8 264.2 L104.1 262.3 L106.0 261.4 L110.4 259.2 L113.8 256.8 L117.2 253.0 L119.8 250.3 L121.9 247.9" fill="none" stroke="#E76BF3" stroke-width="1.75" stroke-linejoin="round"/>
<line x1="44.9" x2="560.8" y1="136.4" y2="136.4" stroke="#222" stroke-width="0.8"/>
</g>
<g stroke="#444" stroke-width="0.9">
<line x1="66.9" x2="66.9" y1="432.3" y2="435.5"/>
<line x1="187.1" x2="187.1" y1="432.3" y2="435.5"/>
<line x1="307.3" x2="307.3" y1="432.3" y2="435.5"/>
<line x1="427.5" x2="427.5" y1="432.3" y2="435.5"/>
<line x1="547.7" x2="547.7" y1="432.3" y2="435.5"/>
<line x1="41.7" x2="44.9" y1="349.8" y2="349.8"/>
<line x1="41.7" x2="44.9" y1="243.1" y2="243.1"/>
<line x1="41.7" x2="44.9" y1="136.4" y2="136.4"/>
<line x1="41.7" x2="44.9" y1="29.7" y2="29.7"/>
</g>
<g fill="#606060" font-size="8.4">
<text x="66.9" y="445.7" text-anchor="middle">0</text>
<text x="187.1" y="445.7" text-anchor="middle">500</text>
<text x="307.3" y="445.7" text-anchor="middle">1000</text>
<text x="427.5" y="445.7" text-anchor="middle">1500</text>
<text x="547.7" y="445.7" text-anchor="middle">2000</text>
<text x="40" y="353.3" text-anchor="end">500</text>
<text x="40" y="246.6" text-anchor="end">750</text>
<text x="40" y="139.9" text-anchor="end">1000</text>
<text x="40" y="33.2" text-anchor="end">1250</text>
</g>
<text x="303.2" y="459" text-anchor="middle" font-size="10.2" fill="#1c1c1c">student_number</text>
<text transform="translate(15 219.1) rotate(-90)" text-anchor="middle" font-size="10.4" fill="#1c1c1c">ICSEA_Value</text>
<text x="577.3" y="182.3" font-size="10.2" fill="#1c1c1c">ASGS_remoteness</text>
<rect x="577.3" y="185.1" width="16" height="81.2" fill="#CECECE"/>
<line x1="578.9" x2="591.7" y1="193.2" y2="193.2" stroke="#F8766D" stroke-width="1.3"/>
<circle cx="585.3" cy="193.2" r="1.5" fill="#F8766D"/>
<text x="595.6" y="196.3" font-size="8.6" fill="#1c1c1c">Inner Regional Australia</text>
<line x1="578.9" x2="591.7" y1="209.5" y2="209.5" stroke="#A3A500" stroke-width="1.3"/>
<circle cx="585.3" cy="209.5" r="1.5" fill="#A3A500"/>
<text x="595.6" y="212.6" font-size="8.6" fill="#1c1c1c">Major Cities of Australia</text>
<line x1="578.9" x2="591.7" y1="225.7" y2="225.7" stroke="#00BF7D" stroke-width="1.3"/>
<circle cx="585.3" cy="225.7" r="1.5" fill="#00BF7D"/>
<text x="595.6" y="228.8" font-size="8.6" fill="#1c1c1c">Outer Regional Australia</text>
<line x1="578.9" x2="591.7" y1="242.0" y2="242.0" stroke="#00B0F6" stroke-width="1.3"/>
<circle cx="585.3" cy="242.0" r="1.5" fill="#00B0F6"/>
<text x="595.6" y="245.1" font-size="8.6" fill="#1c1c1c">Remote Australia</text>
<line x1="578.9" x2="591.7" y1="258.2" y2="258.2" stroke="#E76BF3" stroke-width="1.3"/>
<circle cx="585.3" cy="258.2" r="1.5" fill="#E76BF3"/>
<text x="595.6" y="261.3" font-size="8.6" fill="#1c1c1c">Very Remote Australia</text>
</svg></body></html>
